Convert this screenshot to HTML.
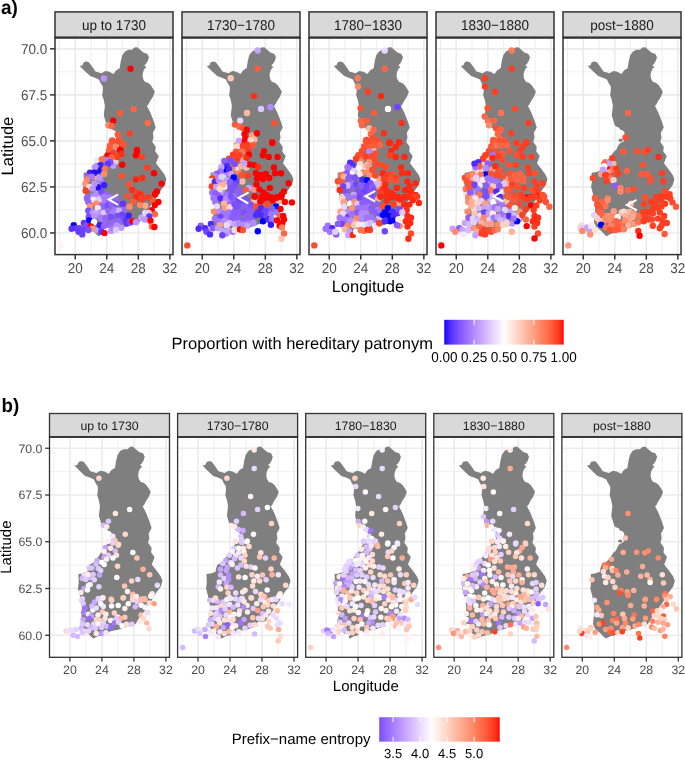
<!DOCTYPE html>
<html><head><meta charset="utf-8"><style>
html,body{margin:0;padding:0;background:#fff;width:685px;height:768px;overflow:hidden}
svg text{font-family:"Liberation Sans", sans-serif;text-rendering:geometricPrecision}
</style></head><body><div style="will-change:transform;width:685px;height:768px;filter:blur(0.3px)">
<svg width="685" height="768" viewBox="0 0 685 768" style="display:block"><rect width="685" height="768" fill="#fff"/><defs><clipPath id="ca0"><rect x="55" y="37.6" width="118" height="217.0"/></clipPath></defs><g clip-path="url(#ca0)"><line x1="59.47" y1="37.6" x2="59.47" y2="254.6" stroke="#ebebeb" stroke-width="0.8"/><line x1="91.01" y1="37.6" x2="91.01" y2="254.6" stroke="#ebebeb" stroke-width="0.8"/><line x1="122.55" y1="37.6" x2="122.55" y2="254.6" stroke="#ebebeb" stroke-width="0.8"/><line x1="154.09" y1="37.6" x2="154.09" y2="254.6" stroke="#ebebeb" stroke-width="0.8"/><line x1="55" y1="209.93" x2="173" y2="209.93" stroke="#ebebeb" stroke-width="0.8"/><line x1="55" y1="163.90" x2="173" y2="163.90" stroke="#ebebeb" stroke-width="0.8"/><line x1="55" y1="117.88" x2="173" y2="117.88" stroke="#ebebeb" stroke-width="0.8"/><line x1="55" y1="71.85" x2="173" y2="71.85" stroke="#ebebeb" stroke-width="0.8"/><line x1="75.24" y1="37.6" x2="75.24" y2="254.6" stroke="#ebebeb" stroke-width="1.6"/><line x1="106.78" y1="37.6" x2="106.78" y2="254.6" stroke="#ebebeb" stroke-width="1.6"/><line x1="138.32" y1="37.6" x2="138.32" y2="254.6" stroke="#ebebeb" stroke-width="1.6"/><line x1="169.86" y1="37.6" x2="169.86" y2="254.6" stroke="#ebebeb" stroke-width="1.6"/><line x1="55" y1="232.94" x2="173" y2="232.94" stroke="#ebebeb" stroke-width="1.6"/><line x1="55" y1="186.91" x2="173" y2="186.91" stroke="#ebebeb" stroke-width="1.6"/><line x1="55" y1="140.89" x2="173" y2="140.89" stroke="#ebebeb" stroke-width="1.6"/><line x1="55" y1="94.87" x2="173" y2="94.87" stroke="#ebebeb" stroke-width="1.6"/><line x1="55" y1="48.84" x2="173" y2="48.84" stroke="#ebebeb" stroke-width="1.6"/><polygon points="79.89,66.15 81.15,65.41 82.42,65.59 83.12,63.57 84.23,62.10 85.88,61.54 88.57,61.91 90.22,64.12 92.82,67.62 95.43,71.48 98.89,72.40 101.50,73.14 105.36,70.93 109.22,71.85 113.56,74.06 116.16,70.20 119.63,68.35 120.89,60.62 122.16,55.47 124.99,51.42 128.46,49.76 132.01,49.76 134.30,47.55 137.22,47.18 140.21,49.76 143.76,52.71 147.23,53.81 148.96,57.31 147.86,60.81 146.05,63.75 144.31,65.41 146.60,67.25 144.86,68.35 143.13,71.85 142.50,75.35 143.13,78.85 144.86,81.79 148.33,83.08 150.78,85.29 153.06,88.79 154.88,91.74 153.06,96.52 150.15,101.12 148.33,104.62 146.99,105.91 150.54,112.91 154.09,122.30 155.75,127.45 152.83,132.79 153.46,137.39 152.28,141.99 155.75,146.78 155.27,151.38 158.74,155.99 158.19,157.46 155.98,163.17 160.40,169.06 164.73,174.95 166.47,179.37 164.73,185.07 160.40,190.97 155.67,198.88 150.94,205.33 147.78,210.85 143.84,215.45 139.90,221.89 136.74,223.74 132.01,224.10 127.28,225.94 122.55,227.42 118.61,228.34 114.66,229.26 110.72,232.02 106.78,232.94 102.84,233.86 98.50,236.25 95.74,233.86 93.38,231.10 91.01,229.26 87.86,226.50 85.88,221.89 86.28,216.37 87.07,210.85 87.07,203.48 85.49,197.96 85.10,194.28 83.12,186.91 83.91,181.39 83.60,172.74 87.70,172.19 92.59,170.35 92.98,167.58 94.16,163.90 98.11,161.51 102.05,157.46 105.99,151.38 108.12,150.09 109.93,146.04 111.59,143.47 115.14,141.63 116.01,140.89 116.48,137.02 116.48,133.71 116.48,132.42 115.14,130.76 112.06,129.48 111.20,127.63 107.73,126.35 106.78,125.06 105.44,121.01 103.78,115.30 104.89,105.91 103.78,100.02 103.39,98.73 102.13,95.23 102.76,90.63 102.76,86.58 100.55,83.08 98.89,79.58 95.43,77.93 90.22,76.09 84.23,70.56" fill="#7f7f7f"/><polygon points="110.33,140.34 111.35,138.86 113.48,138.68 114.82,139.79 114.03,141.63 111.67,141.63" fill="#7f7f7f"/><circle cx="93.3" cy="195.7" r="3.2" fill="#af86ff"/><circle cx="145.3" cy="205.7" r="3.2" fill="#ffa88e"/><circle cx="97.3" cy="193.7" r="3.2" fill="#b790ff"/><circle cx="115.3" cy="161.7" r="3.2" fill="#ffc9b6"/><circle cx="93.3" cy="199.7" r="3.2" fill="#f4ecff"/><circle cx="121.3" cy="227.7" r="3.2" fill="#bd98ff"/><circle cx="103.3" cy="201.7" r="3.2" fill="#a77dff"/><circle cx="101.3" cy="191.7" r="3.2" fill="#794cff"/><circle cx="97.3" cy="229.7" r="3.2" fill="#c09dff"/><circle cx="113.3" cy="165.7" r="3.2" fill="#c19dff"/><circle cx="85.3" cy="183.7" r="3.2" fill="#ff9678"/><circle cx="103.3" cy="221.7" r="3.2" fill="#996dff"/><circle cx="123.3" cy="209.7" r="3.2" fill="#9568ff"/><circle cx="125.3" cy="219.7" r="3.2" fill="#6138ff"/><circle cx="115.3" cy="207.7" r="3.2" fill="#9f74ff"/><circle cx="101.3" cy="181.7" r="3.2" fill="#9b6fff"/><circle cx="107.3" cy="229.7" r="3.2" fill="#faf6ff"/><circle cx="109.3" cy="201.7" r="3.2" fill="#9266ff"/><circle cx="141.3" cy="217.7" r="3.2" fill="#c8a7ff"/><circle cx="130.5" cy="68.7" r="3.2" fill="#ff0000"/><circle cx="103.9" cy="78.5" r="3.2" fill="#ba95ff"/><circle cx="133.8" cy="109.1" r="3.2" fill="#ff6544"/><circle cx="120.3" cy="113.1" r="3.2" fill="#ff5b3a"/><circle cx="113.2" cy="120.8" r="3.2" fill="#ff0000"/><circle cx="108.3" cy="125.2" r="3.2" fill="#ff8969"/><circle cx="111.5" cy="125.9" r="3.2" fill="#ff6544"/><circle cx="147.7" cy="123.0" r="3.2" fill="#ff6a49"/><circle cx="129.7" cy="133.5" r="3.2" fill="#ff3e22"/><circle cx="117.8" cy="134.4" r="3.2" fill="#ff5b3a"/><circle cx="112.2" cy="140.5" r="3.2" fill="#ff5b3a"/><circle cx="118.8" cy="139.8" r="3.2" fill="#ff5b3a"/><circle cx="123.2" cy="144.2" r="3.2" fill="#ff5031"/><circle cx="110.0" cy="145.6" r="3.2" fill="#ff6544"/><circle cx="115.9" cy="146.4" r="3.2" fill="#ff9273"/><circle cx="120.3" cy="149.3" r="3.2" fill="#ff0000"/><circle cx="137.0" cy="150.0" r="3.2" fill="#ff0000"/><circle cx="111.9" cy="141.2" r="3.2" fill="#ff5031"/><circle cx="118.4" cy="141.8" r="3.2" fill="#ff4a2c"/><circle cx="123.0" cy="144.4" r="3.2" fill="#ff5031"/><circle cx="110.2" cy="146.4" r="3.2" fill="#ff5b3a"/><circle cx="115.8" cy="147.0" r="3.2" fill="#ff8969"/><circle cx="120.1" cy="149.9" r="3.2" fill="#ff0000"/><circle cx="109.0" cy="150.5" r="3.2" fill="#ff5b3a"/><circle cx="121.3" cy="154.0" r="3.2" fill="#ff2e16"/><circle cx="113.1" cy="153.4" r="3.2" fill="#ff3e22"/><circle cx="107.8" cy="155.8" r="3.2" fill="#ff0000"/><circle cx="117.2" cy="156.9" r="3.2" fill="#ff3e22"/><circle cx="111.4" cy="157.5" r="3.2" fill="#ff6544"/><circle cx="97.3" cy="160.4" r="3.2" fill="#efe3ff"/><circle cx="106.1" cy="159.9" r="3.2" fill="#a77cff"/><circle cx="102.0" cy="159.3" r="3.2" fill="#ff7352"/><circle cx="110.2" cy="162.2" r="3.2" fill="#7b4eff"/><circle cx="107.8" cy="163.9" r="3.2" fill="#6037ff"/><circle cx="100.3" cy="165.1" r="3.2" fill="#3f1fff"/><circle cx="96.2" cy="167.4" r="3.2" fill="#a77cff"/><circle cx="98.5" cy="170.4" r="3.2" fill="#220dff"/><circle cx="105.3" cy="168.6" r="3.2" fill="#ff7352"/><circle cx="104.1" cy="173.9" r="3.2" fill="#ff8969"/><circle cx="96.8" cy="177.4" r="3.2" fill="#ff9e81"/><circle cx="99.7" cy="178.0" r="3.2" fill="#ba95ff"/><circle cx="96.2" cy="185.0" r="3.2" fill="#ba95ff"/><circle cx="97.9" cy="187.3" r="3.2" fill="#220dff"/><circle cx="104.1" cy="185.3" r="3.2" fill="#3f1fff"/><circle cx="137.0" cy="151.7" r="3.2" fill="#ff0000"/><circle cx="135.9" cy="155.2" r="3.2" fill="#ff0000"/><circle cx="141.7" cy="156.9" r="3.2" fill="#ff3e22"/><circle cx="122.2" cy="164.8" r="3.2" fill="#ff0000"/><circle cx="147.3" cy="167.7" r="3.2" fill="#ff3e22"/><circle cx="154.0" cy="173.3" r="3.2" fill="#ff0000"/><circle cx="121.6" cy="176.0" r="3.2" fill="#ff5031"/><circle cx="135.9" cy="179.4" r="3.2" fill="#ff2410"/><circle cx="142.3" cy="178.0" r="3.2" fill="#ff2e16"/><circle cx="161.6" cy="183.6" r="3.2" fill="#ff0000"/><circle cx="129.2" cy="184.4" r="3.2" fill="#ff5031"/><circle cx="132.1" cy="190.0" r="3.2" fill="#ff2e16"/><circle cx="156.9" cy="191.4" r="3.2" fill="#ff0000"/><circle cx="155.1" cy="194.3" r="3.2" fill="#ff0000"/><circle cx="137.0" cy="192.6" r="3.2" fill="#ff3e22"/><circle cx="140.5" cy="194.3" r="3.2" fill="#ff2e16"/><circle cx="127.7" cy="196.1" r="3.2" fill="#ff5031"/><circle cx="135.9" cy="197.2" r="3.2" fill="#ff2e16"/><circle cx="142.9" cy="197.8" r="3.2" fill="#ff3e22"/><circle cx="148.7" cy="197.2" r="3.2" fill="#ff3e22"/><circle cx="103.2" cy="196.1" r="3.2" fill="#7b4eff"/><circle cx="106.7" cy="194.9" r="3.2" fill="#9265ff"/><circle cx="99.7" cy="198.4" r="3.2" fill="#ba95ff"/><circle cx="116.0" cy="197.8" r="3.2" fill="#9265ff"/><circle cx="94.9" cy="167.2" r="3.2" fill="#ba95ff"/><circle cx="90.0" cy="172.8" r="3.2" fill="#3f1fff"/><circle cx="94.4" cy="172.8" r="3.2" fill="#220dff"/><circle cx="87.4" cy="176.8" r="3.2" fill="#9265ff"/><circle cx="87.0" cy="179.4" r="3.2" fill="#ff8969"/><circle cx="91.8" cy="176.8" r="3.2" fill="#a77cff"/><circle cx="94.4" cy="183.8" r="3.2" fill="#ba95ff"/><circle cx="89.2" cy="186.9" r="3.2" fill="#ffd9cb"/><circle cx="92.7" cy="188.6" r="3.2" fill="#ba95ff"/><circle cx="85.7" cy="190.8" r="3.2" fill="#ff3e22"/><circle cx="87.0" cy="197.8" r="3.2" fill="#9265ff"/><circle cx="87.0" cy="198.5" r="3.2" fill="#9265ff"/><circle cx="98.8" cy="199.4" r="3.2" fill="#dec8ff"/><circle cx="104.0" cy="196.8" r="3.2" fill="#a77cff"/><circle cx="109.3" cy="197.6" r="3.2" fill="#a77cff"/><circle cx="88.3" cy="202.0" r="3.2" fill="#9265ff"/><circle cx="96.2" cy="203.8" r="3.2" fill="#ff8969"/><circle cx="90.0" cy="206.4" r="3.2" fill="#ff9273"/><circle cx="102.3" cy="206.4" r="3.2" fill="#9265ff"/><circle cx="97.9" cy="208.1" r="3.2" fill="#efe3ff"/><circle cx="107.6" cy="205.5" r="3.2" fill="#7b4eff"/><circle cx="111.9" cy="204.6" r="3.2" fill="#9265ff"/><circle cx="88.3" cy="210.8" r="3.2" fill="#7b4eff"/><circle cx="92.7" cy="212.5" r="3.2" fill="#ba95ff"/><circle cx="96.2" cy="213.4" r="3.2" fill="#cdaeff"/><circle cx="100.5" cy="212.5" r="3.2" fill="#ba95ff"/><circle cx="104.0" cy="213.0" r="3.2" fill="#dec8ff"/><circle cx="108.4" cy="210.8" r="3.2" fill="#9265ff"/><circle cx="112.8" cy="212.5" r="3.2" fill="#a77cff"/><circle cx="88.7" cy="216.9" r="3.2" fill="#7b4eff"/><circle cx="94.4" cy="216.0" r="3.2" fill="#ba95ff"/><circle cx="100.5" cy="217.8" r="3.2" fill="#a77cff"/><circle cx="105.8" cy="217.8" r="3.2" fill="#9265ff"/><circle cx="111.1" cy="216.9" r="3.2" fill="#7b4eff"/><circle cx="89.2" cy="220.4" r="3.2" fill="#0000ff"/><circle cx="94.0" cy="222.2" r="3.2" fill="#ffffff"/><circle cx="83.9" cy="223.0" r="3.2" fill="#6037ff"/><circle cx="85.7" cy="225.7" r="3.2" fill="#7b4eff"/><circle cx="73.8" cy="225.2" r="3.2" fill="#0000ff"/><circle cx="71.6" cy="228.7" r="3.2" fill="#6037ff"/><circle cx="76.0" cy="228.3" r="3.2" fill="#6037ff"/><circle cx="79.5" cy="228.3" r="3.2" fill="#6b41ff"/><circle cx="78.6" cy="231.8" r="3.2" fill="#6037ff"/><circle cx="82.2" cy="234.4" r="3.2" fill="#6b41ff"/><circle cx="83.0" cy="230.0" r="3.2" fill="#6b41ff"/><circle cx="90.9" cy="226.5" r="3.2" fill="#ff0000"/><circle cx="92.2" cy="228.7" r="3.2" fill="#ff9273"/><circle cx="88.3" cy="230.0" r="3.2" fill="#7b4eff"/><circle cx="99.7" cy="225.2" r="3.2" fill="#3f1fff"/><circle cx="104.0" cy="226.1" r="3.2" fill="#9265ff"/><circle cx="108.4" cy="224.8" r="3.2" fill="#9265ff"/><circle cx="112.8" cy="223.0" r="3.2" fill="#9265ff"/><circle cx="101.4" cy="231.8" r="3.2" fill="#6037ff"/><circle cx="104.5" cy="233.1" r="3.2" fill="#ff0000"/><circle cx="111.1" cy="230.9" r="3.2" fill="#ba95ff"/><circle cx="113.7" cy="228.3" r="3.2" fill="#a77cff"/><circle cx="60.3" cy="245.4" r="3.2" fill="#fff4ef"/><circle cx="116.3" cy="203.8" r="3.2" fill="#7b4eff"/><circle cx="122.9" cy="203.8" r="3.2" fill="#6037ff"/><circle cx="133.0" cy="201.6" r="3.2" fill="#ff5b3a"/><circle cx="129.5" cy="206.8" r="3.2" fill="#ff8969"/><circle cx="140.0" cy="205.1" r="3.2" fill="#ff8969"/><circle cx="141.3" cy="199.4" r="3.2" fill="#ff3e22"/><circle cx="153.1" cy="201.1" r="3.2" fill="#ff5b3a"/><circle cx="158.4" cy="202.0" r="3.2" fill="#ff0000"/><circle cx="154.9" cy="205.1" r="3.2" fill="#ff0000"/><circle cx="151.8" cy="210.3" r="3.2" fill="#ff0000"/><circle cx="154.9" cy="214.3" r="3.2" fill="#ff6544"/><circle cx="145.2" cy="213.0" r="3.2" fill="#e5d3ff"/><circle cx="148.7" cy="213.0" r="3.2" fill="#e5d3ff"/><circle cx="149.2" cy="216.5" r="3.2" fill="#6037ff"/><circle cx="144.8" cy="219.5" r="3.2" fill="#ba95ff"/><circle cx="150.5" cy="220.8" r="3.2" fill="#ff0000"/><circle cx="151.8" cy="226.5" r="3.2" fill="#ff7352"/><circle cx="154.4" cy="227.0" r="3.2" fill="#ff0000"/><circle cx="118.9" cy="210.8" r="3.2" fill="#cdaeff"/><circle cx="122.0" cy="214.7" r="3.2" fill="#6b41ff"/><circle cx="128.6" cy="215.6" r="3.2" fill="#3f1fff"/><circle cx="117.6" cy="216.0" r="3.2" fill="#7b4eff"/><circle cx="120.3" cy="218.6" r="3.2" fill="#7b4eff"/><circle cx="118.5" cy="221.3" r="3.2" fill="#9265ff"/><circle cx="126.8" cy="223.5" r="3.2" fill="#6037ff"/><circle cx="130.3" cy="222.6" r="3.2" fill="#7b4eff"/><circle cx="132.5" cy="221.3" r="3.2" fill="#ff0000"/><circle cx="136.0" cy="222.2" r="3.2" fill="#ba95ff"/><circle cx="116.8" cy="225.7" r="3.2" fill="#ba95ff"/><circle cx="115.9" cy="230.0" r="3.2" fill="#dec8ff"/><polyline points="117.3,194.8 108.8,199.6 117.3,204.4" fill="none" stroke="#fff" stroke-width="2.1" stroke-linecap="round" stroke-linejoin="miter"/></g><rect x="55" y="37.6" width="118" height="217.0" fill="none" stroke="#333" stroke-width="1.5"/><rect x="55" y="11.9" width="118" height="25.700000000000003" fill="#d9d9d9" stroke="#333" stroke-width="1.5"/><line x1="55" y1="37.6" x2="173" y2="37.6" stroke="#333" stroke-width="2.0"/><text x="114.00" y="29.60" font-size="14.2" fill="#1a1a1a" text-anchor="middle" textLength="63.81" lengthAdjust="spacingAndGlyphs">up to 1730</text><line x1="75.24" y1="254.6" x2="75.24" y2="259.6" stroke="#333" stroke-width="1.5"/><text x="75.24" y="272.60" font-size="14.2" fill="#4d4d4d" text-anchor="middle" textLength="15.02" lengthAdjust="spacingAndGlyphs">20</text><line x1="106.78" y1="254.6" x2="106.78" y2="259.6" stroke="#333" stroke-width="1.5"/><text x="106.78" y="272.60" font-size="14.2" fill="#4d4d4d" text-anchor="middle" textLength="15.02" lengthAdjust="spacingAndGlyphs">24</text><line x1="138.32" y1="254.6" x2="138.32" y2="259.6" stroke="#333" stroke-width="1.5"/><text x="138.32" y="272.60" font-size="14.2" fill="#4d4d4d" text-anchor="middle" textLength="15.02" lengthAdjust="spacingAndGlyphs">28</text><line x1="169.86" y1="254.6" x2="169.86" y2="259.6" stroke="#333" stroke-width="1.5"/><text x="169.86" y="272.60" font-size="14.2" fill="#4d4d4d" text-anchor="middle" textLength="15.02" lengthAdjust="spacingAndGlyphs">32</text><defs><clipPath id="ca1"><rect x="182" y="37.6" width="118" height="217.0"/></clipPath></defs><g clip-path="url(#ca1)"><line x1="186.47" y1="37.6" x2="186.47" y2="254.6" stroke="#ebebeb" stroke-width="0.8"/><line x1="218.01" y1="37.6" x2="218.01" y2="254.6" stroke="#ebebeb" stroke-width="0.8"/><line x1="249.55" y1="37.6" x2="249.55" y2="254.6" stroke="#ebebeb" stroke-width="0.8"/><line x1="281.09" y1="37.6" x2="281.09" y2="254.6" stroke="#ebebeb" stroke-width="0.8"/><line x1="182" y1="209.93" x2="300" y2="209.93" stroke="#ebebeb" stroke-width="0.8"/><line x1="182" y1="163.90" x2="300" y2="163.90" stroke="#ebebeb" stroke-width="0.8"/><line x1="182" y1="117.88" x2="300" y2="117.88" stroke="#ebebeb" stroke-width="0.8"/><line x1="182" y1="71.85" x2="300" y2="71.85" stroke="#ebebeb" stroke-width="0.8"/><line x1="202.24" y1="37.6" x2="202.24" y2="254.6" stroke="#ebebeb" stroke-width="1.6"/><line x1="233.78" y1="37.6" x2="233.78" y2="254.6" stroke="#ebebeb" stroke-width="1.6"/><line x1="265.32" y1="37.6" x2="265.32" y2="254.6" stroke="#ebebeb" stroke-width="1.6"/><line x1="296.86" y1="37.6" x2="296.86" y2="254.6" stroke="#ebebeb" stroke-width="1.6"/><line x1="182" y1="232.94" x2="300" y2="232.94" stroke="#ebebeb" stroke-width="1.6"/><line x1="182" y1="186.91" x2="300" y2="186.91" stroke="#ebebeb" stroke-width="1.6"/><line x1="182" y1="140.89" x2="300" y2="140.89" stroke="#ebebeb" stroke-width="1.6"/><line x1="182" y1="94.87" x2="300" y2="94.87" stroke="#ebebeb" stroke-width="1.6"/><line x1="182" y1="48.84" x2="300" y2="48.84" stroke="#ebebeb" stroke-width="1.6"/><polygon points="206.89,66.15 208.15,65.41 209.42,65.59 210.12,63.57 211.23,62.10 212.88,61.54 215.57,61.91 217.22,64.12 219.82,67.62 222.43,71.48 225.89,72.40 228.50,73.14 232.36,70.93 236.22,71.85 240.56,74.06 243.16,70.20 246.63,68.35 247.89,60.62 249.16,55.47 251.99,51.42 255.46,49.76 259.01,49.76 261.30,47.55 264.22,47.18 267.21,49.76 270.76,52.71 274.23,53.81 275.96,57.31 274.86,60.81 273.05,63.75 271.31,65.41 273.60,67.25 271.86,68.35 270.13,71.85 269.50,75.35 270.13,78.85 271.86,81.79 275.33,83.08 277.78,85.29 280.06,88.79 281.88,91.74 280.06,96.52 277.15,101.12 275.33,104.62 273.99,105.91 277.54,112.91 281.09,122.30 282.75,127.45 279.83,132.79 280.46,137.39 279.28,141.99 282.75,146.78 282.27,151.38 285.74,155.99 285.19,157.46 282.98,163.17 287.40,169.06 291.73,174.95 293.47,179.37 291.73,185.07 287.40,190.97 282.67,198.88 277.94,205.33 274.78,210.85 270.84,215.45 266.90,221.89 263.74,223.74 259.01,224.10 254.28,225.94 249.55,227.42 245.61,228.34 241.66,229.26 237.72,232.02 233.78,232.94 229.84,233.86 225.50,236.25 222.74,233.86 220.38,231.10 218.01,229.26 214.86,226.50 212.88,221.89 213.28,216.37 214.07,210.85 214.07,203.48 212.49,197.96 212.10,194.28 210.12,186.91 210.91,181.39 210.60,172.74 214.70,172.19 219.59,170.35 219.98,167.58 221.16,163.90 225.11,161.51 229.05,157.46 232.99,151.38 235.12,150.09 236.93,146.04 238.59,143.47 242.14,141.63 243.01,140.89 243.48,137.02 243.48,133.71 243.48,132.42 242.14,130.76 239.06,129.48 238.20,127.63 234.73,126.35 233.78,125.06 232.44,121.01 230.78,115.30 231.89,105.91 230.78,100.02 230.39,98.73 229.13,95.23 229.76,90.63 229.76,86.58 227.55,83.08 225.89,79.58 222.43,77.93 217.22,76.09 211.23,70.56" fill="#7f7f7f"/><polygon points="237.33,140.34 238.35,138.86 240.48,138.68 241.82,139.79 241.03,141.63 238.67,141.63" fill="#7f7f7f"/><circle cx="246.3" cy="199.5" r="3.2" fill="#7d51ff"/><circle cx="242.3" cy="181.5" r="3.2" fill="#ffb9a2"/><circle cx="254.3" cy="189.5" r="3.2" fill="#ff9476"/><circle cx="238.3" cy="171.5" r="3.2" fill="#ff8261"/><circle cx="252.3" cy="135.5" r="3.2" fill="#ffa184"/><circle cx="254.3" cy="201.5" r="3.2" fill="#ffbca6"/><circle cx="226.3" cy="173.5" r="3.2" fill="#ab81ff"/><circle cx="230.3" cy="201.5" r="3.2" fill="#9568ff"/><circle cx="246.3" cy="167.5" r="3.2" fill="#ffbda8"/><circle cx="242.3" cy="159.5" r="3.2" fill="#ffa88d"/><circle cx="236.3" cy="181.5" r="3.2" fill="#6a3fff"/><circle cx="258.3" cy="211.5" r="3.2" fill="#502bff"/><circle cx="230.3" cy="187.5" r="3.2" fill="#8053ff"/><circle cx="278.3" cy="201.5" r="3.2" fill="#ffb198"/><circle cx="222.3" cy="193.5" r="3.2" fill="#c4a2ff"/><circle cx="240.3" cy="195.5" r="3.2" fill="#875aff"/><circle cx="226.3" cy="233.5" r="3.2" fill="#ae85ff"/><circle cx="242.3" cy="201.5" r="3.2" fill="#7c50ff"/><circle cx="254.3" cy="139.5" r="3.2" fill="#ffb49c"/><circle cx="234.3" cy="209.5" r="3.2" fill="#8155ff"/><circle cx="236.3" cy="167.5" r="3.2" fill="#fff0eb"/><circle cx="257.7" cy="50.5" r="3.2" fill="#c4a2ff"/><circle cx="257.7" cy="68.8" r="3.2" fill="#ff5b3a"/><circle cx="230.7" cy="78.3" r="3.2" fill="#ffc6b2"/><circle cx="254.0" cy="96.1" r="3.2" fill="#ff2e16"/><circle cx="261.0" cy="108.9" r="3.2" fill="#ddc7ff"/><circle cx="270.4" cy="107.0" r="3.2" fill="#b38bff"/><circle cx="247.0" cy="113.0" r="3.2" fill="#ffbaa3"/><circle cx="240.1" cy="120.6" r="3.2" fill="#e9d9ff"/><circle cx="274.5" cy="123.1" r="3.2" fill="#ff5031"/><circle cx="235.0" cy="124.6" r="3.2" fill="#ff5b3a"/><circle cx="239.4" cy="126.8" r="3.2" fill="#ff6544"/><circle cx="243.1" cy="128.2" r="3.2" fill="#ff5b3a"/><circle cx="246.7" cy="129.7" r="3.2" fill="#ff0000"/><circle cx="256.9" cy="133.3" r="3.2" fill="#ff0000"/><circle cx="244.5" cy="134.1" r="3.2" fill="#ff0000"/><circle cx="245.3" cy="138.4" r="3.2" fill="#ff0000"/><circle cx="250.4" cy="140.2" r="3.2" fill="#ffd1c1"/><circle cx="239.1" cy="140.6" r="3.2" fill="#d4b9ff"/><circle cx="243.8" cy="142.8" r="3.2" fill="#ff0000"/><circle cx="272.3" cy="142.1" r="3.2" fill="#ff0000"/><circle cx="252.6" cy="144.3" r="3.2" fill="#ff5b3a"/><circle cx="237.2" cy="145.0" r="3.2" fill="#ff7352"/><circle cx="238.9" cy="141.2" r="3.2" fill="#c4a2ff"/><circle cx="244.8" cy="141.2" r="3.2" fill="#ff0000"/><circle cx="250.6" cy="141.2" r="3.2" fill="#ffd9cb"/><circle cx="237.2" cy="146.4" r="3.2" fill="#ffd9cb"/><circle cx="243.0" cy="145.8" r="3.2" fill="#ff3e22"/><circle cx="247.1" cy="144.7" r="3.2" fill="#ff3e22"/><circle cx="252.9" cy="145.3" r="3.2" fill="#ff5b3a"/><circle cx="236.0" cy="151.7" r="3.2" fill="#ff5031"/><circle cx="242.4" cy="151.7" r="3.2" fill="#ff7352"/><circle cx="248.3" cy="149.9" r="3.2" fill="#ff3e22"/><circle cx="233.1" cy="154.6" r="3.2" fill="#ff3e22"/><circle cx="239.5" cy="155.2" r="3.2" fill="#ff3e22"/><circle cx="248.9" cy="154.6" r="3.2" fill="#ff0000"/><circle cx="229.0" cy="158.7" r="3.2" fill="#ff3e22"/><circle cx="237.2" cy="158.7" r="3.2" fill="#ff3e22"/><circle cx="246.5" cy="158.1" r="3.2" fill="#ff2e16"/><circle cx="249.4" cy="164.5" r="3.2" fill="#ff0000"/><circle cx="254.1" cy="165.1" r="3.2" fill="#ff0000"/><circle cx="258.2" cy="166.9" r="3.2" fill="#ff2e16"/><circle cx="240.7" cy="166.3" r="3.2" fill="#ffb299"/><circle cx="232.5" cy="168.6" r="3.2" fill="#ff8160"/><circle cx="244.2" cy="163.4" r="3.2" fill="#c4a2ff"/><circle cx="224.3" cy="161.0" r="3.2" fill="#8a5dff"/><circle cx="230.2" cy="160.4" r="3.2" fill="#7c4fff"/><circle cx="234.8" cy="163.9" r="3.2" fill="#7c4fff"/><circle cx="226.7" cy="166.3" r="3.2" fill="#502bff"/><circle cx="224.9" cy="169.2" r="3.2" fill="#0000ff"/><circle cx="229.0" cy="169.2" r="3.2" fill="#502bff"/><circle cx="231.3" cy="173.9" r="3.2" fill="#c4a2ff"/><circle cx="233.7" cy="177.4" r="3.2" fill="#0000ff"/><circle cx="223.2" cy="177.4" r="3.2" fill="#e3d0ff"/><circle cx="226.7" cy="180.3" r="3.2" fill="#c4a2ff"/><circle cx="230.2" cy="182.0" r="3.2" fill="#8a5dff"/><circle cx="234.8" cy="185.5" r="3.2" fill="#7c4fff"/><circle cx="224.3" cy="186.7" r="3.2" fill="#ffece5"/><circle cx="223.2" cy="184.4" r="3.2" fill="#ffb299"/><circle cx="231.9" cy="191.4" r="3.2" fill="#7c4fff"/><circle cx="238.9" cy="190.8" r="3.2" fill="#8a5dff"/><circle cx="226.1" cy="194.9" r="3.2" fill="#a074ff"/><circle cx="233.7" cy="196.1" r="3.2" fill="#a074ff"/><circle cx="226.7" cy="198.4" r="3.2" fill="#b38bff"/><circle cx="248.9" cy="187.9" r="3.2" fill="#c4a2ff"/><circle cx="245.9" cy="190.2" r="3.2" fill="#ff5b3a"/><circle cx="272.2" cy="142.9" r="3.2" fill="#ff0000"/><circle cx="264.0" cy="151.1" r="3.2" fill="#ff0000"/><circle cx="262.9" cy="155.2" r="3.2" fill="#ff0000"/><circle cx="268.7" cy="156.9" r="3.2" fill="#ff0000"/><circle cx="277.5" cy="156.9" r="3.2" fill="#ff0000"/><circle cx="274.0" cy="167.4" r="3.2" fill="#ff0000"/><circle cx="275.1" cy="173.3" r="3.2" fill="#ff0000"/><circle cx="281.0" cy="173.3" r="3.2" fill="#ff0000"/><circle cx="241.9" cy="175.0" r="3.2" fill="#ff5031"/><circle cx="248.3" cy="175.6" r="3.2" fill="#ff3e22"/><circle cx="255.9" cy="173.3" r="3.2" fill="#ff0000"/><circle cx="260.5" cy="175.0" r="3.2" fill="#ff0000"/><circle cx="265.8" cy="173.9" r="3.2" fill="#ff0000"/><circle cx="257.0" cy="178.5" r="3.2" fill="#ff0000"/><circle cx="262.9" cy="179.1" r="3.2" fill="#ff0000"/><circle cx="269.3" cy="178.0" r="3.2" fill="#ff0000"/><circle cx="288.6" cy="183.2" r="3.2" fill="#ff0000"/><circle cx="256.5" cy="184.4" r="3.2" fill="#ff0000"/><circle cx="269.9" cy="187.9" r="3.2" fill="#ff0000"/><circle cx="259.4" cy="189.6" r="3.2" fill="#ff0000"/><circle cx="263.5" cy="192.6" r="3.2" fill="#ff0000"/><circle cx="283.9" cy="191.4" r="3.2" fill="#ff0000"/><circle cx="254.7" cy="196.1" r="3.2" fill="#ff0000"/><circle cx="266.4" cy="194.9" r="3.2" fill="#ff0000"/><circle cx="271.1" cy="197.2" r="3.2" fill="#ff0000"/><circle cx="276.9" cy="197.2" r="3.2" fill="#ff0000"/><circle cx="281.6" cy="194.9" r="3.2" fill="#ff0000"/><circle cx="261.7" cy="197.2" r="3.2" fill="#ff0000"/><circle cx="221.4" cy="167.2" r="3.2" fill="#c4a2ff"/><circle cx="220.5" cy="171.5" r="3.2" fill="#a074ff"/><circle cx="217.0" cy="173.7" r="3.2" fill="#8a5dff"/><circle cx="214.4" cy="175.9" r="3.2" fill="#b38bff"/><circle cx="212.2" cy="178.5" r="3.2" fill="#ff3e22"/><circle cx="210.9" cy="181.2" r="3.2" fill="#ffece5"/><circle cx="214.8" cy="182.0" r="3.2" fill="#502bff"/><circle cx="218.8" cy="180.3" r="3.2" fill="#b38bff"/><circle cx="211.8" cy="186.4" r="3.2" fill="#ff3e22"/><circle cx="216.2" cy="186.9" r="3.2" fill="#c4a2ff"/><circle cx="220.5" cy="185.5" r="3.2" fill="#ffb299"/><circle cx="219.7" cy="189.0" r="3.2" fill="#ffd9cb"/><circle cx="212.2" cy="192.6" r="3.2" fill="#a074ff"/><circle cx="215.3" cy="193.4" r="3.2" fill="#8a5dff"/><circle cx="218.8" cy="196.1" r="3.2" fill="#8a5dff"/><circle cx="213.5" cy="197.8" r="3.2" fill="#a074ff"/><circle cx="221.4" cy="176.8" r="3.2" fill="#e3d0ff"/><circle cx="214.4" cy="198.5" r="3.2" fill="#a074ff"/><circle cx="220.5" cy="198.5" r="3.2" fill="#502bff"/><circle cx="225.8" cy="199.4" r="3.2" fill="#b38bff"/><circle cx="231.0" cy="196.8" r="3.2" fill="#7c4fff"/><circle cx="234.6" cy="200.3" r="3.2" fill="#8a5dff"/><circle cx="238.9" cy="199.4" r="3.2" fill="#7145ff"/><circle cx="215.3" cy="202.0" r="3.2" fill="#a074ff"/><circle cx="224.0" cy="203.8" r="3.2" fill="#ffb299"/><circle cx="217.0" cy="206.4" r="3.2" fill="#e9d9ff"/><circle cx="224.9" cy="208.1" r="3.2" fill="#ff9e81"/><circle cx="229.7" cy="207.3" r="3.2" fill="#ffd9cb"/><circle cx="234.6" cy="204.6" r="3.2" fill="#7c4fff"/><circle cx="238.1" cy="206.4" r="3.2" fill="#7c4fff"/><circle cx="214.0" cy="211.6" r="3.2" fill="#ff8969"/><circle cx="219.7" cy="211.6" r="3.2" fill="#b38bff"/><circle cx="223.2" cy="213.4" r="3.2" fill="#a074ff"/><circle cx="229.3" cy="212.5" r="3.2" fill="#a074ff"/><circle cx="233.7" cy="213.4" r="3.2" fill="#8a5dff"/><circle cx="238.9" cy="212.5" r="3.2" fill="#8a5dff"/><circle cx="214.8" cy="218.6" r="3.2" fill="#a074ff"/><circle cx="220.5" cy="216.9" r="3.2" fill="#7145ff"/><circle cx="226.7" cy="216.9" r="3.2" fill="#a074ff"/><circle cx="231.9" cy="217.8" r="3.2" fill="#8a5dff"/><circle cx="237.2" cy="217.8" r="3.2" fill="#8a5dff"/><circle cx="218.8" cy="221.3" r="3.2" fill="#a074ff"/><circle cx="224.0" cy="221.3" r="3.2" fill="#b38bff"/><circle cx="229.3" cy="223.0" r="3.2" fill="#d4b9ff"/><circle cx="234.6" cy="223.9" r="3.2" fill="#c4a2ff"/><circle cx="238.9" cy="223.0" r="3.2" fill="#b38bff"/><circle cx="210.9" cy="223.9" r="3.2" fill="#502bff"/><circle cx="212.7" cy="228.3" r="3.2" fill="#8a5dff"/><circle cx="200.8" cy="225.7" r="3.2" fill="#8a5dff"/><circle cx="198.6" cy="228.7" r="3.2" fill="#502bff"/><circle cx="205.2" cy="228.3" r="3.2" fill="#502bff"/><circle cx="206.5" cy="231.8" r="3.2" fill="#7145ff"/><circle cx="210.0" cy="234.4" r="3.2" fill="#502bff"/><circle cx="219.7" cy="225.2" r="3.2" fill="#ff9e81"/><circle cx="226.7" cy="225.2" r="3.2" fill="#e9d9ff"/><circle cx="217.9" cy="228.3" r="3.2" fill="#c4a2ff"/><circle cx="223.2" cy="230.9" r="3.2" fill="#c4a2ff"/><circle cx="229.3" cy="230.9" r="3.2" fill="#c4a2ff"/><circle cx="232.8" cy="231.8" r="3.2" fill="#a074ff"/><circle cx="222.3" cy="235.3" r="3.2" fill="#7145ff"/><circle cx="234.6" cy="230.0" r="3.2" fill="#ffd9cb"/><circle cx="240.2" cy="229.6" r="3.2" fill="#ff0000"/><circle cx="187.3" cy="245.4" r="3.2" fill="#ff4a2c"/><circle cx="244.6" cy="206.4" r="3.2" fill="#8a5dff"/><circle cx="247.3" cy="209.0" r="3.2" fill="#8a5dff"/><circle cx="243.8" cy="212.5" r="3.2" fill="#7c4fff"/><circle cx="250.8" cy="204.6" r="3.2" fill="#7c4fff"/><circle cx="250.8" cy="210.8" r="3.2" fill="#8a5dff"/><circle cx="246.4" cy="216.0" r="3.2" fill="#8a5dff"/><circle cx="250.8" cy="217.8" r="3.2" fill="#8a5dff"/><circle cx="243.8" cy="220.4" r="3.2" fill="#8a5dff"/><circle cx="248.1" cy="223.0" r="3.2" fill="#a074ff"/><circle cx="253.4" cy="223.0" r="3.2" fill="#b38bff"/><circle cx="243.8" cy="224.8" r="3.2" fill="#b38bff"/><circle cx="247.3" cy="225.7" r="3.2" fill="#c4a2ff"/><circle cx="242.9" cy="230.0" r="3.2" fill="#ff5031"/><circle cx="254.7" cy="196.8" r="3.2" fill="#ff0000"/><circle cx="260.4" cy="201.6" r="3.2" fill="#ff0000"/><circle cx="256.0" cy="206.4" r="3.2" fill="#ff4a2c"/><circle cx="260.8" cy="208.1" r="3.2" fill="#502bff"/><circle cx="265.6" cy="210.8" r="3.2" fill="#7145ff"/><circle cx="267.0" cy="204.6" r="3.2" fill="#ff4a2c"/><circle cx="263.9" cy="198.5" r="3.2" fill="#ff0000"/><circle cx="268.3" cy="197.6" r="3.2" fill="#ff0000"/><circle cx="272.7" cy="200.3" r="3.2" fill="#ff0000"/><circle cx="277.0" cy="197.6" r="3.2" fill="#ff0000"/><circle cx="281.4" cy="196.8" r="3.2" fill="#ff0000"/><circle cx="284.9" cy="202.0" r="3.2" fill="#ff0000"/><circle cx="291.9" cy="202.4" r="3.2" fill="#ff0000"/><circle cx="276.2" cy="206.4" r="3.2" fill="#0000ff"/><circle cx="272.2" cy="209.0" r="3.2" fill="#8a5dff"/><circle cx="277.0" cy="212.5" r="3.2" fill="#a074ff"/><circle cx="280.5" cy="209.0" r="3.2" fill="#ff0000"/><circle cx="256.0" cy="215.1" r="3.2" fill="#502bff"/><circle cx="261.3" cy="215.1" r="3.2" fill="#502bff"/><circle cx="266.5" cy="215.1" r="3.2" fill="#7145ff"/><circle cx="270.9" cy="214.3" r="3.2" fill="#a074ff"/><circle cx="263.0" cy="221.3" r="3.2" fill="#0000ff"/><circle cx="268.3" cy="219.5" r="3.2" fill="#502bff"/><circle cx="271.8" cy="219.5" r="3.2" fill="#a074ff"/><circle cx="279.7" cy="216.0" r="3.2" fill="#ff6544"/><circle cx="283.2" cy="216.0" r="3.2" fill="#ff0000"/><circle cx="284.0" cy="219.5" r="3.2" fill="#ff0000"/><circle cx="277.0" cy="220.4" r="3.2" fill="#ff0000"/><circle cx="282.3" cy="223.0" r="3.2" fill="#ff0000"/><circle cx="279.7" cy="225.7" r="3.2" fill="#ff0000"/><circle cx="281.9" cy="227.4" r="3.2" fill="#ff8160"/><circle cx="284.0" cy="233.5" r="3.2" fill="#ff6544"/><circle cx="281.4" cy="238.8" r="3.2" fill="#ffc6b2"/><circle cx="257.8" cy="231.3" r="3.2" fill="#0000ff"/><circle cx="270.9" cy="224.8" r="3.2" fill="#3117ff"/><polyline points="247.9,192.9 238.5,197.9 247.5,203.0" fill="none" stroke="#fff" stroke-width="2.1" stroke-linecap="round" stroke-linejoin="miter"/></g><rect x="182" y="37.6" width="118" height="217.0" fill="none" stroke="#333" stroke-width="1.5"/><rect x="182" y="11.9" width="118" height="25.700000000000003" fill="#d9d9d9" stroke="#333" stroke-width="1.5"/><line x1="182" y1="37.6" x2="300" y2="37.6" stroke="#333" stroke-width="2.0"/><text x="241.00" y="29.60" font-size="14.2" fill="#1a1a1a" text-anchor="middle" textLength="67.95" lengthAdjust="spacingAndGlyphs">1730−1780</text><line x1="202.24" y1="254.6" x2="202.24" y2="259.6" stroke="#333" stroke-width="1.5"/><text x="202.24" y="272.60" font-size="14.2" fill="#4d4d4d" text-anchor="middle" textLength="15.02" lengthAdjust="spacingAndGlyphs">20</text><line x1="233.78" y1="254.6" x2="233.78" y2="259.6" stroke="#333" stroke-width="1.5"/><text x="233.78" y="272.60" font-size="14.2" fill="#4d4d4d" text-anchor="middle" textLength="15.02" lengthAdjust="spacingAndGlyphs">24</text><line x1="265.32" y1="254.6" x2="265.32" y2="259.6" stroke="#333" stroke-width="1.5"/><text x="265.32" y="272.60" font-size="14.2" fill="#4d4d4d" text-anchor="middle" textLength="15.02" lengthAdjust="spacingAndGlyphs">28</text><line x1="296.86" y1="254.6" x2="296.86" y2="259.6" stroke="#333" stroke-width="1.5"/><text x="296.86" y="272.60" font-size="14.2" fill="#4d4d4d" text-anchor="middle" textLength="15.02" lengthAdjust="spacingAndGlyphs">32</text><defs><clipPath id="ca2"><rect x="309" y="37.6" width="118" height="217.0"/></clipPath></defs><g clip-path="url(#ca2)"><line x1="313.47" y1="37.6" x2="313.47" y2="254.6" stroke="#ebebeb" stroke-width="0.8"/><line x1="345.01" y1="37.6" x2="345.01" y2="254.6" stroke="#ebebeb" stroke-width="0.8"/><line x1="376.55" y1="37.6" x2="376.55" y2="254.6" stroke="#ebebeb" stroke-width="0.8"/><line x1="408.09" y1="37.6" x2="408.09" y2="254.6" stroke="#ebebeb" stroke-width="0.8"/><line x1="309" y1="209.93" x2="427" y2="209.93" stroke="#ebebeb" stroke-width="0.8"/><line x1="309" y1="163.90" x2="427" y2="163.90" stroke="#ebebeb" stroke-width="0.8"/><line x1="309" y1="117.88" x2="427" y2="117.88" stroke="#ebebeb" stroke-width="0.8"/><line x1="309" y1="71.85" x2="427" y2="71.85" stroke="#ebebeb" stroke-width="0.8"/><line x1="329.24" y1="37.6" x2="329.24" y2="254.6" stroke="#ebebeb" stroke-width="1.6"/><line x1="360.78" y1="37.6" x2="360.78" y2="254.6" stroke="#ebebeb" stroke-width="1.6"/><line x1="392.32" y1="37.6" x2="392.32" y2="254.6" stroke="#ebebeb" stroke-width="1.6"/><line x1="423.86" y1="37.6" x2="423.86" y2="254.6" stroke="#ebebeb" stroke-width="1.6"/><line x1="309" y1="232.94" x2="427" y2="232.94" stroke="#ebebeb" stroke-width="1.6"/><line x1="309" y1="186.91" x2="427" y2="186.91" stroke="#ebebeb" stroke-width="1.6"/><line x1="309" y1="140.89" x2="427" y2="140.89" stroke="#ebebeb" stroke-width="1.6"/><line x1="309" y1="94.87" x2="427" y2="94.87" stroke="#ebebeb" stroke-width="1.6"/><line x1="309" y1="48.84" x2="427" y2="48.84" stroke="#ebebeb" stroke-width="1.6"/><polygon points="333.89,66.15 335.15,65.41 336.42,65.59 337.12,63.57 338.23,62.10 339.88,61.54 342.57,61.91 344.22,64.12 346.82,67.62 349.43,71.48 352.89,72.40 355.50,73.14 359.36,70.93 363.22,71.85 367.56,74.06 370.16,70.20 373.63,68.35 374.89,60.62 376.16,55.47 378.99,51.42 382.46,49.76 386.01,49.76 388.30,47.55 391.22,47.18 394.21,49.76 397.76,52.71 401.23,53.81 402.96,57.31 401.86,60.81 400.05,63.75 398.31,65.41 400.60,67.25 398.86,68.35 397.13,71.85 396.50,75.35 397.13,78.85 398.86,81.79 402.33,83.08 404.78,85.29 407.06,88.79 408.88,91.74 407.06,96.52 404.15,101.12 402.33,104.62 400.99,105.91 404.54,112.91 408.09,122.30 409.75,127.45 406.83,132.79 407.46,137.39 406.28,141.99 409.75,146.78 409.27,151.38 412.74,155.99 412.19,157.46 409.98,163.17 414.40,169.06 418.73,174.95 420.47,179.37 418.73,185.07 414.40,190.97 409.67,198.88 404.94,205.33 401.78,210.85 397.84,215.45 393.90,221.89 390.74,223.74 386.01,224.10 381.28,225.94 376.55,227.42 372.61,228.34 368.66,229.26 364.72,232.02 360.78,232.94 356.84,233.86 352.50,236.25 349.74,233.86 347.38,231.10 345.01,229.26 341.86,226.50 339.88,221.89 340.28,216.37 341.07,210.85 341.07,203.48 339.49,197.96 339.10,194.28 337.12,186.91 337.91,181.39 337.60,172.74 341.70,172.19 346.59,170.35 346.98,167.58 348.16,163.90 352.11,161.51 356.05,157.46 359.99,151.38 362.12,150.09 363.93,146.04 365.59,143.47 369.14,141.63 370.01,140.89 370.48,137.02 370.48,133.71 370.48,132.42 369.14,130.76 366.06,129.48 365.20,127.63 361.73,126.35 360.78,125.06 359.44,121.01 357.78,115.30 358.89,105.91 357.78,100.02 357.39,98.73 356.13,95.23 356.76,90.63 356.76,86.58 354.55,83.08 352.89,79.58 349.43,77.93 344.22,76.09 338.23,70.56" fill="#7f7f7f"/><polygon points="364.33,140.34 365.35,138.86 367.48,138.68 368.82,139.79 368.03,141.63 365.67,141.63" fill="#7f7f7f"/><circle cx="379.3" cy="179.5" r="3.2" fill="#ffa488"/><circle cx="347.3" cy="211.5" r="3.2" fill="#b28aff"/><circle cx="361.3" cy="159.5" r="3.2" fill="#ff8261"/><circle cx="369.3" cy="161.5" r="3.2" fill="#ff8f6f"/><circle cx="397.3" cy="213.5" r="3.2" fill="#6138ff"/><circle cx="369.3" cy="191.5" r="3.2" fill="#7d51ff"/><circle cx="379.3" cy="217.5" r="3.2" fill="#d8bfff"/><circle cx="373.3" cy="179.5" r="3.2" fill="#f9f4ff"/><circle cx="373.3" cy="149.5" r="3.2" fill="#ffb69e"/><circle cx="385.3" cy="211.5" r="3.2" fill="#0000ff"/><circle cx="351.3" cy="183.5" r="3.2" fill="#a176ff"/><circle cx="377.3" cy="199.5" r="3.2" fill="#ffb39b"/><circle cx="399.3" cy="203.5" r="3.2" fill="#ffaa90"/><circle cx="367.3" cy="171.5" r="3.2" fill="#ff9071"/><circle cx="363.3" cy="167.5" r="3.2" fill="#ffd6c7"/><circle cx="381.3" cy="183.5" r="3.2" fill="#ff9e81"/><circle cx="339.3" cy="185.5" r="3.2" fill="#ffc8b5"/><circle cx="379.3" cy="213.5" r="3.2" fill="#794dff"/><circle cx="379.3" cy="187.5" r="3.2" fill="#ff9678"/><circle cx="355.3" cy="221.5" r="3.2" fill="#ffbda7"/><circle cx="384.7" cy="50.5" r="3.2" fill="#e9d9ff"/><circle cx="384.7" cy="68.8" r="3.2" fill="#ff6544"/><circle cx="357.7" cy="78.3" r="3.2" fill="#ff7c5b"/><circle cx="357.9" cy="86.6" r="3.2" fill="#ff8969"/><circle cx="367.9" cy="91.7" r="3.2" fill="#ff3e22"/><circle cx="381.0" cy="96.1" r="3.2" fill="#ff2410"/><circle cx="360.6" cy="108.1" r="3.2" fill="#ff5031"/><circle cx="374.0" cy="113.0" r="3.2" fill="#ff5b3a"/><circle cx="388.0" cy="108.9" r="3.2" fill="#ffffff"/><circle cx="397.4" cy="107.0" r="3.2" fill="#7145ff"/><circle cx="360.9" cy="120.9" r="3.2" fill="#ff6544"/><circle cx="367.1" cy="120.6" r="3.2" fill="#ff5b3a"/><circle cx="362.0" cy="125.3" r="3.2" fill="#ff6544"/><circle cx="369.3" cy="128.5" r="3.2" fill="#ffbaa3"/><circle cx="373.7" cy="129.7" r="3.2" fill="#ff6544"/><circle cx="383.9" cy="133.3" r="3.2" fill="#ff2e16"/><circle cx="401.5" cy="123.1" r="3.2" fill="#ff2e16"/><circle cx="370.8" cy="134.1" r="3.2" fill="#ff6544"/><circle cx="366.4" cy="139.9" r="3.2" fill="#ff3e22"/><circle cx="372.3" cy="138.4" r="3.2" fill="#ff4a2c"/><circle cx="377.4" cy="140.2" r="3.2" fill="#ff5031"/><circle cx="389.8" cy="142.5" r="3.2" fill="#ff2913"/><circle cx="399.3" cy="142.5" r="3.2" fill="#ff2913"/><circle cx="369.3" cy="143.5" r="3.2" fill="#ff5031"/><circle cx="379.6" cy="144.3" r="3.2" fill="#ff5b3a"/><circle cx="365.9" cy="141.2" r="3.2" fill="#ff5031"/><circle cx="372.4" cy="141.2" r="3.2" fill="#ff5031"/><circle cx="378.2" cy="141.8" r="3.2" fill="#ff5031"/><circle cx="364.2" cy="146.4" r="3.2" fill="#ff5031"/><circle cx="369.4" cy="147.0" r="3.2" fill="#ff5b3a"/><circle cx="374.1" cy="145.3" r="3.2" fill="#ff5b3a"/><circle cx="379.9" cy="145.3" r="3.2" fill="#ff6544"/><circle cx="361.8" cy="151.1" r="3.2" fill="#ff4a2c"/><circle cx="369.4" cy="151.7" r="3.2" fill="#b38bff"/><circle cx="375.3" cy="153.4" r="3.2" fill="#ff5031"/><circle cx="358.3" cy="155.2" r="3.2" fill="#ff4a2c"/><circle cx="365.4" cy="156.4" r="3.2" fill="#ff3e22"/><circle cx="371.2" cy="156.4" r="3.2" fill="#ff4a2c"/><circle cx="356.0" cy="158.7" r="3.2" fill="#ff3e22"/><circle cx="375.3" cy="159.9" r="3.2" fill="#ff4a2c"/><circle cx="377.0" cy="164.5" r="3.2" fill="#ff4a2c"/><circle cx="381.7" cy="165.1" r="3.2" fill="#ff4a2c"/><circle cx="385.8" cy="166.9" r="3.2" fill="#ff4a2c"/><circle cx="360.1" cy="163.9" r="3.2" fill="#ffd9cb"/><circle cx="366.5" cy="165.1" r="3.2" fill="#ffb299"/><circle cx="368.9" cy="166.9" r="3.2" fill="#ff9e81"/><circle cx="358.9" cy="168.0" r="3.2" fill="#fff7f5"/><circle cx="363.0" cy="172.7" r="3.2" fill="#ff8160"/><circle cx="369.4" cy="175.0" r="3.2" fill="#ff9273"/><circle cx="359.5" cy="173.9" r="3.2" fill="#ffece5"/><circle cx="372.4" cy="169.8" r="3.2" fill="#ff4a2c"/><circle cx="375.3" cy="175.6" r="3.2" fill="#ff4a2c"/><circle cx="352.5" cy="165.1" r="3.2" fill="#502bff"/><circle cx="350.2" cy="163.4" r="3.2" fill="#7145ff"/><circle cx="350.8" cy="169.2" r="3.2" fill="#a074ff"/><circle cx="353.7" cy="170.9" r="3.2" fill="#e3d0ff"/><circle cx="351.3" cy="173.9" r="3.2" fill="#ffffff"/><circle cx="350.2" cy="177.4" r="3.2" fill="#8a5dff"/><circle cx="354.8" cy="177.4" r="3.2" fill="#7c4fff"/><circle cx="362.4" cy="179.7" r="3.2" fill="#502bff"/><circle cx="367.1" cy="180.3" r="3.2" fill="#0000ff"/><circle cx="370.6" cy="183.2" r="3.2" fill="#7c4fff"/><circle cx="377.0" cy="183.8" r="3.2" fill="#d4b9ff"/><circle cx="356.0" cy="184.4" r="3.2" fill="#7145ff"/><circle cx="360.7" cy="185.5" r="3.2" fill="#8a5dff"/><circle cx="366.5" cy="186.1" r="3.2" fill="#7145ff"/><circle cx="372.4" cy="186.7" r="3.2" fill="#8a5dff"/><circle cx="351.3" cy="187.9" r="3.2" fill="#8a5dff"/><circle cx="358.3" cy="191.4" r="3.2" fill="#7c4fff"/><circle cx="364.2" cy="191.4" r="3.2" fill="#7145ff"/><circle cx="373.5" cy="190.2" r="3.2" fill="#7c4fff"/><circle cx="353.7" cy="194.9" r="3.2" fill="#c4a2ff"/><circle cx="360.7" cy="194.9" r="3.2" fill="#7c4fff"/><circle cx="367.7" cy="196.1" r="3.2" fill="#8a5dff"/><circle cx="372.4" cy="196.1" r="3.2" fill="#7c4fff"/><circle cx="389.3" cy="142.9" r="3.2" fill="#ff2913"/><circle cx="399.2" cy="142.3" r="3.2" fill="#ff2913"/><circle cx="395.7" cy="147.0" r="3.2" fill="#ff2913"/><circle cx="391.0" cy="151.1" r="3.2" fill="#ff2913"/><circle cx="389.9" cy="155.2" r="3.2" fill="#ff3e22"/><circle cx="395.7" cy="156.9" r="3.2" fill="#ff2913"/><circle cx="404.5" cy="156.9" r="3.2" fill="#ff2913"/><circle cx="401.0" cy="167.4" r="3.2" fill="#ff2913"/><circle cx="402.1" cy="173.3" r="3.2" fill="#ff2913"/><circle cx="408.0" cy="173.3" r="3.2" fill="#ff2913"/><circle cx="382.9" cy="173.3" r="3.2" fill="#ff2913"/><circle cx="387.5" cy="175.0" r="3.2" fill="#ff3e22"/><circle cx="392.8" cy="173.9" r="3.2" fill="#ff5031"/><circle cx="384.0" cy="179.1" r="3.2" fill="#ff3e22"/><circle cx="389.9" cy="179.7" r="3.2" fill="#ff5031"/><circle cx="396.3" cy="178.0" r="3.2" fill="#ff3e22"/><circle cx="396.3" cy="180.9" r="3.2" fill="#ff5031"/><circle cx="407.4" cy="181.5" r="3.2" fill="#ff2913"/><circle cx="415.6" cy="183.2" r="3.2" fill="#ff2913"/><circle cx="385.2" cy="184.4" r="3.2" fill="#ff2913"/><circle cx="382.9" cy="189.1" r="3.2" fill="#ff2913"/><circle cx="396.9" cy="187.9" r="3.2" fill="#ff2913"/><circle cx="405.1" cy="190.2" r="3.2" fill="#ff2913"/><circle cx="409.7" cy="186.7" r="3.2" fill="#ff2913"/><circle cx="410.9" cy="191.4" r="3.2" fill="#ff2913"/><circle cx="386.4" cy="190.2" r="3.2" fill="#ff2913"/><circle cx="391.0" cy="192.6" r="3.2" fill="#ff2913"/><circle cx="380.5" cy="196.1" r="3.2" fill="#ff2913"/><circle cx="386.4" cy="195.5" r="3.2" fill="#ff2913"/><circle cx="393.4" cy="194.9" r="3.2" fill="#ff2913"/><circle cx="398.1" cy="197.2" r="3.2" fill="#ff2913"/><circle cx="403.9" cy="197.2" r="3.2" fill="#ff2913"/><circle cx="409.7" cy="196.1" r="3.2" fill="#ff2913"/><circle cx="415.6" cy="194.9" r="3.2" fill="#ff2913"/><circle cx="414.4" cy="197.2" r="3.2" fill="#ff3e22"/><circle cx="380.5" cy="191.4" r="3.2" fill="#ff3e22"/><circle cx="350.2" cy="162.8" r="3.2" fill="#502bff"/><circle cx="347.5" cy="167.2" r="3.2" fill="#a074ff"/><circle cx="346.7" cy="173.3" r="3.2" fill="#8a5dff"/><circle cx="341.4" cy="175.0" r="3.2" fill="#ff7352"/><circle cx="344.0" cy="176.8" r="3.2" fill="#ffb299"/><circle cx="337.9" cy="181.2" r="3.2" fill="#ff4a2c"/><circle cx="341.8" cy="182.0" r="3.2" fill="#ff5b3a"/><circle cx="348.4" cy="178.5" r="3.2" fill="#8a5dff"/><circle cx="347.5" cy="185.5" r="3.2" fill="#d4b9ff"/><circle cx="343.2" cy="186.4" r="3.2" fill="#7145ff"/><circle cx="339.7" cy="189.9" r="3.2" fill="#ff2913"/><circle cx="345.8" cy="192.6" r="3.2" fill="#7c4fff"/><circle cx="342.3" cy="196.9" r="3.2" fill="#ffc6b2"/><circle cx="346.7" cy="196.1" r="3.2" fill="#a074ff"/><circle cx="342.3" cy="198.5" r="3.2" fill="#ffd1c1"/><circle cx="350.2" cy="198.5" r="3.2" fill="#a074ff"/><circle cx="354.5" cy="197.6" r="3.2" fill="#a074ff"/><circle cx="359.8" cy="197.2" r="3.2" fill="#7145ff"/><circle cx="365.1" cy="197.6" r="3.2" fill="#8a5dff"/><circle cx="344.0" cy="202.0" r="3.2" fill="#ff9e81"/><circle cx="350.2" cy="203.8" r="3.2" fill="#ffffff"/><circle cx="354.5" cy="202.0" r="3.2" fill="#ff9273"/><circle cx="357.6" cy="204.2" r="3.2" fill="#ddc7ff"/><circle cx="362.4" cy="202.9" r="3.2" fill="#8a5dff"/><circle cx="366.8" cy="202.0" r="3.2" fill="#8a5dff"/><circle cx="344.0" cy="206.8" r="3.2" fill="#e9d9ff"/><circle cx="351.9" cy="208.1" r="3.2" fill="#ff9273"/><circle cx="358.0" cy="208.1" r="3.2" fill="#a074ff"/><circle cx="363.3" cy="208.1" r="3.2" fill="#a074ff"/><circle cx="367.7" cy="207.3" r="3.2" fill="#a074ff"/><circle cx="340.5" cy="211.6" r="3.2" fill="#ff9e81"/><circle cx="343.2" cy="213.8" r="3.2" fill="#e9d9ff"/><circle cx="348.0" cy="216.9" r="3.2" fill="#7145ff"/><circle cx="351.9" cy="214.3" r="3.2" fill="#a074ff"/><circle cx="356.7" cy="217.8" r="3.2" fill="#ff8969"/><circle cx="357.2" cy="212.5" r="3.2" fill="#8a5dff"/><circle cx="361.6" cy="213.4" r="3.2" fill="#b38bff"/><circle cx="365.9" cy="213.4" r="3.2" fill="#b38bff"/><circle cx="339.7" cy="217.8" r="3.2" fill="#a074ff"/><circle cx="344.9" cy="219.5" r="3.2" fill="#a074ff"/><circle cx="350.2" cy="220.4" r="3.2" fill="#b38bff"/><circle cx="361.6" cy="218.6" r="3.2" fill="#b38bff"/><circle cx="366.8" cy="217.8" r="3.2" fill="#a074ff"/><circle cx="342.3" cy="224.3" r="3.2" fill="#7145ff"/><circle cx="337.9" cy="223.9" r="3.2" fill="#8a5dff"/><circle cx="347.5" cy="225.7" r="3.2" fill="#ff8969"/><circle cx="354.1" cy="225.2" r="3.2" fill="#ffc6b2"/><circle cx="358.9" cy="224.8" r="3.2" fill="#ffece5"/><circle cx="363.3" cy="224.8" r="3.2" fill="#f2e7ff"/><circle cx="367.7" cy="223.9" r="3.2" fill="#e3d0ff"/><circle cx="327.8" cy="225.7" r="3.2" fill="#a074ff"/><circle cx="325.6" cy="228.7" r="3.2" fill="#a074ff"/><circle cx="332.2" cy="228.3" r="3.2" fill="#502bff"/><circle cx="330.0" cy="231.8" r="3.2" fill="#a074ff"/><circle cx="336.2" cy="234.4" r="3.2" fill="#8a5dff"/><circle cx="335.3" cy="231.8" r="3.2" fill="#e3d0ff"/><circle cx="344.9" cy="229.2" r="3.2" fill="#ffb299"/><circle cx="349.3" cy="231.8" r="3.2" fill="#c4a2ff"/><circle cx="348.4" cy="235.3" r="3.2" fill="#c4a2ff"/><circle cx="352.8" cy="234.9" r="3.2" fill="#ff2913"/><circle cx="356.3" cy="231.8" r="3.2" fill="#ffffff"/><circle cx="360.7" cy="230.0" r="3.2" fill="#ff7352"/><circle cx="364.2" cy="230.9" r="3.2" fill="#ff7352"/><circle cx="367.7" cy="229.6" r="3.2" fill="#ff2913"/><circle cx="314.3" cy="245.4" r="3.2" fill="#ff4a2c"/><circle cx="371.6" cy="200.3" r="3.2" fill="#8a5dff"/><circle cx="376.0" cy="203.8" r="3.2" fill="#8a5dff"/><circle cx="377.8" cy="209.9" r="3.2" fill="#a074ff"/><circle cx="371.6" cy="208.1" r="3.2" fill="#8a5dff"/><circle cx="374.3" cy="212.5" r="3.2" fill="#8a5dff"/><circle cx="370.8" cy="216.9" r="3.2" fill="#a074ff"/><circle cx="374.3" cy="220.4" r="3.2" fill="#a074ff"/><circle cx="370.8" cy="223.0" r="3.2" fill="#d4b9ff"/><circle cx="375.1" cy="225.7" r="3.2" fill="#f2e7ff"/><circle cx="369.9" cy="230.0" r="3.2" fill="#ff3e22"/><circle cx="379.1" cy="223.0" r="3.2" fill="#ff3e22"/><circle cx="384.8" cy="231.3" r="3.2" fill="#7145ff"/><circle cx="380.4" cy="196.8" r="3.2" fill="#ff2913"/><circle cx="386.5" cy="201.1" r="3.2" fill="#ff2913"/><circle cx="383.0" cy="206.4" r="3.2" fill="#ff4a2c"/><circle cx="393.5" cy="204.6" r="3.2" fill="#ff3e22"/><circle cx="390.9" cy="197.6" r="3.2" fill="#ff2913"/><circle cx="395.3" cy="197.6" r="3.2" fill="#ff2913"/><circle cx="399.7" cy="199.4" r="3.2" fill="#ff2913"/><circle cx="404.0" cy="197.6" r="3.2" fill="#ff2913"/><circle cx="408.4" cy="196.8" r="3.2" fill="#ff2913"/><circle cx="412.8" cy="200.3" r="3.2" fill="#ff2913"/><circle cx="417.2" cy="196.8" r="3.2" fill="#ff3e22"/><circle cx="418.9" cy="202.9" r="3.2" fill="#ff2913"/><circle cx="404.0" cy="204.6" r="3.2" fill="#ff2913"/><circle cx="409.3" cy="204.6" r="3.2" fill="#ff2913"/><circle cx="406.7" cy="209.9" r="3.2" fill="#ff2913"/><circle cx="387.8" cy="208.1" r="3.2" fill="#0000ff"/><circle cx="392.6" cy="211.6" r="3.2" fill="#502bff"/><circle cx="398.8" cy="209.0" r="3.2" fill="#7c4fff"/><circle cx="402.3" cy="212.5" r="3.2" fill="#ddc7ff"/><circle cx="383.0" cy="215.1" r="3.2" fill="#0000ff"/><circle cx="388.7" cy="215.6" r="3.2" fill="#0000ff"/><circle cx="393.5" cy="216.0" r="3.2" fill="#502bff"/><circle cx="390.0" cy="221.3" r="3.2" fill="#0000ff"/><circle cx="394.4" cy="220.4" r="3.2" fill="#0000ff"/><circle cx="384.8" cy="221.3" r="3.2" fill="#502bff"/><circle cx="398.3" cy="219.5" r="3.2" fill="#ffece5"/><circle cx="399.7" cy="226.1" r="3.2" fill="#ff8969"/><circle cx="397.0" cy="225.2" r="3.2" fill="#8a5dff"/><circle cx="407.5" cy="216.0" r="3.2" fill="#ff2913"/><circle cx="411.0" cy="217.8" r="3.2" fill="#ff2913"/><circle cx="405.8" cy="221.3" r="3.2" fill="#ff2913"/><circle cx="410.2" cy="223.0" r="3.2" fill="#ff2913"/><circle cx="407.5" cy="226.5" r="3.2" fill="#ff2913"/><circle cx="411.0" cy="233.5" r="3.2" fill="#ff4a2c"/><circle cx="408.4" cy="238.8" r="3.2" fill="#ff2913"/><polyline points="374.5,191.4 365.5,196.2 374.3,201.2" fill="none" stroke="#fff" stroke-width="2.1" stroke-linecap="round" stroke-linejoin="miter"/></g><rect x="309" y="37.6" width="118" height="217.0" fill="none" stroke="#333" stroke-width="1.5"/><rect x="309" y="11.9" width="118" height="25.700000000000003" fill="#d9d9d9" stroke="#333" stroke-width="1.5"/><line x1="309" y1="37.6" x2="427" y2="37.6" stroke="#333" stroke-width="2.0"/><text x="368.00" y="29.60" font-size="14.2" fill="#1a1a1a" text-anchor="middle" textLength="67.95" lengthAdjust="spacingAndGlyphs">1780−1830</text><line x1="329.24" y1="254.6" x2="329.24" y2="259.6" stroke="#333" stroke-width="1.5"/><text x="329.24" y="272.60" font-size="14.2" fill="#4d4d4d" text-anchor="middle" textLength="15.02" lengthAdjust="spacingAndGlyphs">20</text><line x1="360.78" y1="254.6" x2="360.78" y2="259.6" stroke="#333" stroke-width="1.5"/><text x="360.78" y="272.60" font-size="14.2" fill="#4d4d4d" text-anchor="middle" textLength="15.02" lengthAdjust="spacingAndGlyphs">24</text><line x1="392.32" y1="254.6" x2="392.32" y2="259.6" stroke="#333" stroke-width="1.5"/><text x="392.32" y="272.60" font-size="14.2" fill="#4d4d4d" text-anchor="middle" textLength="15.02" lengthAdjust="spacingAndGlyphs">28</text><line x1="423.86" y1="254.6" x2="423.86" y2="259.6" stroke="#333" stroke-width="1.5"/><text x="423.86" y="272.60" font-size="14.2" fill="#4d4d4d" text-anchor="middle" textLength="15.02" lengthAdjust="spacingAndGlyphs">32</text><defs><clipPath id="ca3"><rect x="436" y="37.6" width="118" height="217.0"/></clipPath></defs><g clip-path="url(#ca3)"><line x1="440.47" y1="37.6" x2="440.47" y2="254.6" stroke="#ebebeb" stroke-width="0.8"/><line x1="472.01" y1="37.6" x2="472.01" y2="254.6" stroke="#ebebeb" stroke-width="0.8"/><line x1="503.55" y1="37.6" x2="503.55" y2="254.6" stroke="#ebebeb" stroke-width="0.8"/><line x1="535.09" y1="37.6" x2="535.09" y2="254.6" stroke="#ebebeb" stroke-width="0.8"/><line x1="436" y1="209.93" x2="554" y2="209.93" stroke="#ebebeb" stroke-width="0.8"/><line x1="436" y1="163.90" x2="554" y2="163.90" stroke="#ebebeb" stroke-width="0.8"/><line x1="436" y1="117.88" x2="554" y2="117.88" stroke="#ebebeb" stroke-width="0.8"/><line x1="436" y1="71.85" x2="554" y2="71.85" stroke="#ebebeb" stroke-width="0.8"/><line x1="456.24" y1="37.6" x2="456.24" y2="254.6" stroke="#ebebeb" stroke-width="1.6"/><line x1="487.78" y1="37.6" x2="487.78" y2="254.6" stroke="#ebebeb" stroke-width="1.6"/><line x1="519.32" y1="37.6" x2="519.32" y2="254.6" stroke="#ebebeb" stroke-width="1.6"/><line x1="550.86" y1="37.6" x2="550.86" y2="254.6" stroke="#ebebeb" stroke-width="1.6"/><line x1="436" y1="232.94" x2="554" y2="232.94" stroke="#ebebeb" stroke-width="1.6"/><line x1="436" y1="186.91" x2="554" y2="186.91" stroke="#ebebeb" stroke-width="1.6"/><line x1="436" y1="140.89" x2="554" y2="140.89" stroke="#ebebeb" stroke-width="1.6"/><line x1="436" y1="94.87" x2="554" y2="94.87" stroke="#ebebeb" stroke-width="1.6"/><line x1="436" y1="48.84" x2="554" y2="48.84" stroke="#ebebeb" stroke-width="1.6"/><polygon points="460.89,66.15 462.15,65.41 463.42,65.59 464.12,63.57 465.23,62.10 466.88,61.54 469.57,61.91 471.22,64.12 473.82,67.62 476.43,71.48 479.89,72.40 482.50,73.14 486.36,70.93 490.22,71.85 494.56,74.06 497.16,70.20 500.63,68.35 501.89,60.62 503.16,55.47 505.99,51.42 509.46,49.76 513.01,49.76 515.30,47.55 518.22,47.18 521.21,49.76 524.76,52.71 528.23,53.81 529.96,57.31 528.86,60.81 527.05,63.75 525.31,65.41 527.60,67.25 525.86,68.35 524.13,71.85 523.50,75.35 524.13,78.85 525.86,81.79 529.33,83.08 531.78,85.29 534.06,88.79 535.88,91.74 534.06,96.52 531.15,101.12 529.33,104.62 527.99,105.91 531.54,112.91 535.09,122.30 536.75,127.45 533.83,132.79 534.46,137.39 533.28,141.99 536.75,146.78 536.27,151.38 539.74,155.99 539.19,157.46 536.98,163.17 541.40,169.06 545.73,174.95 547.47,179.37 545.73,185.07 541.40,190.97 536.67,198.88 531.94,205.33 528.78,210.85 524.84,215.45 520.90,221.89 517.74,223.74 513.01,224.10 508.28,225.94 503.55,227.42 499.61,228.34 495.66,229.26 491.72,232.02 487.78,232.94 483.84,233.86 479.50,236.25 476.74,233.86 474.38,231.10 472.01,229.26 468.86,226.50 466.88,221.89 467.28,216.37 468.07,210.85 468.07,203.48 466.49,197.96 466.10,194.28 464.12,186.91 464.91,181.39 464.60,172.74 468.70,172.19 473.59,170.35 473.98,167.58 475.16,163.90 479.11,161.51 483.05,157.46 486.99,151.38 489.12,150.09 490.93,146.04 492.59,143.47 496.14,141.63 497.01,140.89 497.48,137.02 497.48,133.71 497.48,132.42 496.14,130.76 493.06,129.48 492.20,127.63 488.73,126.35 487.78,125.06 486.44,121.01 484.78,115.30 485.89,105.91 484.78,100.02 484.39,98.73 483.13,95.23 483.76,90.63 483.76,86.58 481.55,83.08 479.89,79.58 476.43,77.93 471.22,76.09 465.23,70.56" fill="#7f7f7f"/><polygon points="491.33,140.34 492.35,138.86 494.48,138.68 495.82,139.79 495.03,141.63 492.67,141.63" fill="#7f7f7f"/><circle cx="492.3" cy="195.5" r="3.2" fill="#d3b7ff"/><circle cx="506.3" cy="201.5" r="3.2" fill="#ffbea9"/><circle cx="512.3" cy="223.5" r="3.2" fill="#b892ff"/><circle cx="506.3" cy="179.5" r="3.2" fill="#ffa589"/><circle cx="510.3" cy="211.5" r="3.2" fill="#c5a2ff"/><circle cx="492.3" cy="169.5" r="3.2" fill="#ff9a7c"/><circle cx="472.3" cy="179.5" r="3.2" fill="#ffab91"/><circle cx="476.3" cy="171.5" r="3.2" fill="#ffd7c9"/><circle cx="502.3" cy="191.5" r="3.2" fill="#dec8ff"/><circle cx="478.3" cy="181.5" r="3.2" fill="#e3d0ff"/><circle cx="480.3" cy="215.5" r="3.2" fill="#eee1ff"/><circle cx="490.3" cy="183.5" r="3.2" fill="#cdaeff"/><circle cx="490.3" cy="199.5" r="3.2" fill="#cbabff"/><circle cx="508.3" cy="183.5" r="3.2" fill="#ffa387"/><circle cx="466.3" cy="193.5" r="3.2" fill="#ffdccf"/><circle cx="504.3" cy="217.5" r="3.2" fill="#be9aff"/><circle cx="482.3" cy="169.5" r="3.2" fill="#ffc8b5"/><circle cx="518.3" cy="217.5" r="3.2" fill="#e7d6ff"/><circle cx="482.3" cy="163.5" r="3.2" fill="#ffcfbf"/><circle cx="474.3" cy="209.5" r="3.2" fill="#ffe3d8"/><circle cx="488.3" cy="159.5" r="3.2" fill="#ffc2ae"/><circle cx="511.7" cy="50.5" r="3.2" fill="#ff7c5b"/><circle cx="511.7" cy="68.8" r="3.2" fill="#ff3e22"/><circle cx="484.7" cy="78.3" r="3.2" fill="#ff3e22"/><circle cx="484.9" cy="86.6" r="3.2" fill="#ff3e22"/><circle cx="494.9" cy="91.7" r="3.2" fill="#ff3e22"/><circle cx="487.6" cy="108.1" r="3.2" fill="#ff5031"/><circle cx="515.0" cy="108.9" r="3.2" fill="#ff4a2c"/><circle cx="501.0" cy="113.0" r="3.2" fill="#ff7352"/><circle cx="484.7" cy="116.5" r="3.2" fill="#ff6544"/><circle cx="487.9" cy="120.9" r="3.2" fill="#ff7352"/><circle cx="494.1" cy="120.6" r="3.2" fill="#ff6544"/><circle cx="489.0" cy="125.3" r="3.2" fill="#ff8969"/><circle cx="496.3" cy="128.5" r="3.2" fill="#ff5031"/><circle cx="500.7" cy="129.7" r="3.2" fill="#ff6544"/><circle cx="510.9" cy="133.3" r="3.2" fill="#ff3e22"/><circle cx="528.5" cy="123.1" r="3.2" fill="#ff3e22"/><circle cx="497.8" cy="134.1" r="3.2" fill="#ff6544"/><circle cx="493.4" cy="139.9" r="3.2" fill="#ff5031"/><circle cx="499.3" cy="138.4" r="3.2" fill="#ff6544"/><circle cx="504.4" cy="140.2" r="3.2" fill="#ff5b3a"/><circle cx="516.8" cy="142.5" r="3.2" fill="#ff4a2c"/><circle cx="526.3" cy="142.5" r="3.2" fill="#ff0000"/><circle cx="496.3" cy="143.5" r="3.2" fill="#ff7352"/><circle cx="506.6" cy="144.3" r="3.2" fill="#ff6544"/><circle cx="492.9" cy="141.2" r="3.2" fill="#ff5b3a"/><circle cx="499.4" cy="141.2" r="3.2" fill="#ff5031"/><circle cx="505.2" cy="141.8" r="3.2" fill="#ff5031"/><circle cx="491.2" cy="146.4" r="3.2" fill="#ff5b3a"/><circle cx="495.9" cy="145.3" r="3.2" fill="#ff7352"/><circle cx="501.1" cy="145.3" r="3.2" fill="#ff6544"/><circle cx="506.9" cy="145.3" r="3.2" fill="#ff6544"/><circle cx="488.8" cy="151.1" r="3.2" fill="#ff4a2c"/><circle cx="496.4" cy="151.7" r="3.2" fill="#ff5031"/><circle cx="502.3" cy="153.4" r="3.2" fill="#ff5b3a"/><circle cx="485.3" cy="155.2" r="3.2" fill="#ff3e22"/><circle cx="492.9" cy="155.2" r="3.2" fill="#a074ff"/><circle cx="492.4" cy="158.1" r="3.2" fill="#ff2e16"/><circle cx="498.2" cy="156.4" r="3.2" fill="#ff3e22"/><circle cx="483.0" cy="158.7" r="3.2" fill="#ff3e22"/><circle cx="502.3" cy="159.9" r="3.2" fill="#ff4a2c"/><circle cx="495.3" cy="166.3" r="3.2" fill="#ff2e16"/><circle cx="499.9" cy="170.4" r="3.2" fill="#ff5031"/><circle cx="502.9" cy="176.2" r="3.2" fill="#ff5031"/><circle cx="497.0" cy="175.0" r="3.2" fill="#ff4a2c"/><circle cx="478.3" cy="162.2" r="3.2" fill="#502bff"/><circle cx="487.7" cy="163.4" r="3.2" fill="#8a5dff"/><circle cx="479.5" cy="166.3" r="3.2" fill="#ff5b3a"/><circle cx="485.9" cy="168.0" r="3.2" fill="#b38bff"/><circle cx="485.3" cy="174.5" r="3.2" fill="#0000ff"/><circle cx="491.2" cy="173.9" r="3.2" fill="#ff5031"/><circle cx="477.8" cy="177.4" r="3.2" fill="#d4b9ff"/><circle cx="480.7" cy="175.0" r="3.2" fill="#ff7352"/><circle cx="483.0" cy="179.7" r="3.2" fill="#ffece5"/><circle cx="479.5" cy="185.5" r="3.2" fill="#f2e7ff"/><circle cx="487.7" cy="178.5" r="3.2" fill="#a074ff"/><circle cx="491.8" cy="179.7" r="3.2" fill="#a074ff"/><circle cx="497.0" cy="181.5" r="3.2" fill="#a074ff"/><circle cx="504.0" cy="183.8" r="3.2" fill="#ddc7ff"/><circle cx="486.5" cy="185.5" r="3.2" fill="#8a5dff"/><circle cx="493.5" cy="186.7" r="3.2" fill="#ffc6b2"/><circle cx="499.4" cy="186.1" r="3.2" fill="#8a5dff"/><circle cx="490.6" cy="190.2" r="3.2" fill="#ff7352"/><circle cx="485.3" cy="191.4" r="3.2" fill="#7c4fff"/><circle cx="496.4" cy="191.4" r="3.2" fill="#502bff"/><circle cx="479.5" cy="194.9" r="3.2" fill="#ff7352"/><circle cx="486.5" cy="196.1" r="3.2" fill="#7c4fff"/><circle cx="477.8" cy="189.1" r="3.2" fill="#a074ff"/><circle cx="509.9" cy="151.1" r="3.2" fill="#ff5031"/><circle cx="516.3" cy="142.9" r="3.2" fill="#ff3e22"/><circle cx="526.2" cy="142.3" r="3.2" fill="#ff3e22"/><circle cx="522.7" cy="147.0" r="3.2" fill="#ff3e22"/><circle cx="520.4" cy="150.5" r="3.2" fill="#ff3e22"/><circle cx="516.9" cy="155.2" r="3.2" fill="#ff5031"/><circle cx="522.7" cy="156.9" r="3.2" fill="#ff3e22"/><circle cx="531.5" cy="156.9" r="3.2" fill="#ff3e22"/><circle cx="508.7" cy="165.1" r="3.2" fill="#ff5031"/><circle cx="515.7" cy="165.1" r="3.2" fill="#ff3e22"/><circle cx="528.0" cy="167.4" r="3.2" fill="#ff3e22"/><circle cx="529.1" cy="173.3" r="3.2" fill="#ff3e22"/><circle cx="535.0" cy="173.3" r="3.2" fill="#ff5031"/><circle cx="509.9" cy="173.3" r="3.2" fill="#ff5031"/><circle cx="514.5" cy="175.0" r="3.2" fill="#ff6544"/><circle cx="519.8" cy="173.9" r="3.2" fill="#ff6544"/><circle cx="511.0" cy="179.1" r="3.2" fill="#ff5b3a"/><circle cx="516.9" cy="179.7" r="3.2" fill="#ff6544"/><circle cx="523.3" cy="178.0" r="3.2" fill="#ff6544"/><circle cx="523.3" cy="180.9" r="3.2" fill="#ff6544"/><circle cx="534.4" cy="181.5" r="3.2" fill="#ff3e22"/><circle cx="542.6" cy="183.2" r="3.2" fill="#ff3e22"/><circle cx="512.2" cy="184.4" r="3.2" fill="#ff3e22"/><circle cx="509.9" cy="189.1" r="3.2" fill="#ff5031"/><circle cx="523.9" cy="187.9" r="3.2" fill="#ff3e22"/><circle cx="532.1" cy="190.2" r="3.2" fill="#ff5031"/><circle cx="536.7" cy="186.7" r="3.2" fill="#ff3e22"/><circle cx="537.9" cy="191.4" r="3.2" fill="#ff3e22"/><circle cx="517.5" cy="186.7" r="3.2" fill="#ff5031"/><circle cx="507.5" cy="196.1" r="3.2" fill="#ff5031"/><circle cx="513.4" cy="195.5" r="3.2" fill="#ff4a2c"/><circle cx="520.4" cy="194.9" r="3.2" fill="#ff3e22"/><circle cx="525.1" cy="197.2" r="3.2" fill="#ff0000"/><circle cx="530.9" cy="197.2" r="3.2" fill="#ff0000"/><circle cx="536.7" cy="196.1" r="3.2" fill="#ff0000"/><circle cx="542.6" cy="194.9" r="3.2" fill="#ff5031"/><circle cx="506.4" cy="190.2" r="3.2" fill="#ff5b3a"/><circle cx="475.4" cy="167.2" r="3.2" fill="#a074ff"/><circle cx="474.5" cy="163.6" r="3.2" fill="#502bff"/><circle cx="464.9" cy="177.7" r="3.2" fill="#ff4a2c"/><circle cx="468.4" cy="175.9" r="3.2" fill="#ff7352"/><circle cx="472.8" cy="174.2" r="3.2" fill="#ff8969"/><circle cx="476.3" cy="177.7" r="3.2" fill="#e3d0ff"/><circle cx="466.7" cy="181.2" r="3.2" fill="#ff5031"/><circle cx="471.0" cy="183.8" r="3.2" fill="#ff5031"/><circle cx="465.8" cy="189.0" r="3.2" fill="#ff7352"/><circle cx="469.3" cy="187.3" r="3.2" fill="#ff5031"/><circle cx="474.5" cy="184.7" r="3.2" fill="#7145ff"/><circle cx="472.8" cy="192.6" r="3.2" fill="#b38bff"/><circle cx="468.4" cy="196.9" r="3.2" fill="#ff8969"/><circle cx="473.7" cy="197.8" r="3.2" fill="#ffb299"/><circle cx="470.2" cy="192.6" r="3.2" fill="#8a5dff"/><circle cx="468.4" cy="198.5" r="3.2" fill="#ff8160"/><circle cx="471.9" cy="198.5" r="3.2" fill="#ff9e81"/><circle cx="479.8" cy="196.3" r="3.2" fill="#ff7352"/><circle cx="485.0" cy="196.8" r="3.2" fill="#7c4fff"/><circle cx="475.4" cy="198.5" r="3.2" fill="#f2e7ff"/><circle cx="481.5" cy="201.1" r="3.2" fill="#e3d0ff"/><circle cx="468.4" cy="202.0" r="3.2" fill="#ff8969"/><circle cx="471.9" cy="202.0" r="3.2" fill="#ffb299"/><circle cx="477.2" cy="203.8" r="3.2" fill="#ffd1c1"/><circle cx="485.0" cy="203.8" r="3.2" fill="#ff9e81"/><circle cx="486.8" cy="206.4" r="3.2" fill="#ffaa90"/><circle cx="491.2" cy="204.6" r="3.2" fill="#c4a2ff"/><circle cx="493.5" cy="202.0" r="3.2" fill="#ffffff"/><circle cx="471.0" cy="206.4" r="3.2" fill="#ffb299"/><circle cx="478.9" cy="208.1" r="3.2" fill="#d4b9ff"/><circle cx="485.0" cy="208.1" r="3.2" fill="#c4a2ff"/><circle cx="490.3" cy="208.1" r="3.2" fill="#c4a2ff"/><circle cx="494.7" cy="207.3" r="3.2" fill="#a074ff"/><circle cx="467.5" cy="211.6" r="3.2" fill="#ff8969"/><circle cx="474.5" cy="213.4" r="3.2" fill="#ffc6b2"/><circle cx="484.2" cy="212.5" r="3.2" fill="#7145ff"/><circle cx="488.6" cy="213.4" r="3.2" fill="#c4a2ff"/><circle cx="492.9" cy="213.8" r="3.2" fill="#ffece5"/><circle cx="468.4" cy="217.8" r="3.2" fill="#8a5dff"/><circle cx="472.8" cy="218.6" r="3.2" fill="#e3d0ff"/><circle cx="477.2" cy="219.5" r="3.2" fill="#d4b9ff"/><circle cx="483.7" cy="217.8" r="3.2" fill="#ff8969"/><circle cx="489.4" cy="219.5" r="3.2" fill="#e3d0ff"/><circle cx="493.8" cy="217.8" r="3.2" fill="#a074ff"/><circle cx="464.9" cy="223.0" r="3.2" fill="#c4a2ff"/><circle cx="469.3" cy="223.9" r="3.2" fill="#d4b9ff"/><circle cx="473.7" cy="222.2" r="3.2" fill="#e3d0ff"/><circle cx="481.5" cy="223.0" r="3.2" fill="#ffb299"/><circle cx="486.8" cy="223.9" r="3.2" fill="#ff9e81"/><circle cx="491.2" cy="223.9" r="3.2" fill="#ff9e81"/><circle cx="452.6" cy="228.7" r="3.2" fill="#c4a2ff"/><circle cx="459.2" cy="228.3" r="3.2" fill="#8a5dff"/><circle cx="462.3" cy="230.0" r="3.2" fill="#c4a2ff"/><circle cx="455.3" cy="231.8" r="3.2" fill="#ff8969"/><circle cx="463.2" cy="234.4" r="3.2" fill="#f2e7ff"/><circle cx="468.4" cy="230.0" r="3.2" fill="#d4b9ff"/><circle cx="473.7" cy="228.3" r="3.2" fill="#ff9273"/><circle cx="479.8" cy="227.4" r="3.2" fill="#ff6544"/><circle cx="484.2" cy="230.0" r="3.2" fill="#ff3e22"/><circle cx="488.6" cy="230.9" r="3.2" fill="#ff4a2c"/><circle cx="491.2" cy="231.8" r="3.2" fill="#ff4a2c"/><circle cx="494.7" cy="230.0" r="3.2" fill="#ff6544"/><circle cx="476.3" cy="231.8" r="3.2" fill="#ffb299"/><circle cx="481.5" cy="233.5" r="3.2" fill="#ff3e22"/><circle cx="485.0" cy="234.4" r="3.2" fill="#ff3e22"/><circle cx="475.4" cy="235.3" r="3.2" fill="#c4a2ff"/><circle cx="441.3" cy="245.4" r="3.2" fill="#ff0000"/><circle cx="499.5" cy="196.8" r="3.2" fill="#502bff"/><circle cx="498.6" cy="200.3" r="3.2" fill="#b38bff"/><circle cx="502.1" cy="204.6" r="3.2" fill="#a074ff"/><circle cx="497.8" cy="209.0" r="3.2" fill="#c4a2ff"/><circle cx="504.8" cy="209.9" r="3.2" fill="#e3d0ff"/><circle cx="501.3" cy="214.3" r="3.2" fill="#a074ff"/><circle cx="497.8" cy="216.9" r="3.2" fill="#c4a2ff"/><circle cx="500.4" cy="220.4" r="3.2" fill="#d4b9ff"/><circle cx="505.6" cy="221.3" r="3.2" fill="#c4a2ff"/><circle cx="497.8" cy="224.8" r="3.2" fill="#ff8969"/><circle cx="497.8" cy="229.2" r="3.2" fill="#ff8160"/><circle cx="503.0" cy="224.8" r="3.2" fill="#ffd9cb"/><circle cx="506.5" cy="223.0" r="3.2" fill="#ffd1c1"/><circle cx="509.1" cy="216.0" r="3.2" fill="#502bff"/><circle cx="514.4" cy="215.1" r="3.2" fill="#d4b9ff"/><circle cx="517.0" cy="221.3" r="3.2" fill="#0000ff"/><circle cx="513.5" cy="218.6" r="3.2" fill="#a074ff"/><circle cx="511.8" cy="231.8" r="3.2" fill="#ffb299"/><circle cx="508.3" cy="196.8" r="3.2" fill="#ff5b3a"/><circle cx="513.5" cy="200.3" r="3.2" fill="#ff5b3a"/><circle cx="510.0" cy="205.5" r="3.2" fill="#ff5031"/><circle cx="519.6" cy="203.8" r="3.2" fill="#ff4a2c"/><circle cx="517.9" cy="197.6" r="3.2" fill="#ff5031"/><circle cx="522.3" cy="196.8" r="3.2" fill="#ff3e22"/><circle cx="526.7" cy="199.4" r="3.2" fill="#ff3e22"/><circle cx="531.0" cy="197.6" r="3.2" fill="#ff3e22"/><circle cx="535.4" cy="196.8" r="3.2" fill="#ff3e22"/><circle cx="539.8" cy="200.3" r="3.2" fill="#ff3e22"/><circle cx="544.2" cy="196.8" r="3.2" fill="#ff5031"/><circle cx="545.9" cy="202.0" r="3.2" fill="#ff5031"/><circle cx="549.4" cy="206.8" r="3.2" fill="#ff6544"/><circle cx="531.0" cy="205.5" r="3.2" fill="#ff0000"/><circle cx="536.3" cy="205.5" r="3.2" fill="#ff3e22"/><circle cx="514.8" cy="208.1" r="3.2" fill="#ffece5"/><circle cx="519.6" cy="211.6" r="3.2" fill="#ff9273"/><circle cx="525.8" cy="209.0" r="3.2" fill="#ff3e22"/><circle cx="522.3" cy="215.1" r="3.2" fill="#ff3e22"/><circle cx="533.7" cy="209.9" r="3.2" fill="#ff3e22"/><circle cx="534.5" cy="216.0" r="3.2" fill="#ff2e16"/><circle cx="538.0" cy="217.8" r="3.2" fill="#ff2e16"/><circle cx="525.8" cy="219.5" r="3.2" fill="#ff6544"/><circle cx="532.8" cy="221.3" r="3.2" fill="#ff2e16"/><circle cx="537.2" cy="223.0" r="3.2" fill="#ff2e16"/><circle cx="534.5" cy="226.5" r="3.2" fill="#ff3e22"/><circle cx="526.7" cy="226.1" r="3.2" fill="#ff0000"/><circle cx="538.0" cy="233.5" r="3.2" fill="#ff4a2c"/><circle cx="534.5" cy="238.4" r="3.2" fill="#ff0000"/><polyline points="502.5,191.1 493.5,196.4 502.5,201.2" fill="none" stroke="#fff" stroke-width="2.1" stroke-linecap="round" stroke-linejoin="miter"/></g><rect x="436" y="37.6" width="118" height="217.0" fill="none" stroke="#333" stroke-width="1.5"/><rect x="436" y="11.9" width="118" height="25.700000000000003" fill="#d9d9d9" stroke="#333" stroke-width="1.5"/><line x1="436" y1="37.6" x2="554" y2="37.6" stroke="#333" stroke-width="2.0"/><text x="495.00" y="29.60" font-size="14.2" fill="#1a1a1a" text-anchor="middle" textLength="67.95" lengthAdjust="spacingAndGlyphs">1830−1880</text><line x1="456.24" y1="254.6" x2="456.24" y2="259.6" stroke="#333" stroke-width="1.5"/><text x="456.24" y="272.60" font-size="14.2" fill="#4d4d4d" text-anchor="middle" textLength="15.02" lengthAdjust="spacingAndGlyphs">20</text><line x1="487.78" y1="254.6" x2="487.78" y2="259.6" stroke="#333" stroke-width="1.5"/><text x="487.78" y="272.60" font-size="14.2" fill="#4d4d4d" text-anchor="middle" textLength="15.02" lengthAdjust="spacingAndGlyphs">24</text><line x1="519.32" y1="254.6" x2="519.32" y2="259.6" stroke="#333" stroke-width="1.5"/><text x="519.32" y="272.60" font-size="14.2" fill="#4d4d4d" text-anchor="middle" textLength="15.02" lengthAdjust="spacingAndGlyphs">28</text><line x1="550.86" y1="254.6" x2="550.86" y2="259.6" stroke="#333" stroke-width="1.5"/><text x="550.86" y="272.60" font-size="14.2" fill="#4d4d4d" text-anchor="middle" textLength="15.02" lengthAdjust="spacingAndGlyphs">32</text><defs><clipPath id="ca4"><rect x="563" y="37.6" width="118" height="217.0"/></clipPath></defs><g clip-path="url(#ca4)"><line x1="567.47" y1="37.6" x2="567.47" y2="254.6" stroke="#ebebeb" stroke-width="0.8"/><line x1="599.01" y1="37.6" x2="599.01" y2="254.6" stroke="#ebebeb" stroke-width="0.8"/><line x1="630.55" y1="37.6" x2="630.55" y2="254.6" stroke="#ebebeb" stroke-width="0.8"/><line x1="662.09" y1="37.6" x2="662.09" y2="254.6" stroke="#ebebeb" stroke-width="0.8"/><line x1="563" y1="209.93" x2="681" y2="209.93" stroke="#ebebeb" stroke-width="0.8"/><line x1="563" y1="163.90" x2="681" y2="163.90" stroke="#ebebeb" stroke-width="0.8"/><line x1="563" y1="117.88" x2="681" y2="117.88" stroke="#ebebeb" stroke-width="0.8"/><line x1="563" y1="71.85" x2="681" y2="71.85" stroke="#ebebeb" stroke-width="0.8"/><line x1="583.24" y1="37.6" x2="583.24" y2="254.6" stroke="#ebebeb" stroke-width="1.6"/><line x1="614.78" y1="37.6" x2="614.78" y2="254.6" stroke="#ebebeb" stroke-width="1.6"/><line x1="646.32" y1="37.6" x2="646.32" y2="254.6" stroke="#ebebeb" stroke-width="1.6"/><line x1="677.86" y1="37.6" x2="677.86" y2="254.6" stroke="#ebebeb" stroke-width="1.6"/><line x1="563" y1="232.94" x2="681" y2="232.94" stroke="#ebebeb" stroke-width="1.6"/><line x1="563" y1="186.91" x2="681" y2="186.91" stroke="#ebebeb" stroke-width="1.6"/><line x1="563" y1="140.89" x2="681" y2="140.89" stroke="#ebebeb" stroke-width="1.6"/><line x1="563" y1="94.87" x2="681" y2="94.87" stroke="#ebebeb" stroke-width="1.6"/><line x1="563" y1="48.84" x2="681" y2="48.84" stroke="#ebebeb" stroke-width="1.6"/><polygon points="587.89,66.15 589.15,65.41 590.42,65.59 591.12,63.57 592.23,62.10 593.88,61.54 596.57,61.91 598.22,64.12 600.82,67.62 603.43,71.48 606.89,72.40 609.50,73.14 613.36,70.93 617.22,71.85 621.56,74.06 624.16,70.20 627.63,68.35 628.89,60.62 630.16,55.47 632.99,51.42 636.46,49.76 640.01,49.76 642.30,47.55 645.22,47.18 648.21,49.76 651.76,52.71 655.23,53.81 656.96,57.31 655.86,60.81 654.05,63.75 652.31,65.41 654.60,67.25 652.86,68.35 651.13,71.85 650.50,75.35 651.13,78.85 652.86,81.79 656.33,83.08 658.78,85.29 661.06,88.79 662.88,91.74 661.06,96.52 658.15,101.12 656.33,104.62 654.99,105.91 658.54,112.91 662.09,122.30 663.75,127.45 660.83,132.79 661.46,137.39 660.28,141.99 663.75,146.78 663.27,151.38 666.74,155.99 666.19,157.46 663.98,163.17 668.40,169.06 672.73,174.95 674.47,179.37 672.73,185.07 668.40,190.97 663.67,198.88 658.94,205.33 655.78,210.85 651.84,215.45 647.90,221.89 644.74,223.74 640.01,224.10 635.28,225.94 630.55,227.42 626.61,228.34 622.66,229.26 618.72,232.02 614.78,232.94 610.84,233.86 606.50,236.25 603.74,233.86 601.38,231.10 599.01,229.26 595.86,226.50 593.88,221.89 594.28,216.37 595.07,210.85 595.07,203.48 593.49,197.96 593.10,194.28 591.12,186.91 591.91,181.39 591.60,172.74 595.70,172.19 600.59,170.35 600.98,167.58 602.16,163.90 606.11,161.51 610.05,157.46 613.99,151.38 616.12,150.09 617.93,146.04 619.59,143.47 623.14,141.63 624.01,140.89 624.48,137.02 624.48,133.71 624.48,132.42 623.14,130.76 620.06,129.48 619.20,127.63 615.73,126.35 614.78,125.06 613.44,121.01 611.78,115.30 612.89,105.91 611.78,100.02 611.39,98.73 610.13,95.23 610.76,90.63 610.76,86.58 608.55,83.08 606.89,79.58 603.43,77.93 598.22,76.09 592.23,70.56" fill="#7f7f7f"/><polygon points="618.33,140.34 619.35,138.86 621.48,138.68 622.82,139.79 622.03,141.63 619.67,141.63" fill="#7f7f7f"/><circle cx="651.3" cy="202.0" r="3.2" fill="#ff391e"/><circle cx="605.3" cy="206.0" r="3.2" fill="#ff7352"/><circle cx="611.3" cy="174.0" r="3.2" fill="#ff5333"/><circle cx="639.3" cy="216.0" r="3.2" fill="#ff7250"/><circle cx="661.3" cy="200.0" r="3.2" fill="#ff391e"/><circle cx="661.3" cy="196.0" r="3.2" fill="#ff391e"/><circle cx="621.3" cy="224.0" r="3.2" fill="#ff6f4e"/><circle cx="655.3" cy="204.0" r="3.2" fill="#ff3e22"/><circle cx="601.3" cy="202.0" r="3.2" fill="#ff6342"/><circle cx="647.3" cy="212.0" r="3.2" fill="#ff3e22"/><circle cx="629.3" cy="220.0" r="3.2" fill="#ffa185"/><circle cx="605.3" cy="216.0" r="3.2" fill="#ff8c6c"/><circle cx="629.3" cy="212.0" r="3.2" fill="#ffb7a0"/><circle cx="613.3" cy="164.0" r="3.2" fill="#ffb8a1"/><circle cx="643.3" cy="212.0" r="3.2" fill="#ff3e22"/><circle cx="609.3" cy="220.0" r="3.2" fill="#ff8767"/><circle cx="601.3" cy="174.0" r="3.2" fill="#ffa286"/><circle cx="617.3" cy="226.0" r="3.2" fill="#ff5e3d"/><circle cx="597.3" cy="218.0" r="3.2" fill="#ffd1c1"/><circle cx="609.3" cy="216.0" r="3.2" fill="#ff8f70"/><circle cx="609.3" cy="178.0" r="3.2" fill="#ff7554"/><circle cx="609.3" cy="170.0" r="3.2" fill="#ffa387"/><circle cx="628.0" cy="113.0" r="3.2" fill="#ff6544"/><circle cx="625.5" cy="137.4" r="3.2" fill="#ff5031"/><circle cx="623.4" cy="151.7" r="3.2" fill="#ff5b3a"/><circle cx="636.9" cy="151.1" r="3.2" fill="#ff5031"/><circle cx="644.5" cy="151.7" r="3.2" fill="#ff5031"/><circle cx="648.0" cy="149.9" r="3.2" fill="#ff3e22"/><circle cx="658.5" cy="156.9" r="3.2" fill="#ff2e16"/><circle cx="612.3" cy="158.1" r="3.2" fill="#ff3e22"/><circle cx="605.3" cy="162.2" r="3.2" fill="#ff7352"/><circle cx="607.1" cy="166.3" r="3.2" fill="#ff0000"/><circle cx="612.9" cy="168.6" r="3.2" fill="#ff7352"/><circle cx="616.4" cy="168.6" r="3.2" fill="#ff3e22"/><circle cx="618.2" cy="173.9" r="3.2" fill="#ff3e22"/><circle cx="626.9" cy="170.9" r="3.2" fill="#ff6544"/><circle cx="642.7" cy="165.1" r="3.2" fill="#ff5031"/><circle cx="641.0" cy="174.5" r="3.2" fill="#ff5b3a"/><circle cx="646.8" cy="173.9" r="3.2" fill="#ff5b3a"/><circle cx="650.3" cy="178.0" r="3.2" fill="#ff5031"/><circle cx="650.3" cy="181.5" r="3.2" fill="#ff5031"/><circle cx="662.0" cy="173.3" r="3.2" fill="#ff3e22"/><circle cx="663.1" cy="181.5" r="3.2" fill="#ff3e22"/><circle cx="605.3" cy="175.0" r="3.2" fill="#ff3e22"/><circle cx="606.5" cy="180.9" r="3.2" fill="#ff3e22"/><circle cx="613.5" cy="180.3" r="3.2" fill="#ffd1c1"/><circle cx="615.3" cy="185.8" r="3.2" fill="#8a5dff"/><circle cx="620.5" cy="187.9" r="3.2" fill="#ff8160"/><circle cx="620.5" cy="191.4" r="3.2" fill="#ff8969"/><circle cx="628.1" cy="190.2" r="3.2" fill="#ff6544"/><circle cx="633.9" cy="189.1" r="3.2" fill="#ff5031"/><circle cx="664.9" cy="191.4" r="3.2" fill="#ff4a2c"/><circle cx="669.6" cy="194.3" r="3.2" fill="#ff3e22"/><circle cx="645.0" cy="197.2" r="3.2" fill="#ff5031"/><circle cx="656.1" cy="197.2" r="3.2" fill="#ff2e16"/><circle cx="607.7" cy="198.4" r="3.2" fill="#ff8160"/><circle cx="604.2" cy="170.4" r="3.2" fill="#c4a2ff"/><circle cx="608.8" cy="163.4" r="3.2" fill="#c4a2ff"/><circle cx="604.2" cy="164.1" r="3.2" fill="#ff5b3a"/><circle cx="604.2" cy="166.3" r="3.2" fill="#fff7f5"/><circle cx="602.9" cy="169.8" r="3.2" fill="#c4a2ff"/><circle cx="592.8" cy="178.1" r="3.2" fill="#ff4a2c"/><circle cx="595.0" cy="197.8" r="3.2" fill="#ff5b3a"/><circle cx="605.5" cy="175.0" r="3.2" fill="#ff3e22"/><circle cx="595.0" cy="198.5" r="3.2" fill="#ff5b3a"/><circle cx="607.7" cy="200.3" r="3.2" fill="#ff8969"/><circle cx="597.2" cy="204.6" r="3.2" fill="#ff5031"/><circle cx="599.8" cy="208.1" r="3.2" fill="#ff5031"/><circle cx="598.9" cy="211.2" r="3.2" fill="#ff5b3a"/><circle cx="601.5" cy="213.4" r="3.2" fill="#ff6544"/><circle cx="594.1" cy="215.1" r="3.2" fill="#e3d0ff"/><circle cx="613.8" cy="211.2" r="3.2" fill="#ff9e81"/><circle cx="612.9" cy="217.8" r="3.2" fill="#ff8969"/><circle cx="617.7" cy="216.9" r="3.2" fill="#fff7f5"/><circle cx="621.7" cy="212.5" r="3.2" fill="#ffc6b2"/><circle cx="616.4" cy="221.3" r="3.2" fill="#ff6544"/><circle cx="604.2" cy="220.4" r="3.2" fill="#ff8969"/><circle cx="599.8" cy="221.3" r="3.2" fill="#ffc6b2"/><circle cx="601.1" cy="224.8" r="3.2" fill="#0000ff"/><circle cx="605.9" cy="227.4" r="3.2" fill="#ff7352"/><circle cx="611.2" cy="225.7" r="3.2" fill="#ff8160"/><circle cx="610.3" cy="230.0" r="3.2" fill="#ff5031"/><circle cx="615.6" cy="230.0" r="3.2" fill="#ff5b3a"/><circle cx="619.9" cy="229.2" r="3.2" fill="#ff5b3a"/><circle cx="581.4" cy="225.7" r="3.2" fill="#ffd9cb"/><circle cx="580.5" cy="228.3" r="3.2" fill="#e3d0ff"/><circle cx="584.0" cy="228.3" r="3.2" fill="#ddc7ff"/><circle cx="587.5" cy="227.4" r="3.2" fill="#c4a2ff"/><circle cx="589.3" cy="230.0" r="3.2" fill="#c4a2ff"/><circle cx="591.0" cy="225.7" r="3.2" fill="#f2e7ff"/><circle cx="582.3" cy="230.9" r="3.2" fill="#ff8969"/><circle cx="590.2" cy="234.4" r="3.2" fill="#ff9273"/><circle cx="595.4" cy="230.0" r="3.2" fill="#ffe0d6"/><circle cx="568.3" cy="245.4" r="3.2" fill="#ff9e81"/><circle cx="630.9" cy="203.8" r="3.2" fill="#ffb299"/><circle cx="623.9" cy="211.6" r="3.2" fill="#ffd9cb"/><circle cx="625.6" cy="216.0" r="3.2" fill="#ffb299"/><circle cx="633.5" cy="213.4" r="3.2" fill="#ff9e81"/><circle cx="632.6" cy="216.9" r="3.2" fill="#ffaa90"/><circle cx="624.8" cy="220.4" r="3.2" fill="#ff8969"/><circle cx="628.3" cy="225.7" r="3.2" fill="#ffb299"/><circle cx="634.4" cy="223.9" r="3.2" fill="#ff9e81"/><circle cx="638.3" cy="222.2" r="3.2" fill="#ff7352"/><circle cx="623.9" cy="229.2" r="3.2" fill="#ff8160"/><circle cx="644.9" cy="197.6" r="3.2" fill="#ff5031"/><circle cx="656.3" cy="197.6" r="3.2" fill="#ff3e22"/><circle cx="666.8" cy="196.8" r="3.2" fill="#ff3e22"/><circle cx="670.3" cy="198.5" r="3.2" fill="#ff3e22"/><circle cx="644.0" cy="204.2" r="3.2" fill="#ff3e22"/><circle cx="665.0" cy="203.8" r="3.2" fill="#ff3e22"/><circle cx="672.5" cy="202.4" r="3.2" fill="#ff4a2c"/><circle cx="676.0" cy="206.8" r="3.2" fill="#ff5b3a"/><circle cx="652.8" cy="209.0" r="3.2" fill="#ff3e22"/><circle cx="658.0" cy="208.1" r="3.2" fill="#ff3e22"/><circle cx="661.5" cy="206.4" r="3.2" fill="#ff3e22"/><circle cx="652.8" cy="213.4" r="3.2" fill="#ff3e22"/><circle cx="659.8" cy="212.5" r="3.2" fill="#ff3e22"/><circle cx="664.2" cy="216.0" r="3.2" fill="#ff3e22"/><circle cx="644.9" cy="216.0" r="3.2" fill="#ff3e22"/><circle cx="643.6" cy="221.3" r="3.2" fill="#ff3e22"/><circle cx="648.4" cy="219.5" r="3.2" fill="#ff3e22"/><circle cx="651.9" cy="219.5" r="3.2" fill="#ff4a2c"/><circle cx="658.0" cy="218.6" r="3.2" fill="#ff3e22"/><circle cx="662.4" cy="220.4" r="3.2" fill="#ff3e22"/><circle cx="666.8" cy="223.0" r="3.2" fill="#ff3e22"/><circle cx="652.8" cy="225.7" r="3.2" fill="#ff3e22"/><circle cx="661.5" cy="225.7" r="3.2" fill="#ff3e22"/><circle cx="659.8" cy="228.3" r="3.2" fill="#ff3e22"/><circle cx="638.3" cy="230.9" r="3.2" fill="#ff2e16"/><circle cx="639.6" cy="235.7" r="3.2" fill="#ff0000"/><circle cx="664.6" cy="234.0" r="3.2" fill="#ff5b3a"/><polyline points="635.7,200.3 626.9,205.1 636.1,209.9" fill="none" stroke="#fff" stroke-width="2.1" stroke-linecap="round" stroke-linejoin="miter"/></g><rect x="563" y="37.6" width="118" height="217.0" fill="none" stroke="#333" stroke-width="1.5"/><rect x="563" y="11.9" width="118" height="25.700000000000003" fill="#d9d9d9" stroke="#333" stroke-width="1.5"/><line x1="563" y1="37.6" x2="681" y2="37.6" stroke="#333" stroke-width="2.0"/><text x="622.00" y="29.60" font-size="14.2" fill="#1a1a1a" text-anchor="middle" textLength="63.43" lengthAdjust="spacingAndGlyphs">post−1880</text><line x1="583.24" y1="254.6" x2="583.24" y2="259.6" stroke="#333" stroke-width="1.5"/><text x="583.24" y="272.60" font-size="14.2" fill="#4d4d4d" text-anchor="middle" textLength="15.02" lengthAdjust="spacingAndGlyphs">20</text><line x1="614.78" y1="254.6" x2="614.78" y2="259.6" stroke="#333" stroke-width="1.5"/><text x="614.78" y="272.60" font-size="14.2" fill="#4d4d4d" text-anchor="middle" textLength="15.02" lengthAdjust="spacingAndGlyphs">24</text><line x1="646.32" y1="254.6" x2="646.32" y2="259.6" stroke="#333" stroke-width="1.5"/><text x="646.32" y="272.60" font-size="14.2" fill="#4d4d4d" text-anchor="middle" textLength="15.02" lengthAdjust="spacingAndGlyphs">28</text><line x1="677.86" y1="254.6" x2="677.86" y2="259.6" stroke="#333" stroke-width="1.5"/><text x="677.86" y="272.60" font-size="14.2" fill="#4d4d4d" text-anchor="middle" textLength="15.02" lengthAdjust="spacingAndGlyphs">32</text><line x1="50.0" y1="232.94" x2="55" y2="232.94" stroke="#333" stroke-width="1.5"/><text x="47.30" y="237.84" font-size="14.2" fill="#4d4d4d" text-anchor="end" textLength="26.28" lengthAdjust="spacingAndGlyphs">60.0</text><line x1="50.0" y1="186.91" x2="55" y2="186.91" stroke="#333" stroke-width="1.5"/><text x="47.30" y="191.81" font-size="14.2" fill="#4d4d4d" text-anchor="end" textLength="26.28" lengthAdjust="spacingAndGlyphs">62.5</text><line x1="50.0" y1="140.89" x2="55" y2="140.89" stroke="#333" stroke-width="1.5"/><text x="47.30" y="145.79" font-size="14.2" fill="#4d4d4d" text-anchor="end" textLength="26.28" lengthAdjust="spacingAndGlyphs">65.0</text><line x1="50.0" y1="94.87" x2="55" y2="94.87" stroke="#333" stroke-width="1.5"/><text x="47.30" y="99.77" font-size="14.2" fill="#4d4d4d" text-anchor="end" textLength="26.28" lengthAdjust="spacingAndGlyphs">67.5</text><line x1="50.0" y1="48.84" x2="55" y2="48.84" stroke="#333" stroke-width="1.5"/><text x="47.30" y="53.74" font-size="14.2" fill="#4d4d4d" text-anchor="end" textLength="26.28" lengthAdjust="spacingAndGlyphs">70.0</text><defs><clipPath id="cb0"><rect x="49.5" y="436.9" width="120" height="220.39999999999998"/></clipPath></defs><g clip-path="url(#cb0)"><line x1="53.90" y1="436.9" x2="53.90" y2="657.3" stroke="#ebebeb" stroke-width="0.75"/><line x1="85.90" y1="436.9" x2="85.90" y2="657.3" stroke="#ebebeb" stroke-width="0.75"/><line x1="117.90" y1="436.9" x2="117.90" y2="657.3" stroke="#ebebeb" stroke-width="0.75"/><line x1="149.90" y1="436.9" x2="149.90" y2="657.3" stroke="#ebebeb" stroke-width="0.75"/><line x1="49.5" y1="611.88" x2="169.5" y2="611.88" stroke="#ebebeb" stroke-width="0.75"/><line x1="49.5" y1="565.12" x2="169.5" y2="565.12" stroke="#ebebeb" stroke-width="0.75"/><line x1="49.5" y1="518.38" x2="169.5" y2="518.38" stroke="#ebebeb" stroke-width="0.75"/><line x1="49.5" y1="471.62" x2="169.5" y2="471.62" stroke="#ebebeb" stroke-width="0.75"/><line x1="69.90" y1="436.9" x2="69.90" y2="657.3" stroke="#ebebeb" stroke-width="1.45"/><line x1="101.90" y1="436.9" x2="101.90" y2="657.3" stroke="#ebebeb" stroke-width="1.45"/><line x1="133.90" y1="436.9" x2="133.90" y2="657.3" stroke="#ebebeb" stroke-width="1.45"/><line x1="165.90" y1="436.9" x2="165.90" y2="657.3" stroke="#ebebeb" stroke-width="1.45"/><line x1="49.5" y1="635.25" x2="169.5" y2="635.25" stroke="#ebebeb" stroke-width="1.45"/><line x1="49.5" y1="588.50" x2="169.5" y2="588.50" stroke="#ebebeb" stroke-width="1.45"/><line x1="49.5" y1="541.75" x2="169.5" y2="541.75" stroke="#ebebeb" stroke-width="1.45"/><line x1="49.5" y1="495.00" x2="169.5" y2="495.00" stroke="#ebebeb" stroke-width="1.45"/><line x1="49.5" y1="448.25" x2="169.5" y2="448.25" stroke="#ebebeb" stroke-width="1.45"/><polygon points="74.62,465.83 75.90,465.08 77.18,465.27 77.90,463.21 79.02,461.71 80.70,461.15 83.42,461.53 85.10,463.77 87.74,467.32 90.38,471.25 93.90,472.19 96.54,472.93 100.46,470.69 104.38,471.62 108.78,473.87 111.42,469.94 114.94,468.07 116.22,460.22 117.50,454.98 120.38,450.87 123.90,449.18 127.50,449.18 129.82,446.94 132.78,446.57 135.82,449.18 139.42,452.18 142.94,453.30 144.70,456.85 143.58,460.41 141.74,463.40 139.98,465.08 142.30,466.95 140.54,468.07 138.78,471.62 138.14,475.18 138.78,478.73 140.54,481.72 144.06,483.03 146.54,485.28 148.86,488.83 150.70,491.82 148.86,496.68 145.90,501.36 144.06,504.91 142.70,506.22 146.30,513.33 149.90,522.86 151.58,528.10 148.62,533.52 149.26,538.20 148.06,542.87 151.58,547.73 151.10,552.41 154.62,557.08 154.06,558.58 151.82,564.38 156.30,570.36 160.70,576.35 162.46,580.83 160.70,586.63 156.30,592.61 151.50,600.65 146.70,607.20 143.50,612.81 139.50,617.48 135.50,624.03 132.30,625.90 127.50,626.27 122.70,628.14 117.90,629.64 113.90,630.58 109.90,631.51 105.90,634.32 101.90,635.25 97.90,636.18 93.50,638.62 90.70,636.18 88.30,633.38 85.90,631.51 82.70,628.70 80.70,624.03 81.10,618.42 81.90,612.81 81.90,605.33 80.30,599.72 79.90,595.98 77.90,588.50 78.70,582.89 78.38,574.10 82.54,573.54 87.50,571.67 87.90,568.87 89.10,565.12 93.10,562.69 97.10,558.58 101.10,552.41 103.26,551.10 105.10,546.99 106.78,544.37 110.38,542.50 111.26,541.75 111.74,537.82 111.74,534.46 111.74,533.15 110.38,531.47 107.26,530.16 106.38,528.29 102.86,526.98 101.90,525.67 100.54,521.55 98.86,515.76 99.98,506.22 98.86,500.24 98.46,498.93 97.18,495.37 97.82,490.70 97.82,486.58 95.58,483.03 93.90,479.48 90.38,477.80 85.10,475.93 79.02,470.32" fill="#7f7f7f"/><polygon points="105.50,541.19 106.54,539.69 108.70,539.51 110.06,540.63 109.26,542.50 106.86,542.50" fill="#7f7f7f"/><circle cx="145.1" cy="607.3" r="2.75" fill="#fffdfc"/><circle cx="141.1" cy="605.3" r="2.75" fill="#fbf8ff"/><circle cx="98.9" cy="478.3" r="2.75" fill="#ffd9cb"/><circle cx="115.4" cy="513.6" r="2.75" fill="#ffe8e0"/><circle cx="129.6" cy="509.5" r="2.75" fill="#ffffff"/><circle cx="108.4" cy="521.2" r="2.75" fill="#ddc7ff"/><circle cx="103.3" cy="525.3" r="2.75" fill="#d4b9ff"/><circle cx="106.7" cy="526.8" r="2.75" fill="#ffe8e0"/><circle cx="125.2" cy="534.3" r="2.75" fill="#ffd9cb"/><circle cx="112.8" cy="536.2" r="2.75" fill="#f2e7ff"/><circle cx="107.7" cy="541.4" r="2.75" fill="#ffece5"/><circle cx="112.8" cy="542.1" r="2.75" fill="#e9d9ff"/><circle cx="115.0" cy="540.6" r="2.75" fill="#ffc6b2"/><circle cx="118.6" cy="544.3" r="2.75" fill="#ffd1c1"/><circle cx="107.7" cy="541.2" r="2.75" fill="#ffece5"/><circle cx="112.9" cy="542.9" r="2.75" fill="#e3d0ff"/><circle cx="118.2" cy="545.3" r="2.75" fill="#ffd9cb"/><circle cx="105.4" cy="547.6" r="2.75" fill="#c4a2ff"/><circle cx="110.6" cy="548.2" r="2.75" fill="#ffe8e0"/><circle cx="115.3" cy="551.1" r="2.75" fill="#d4b9ff"/><circle cx="104.2" cy="551.7" r="2.75" fill="#fff0ea"/><circle cx="108.3" cy="555.2" r="2.75" fill="#e3d0ff"/><circle cx="116.4" cy="555.2" r="2.75" fill="#ffe0d6"/><circle cx="104.2" cy="556.9" r="2.75" fill="#c4a2ff"/><circle cx="106.5" cy="559.3" r="2.75" fill="#ffece5"/><circle cx="112.9" cy="558.1" r="2.75" fill="#ffffff"/><circle cx="97.2" cy="560.4" r="2.75" fill="#c4a2ff"/><circle cx="101.8" cy="562.2" r="2.75" fill="#ffffff"/><circle cx="104.2" cy="564.5" r="2.75" fill="#ffffff"/><circle cx="96.0" cy="563.9" r="2.75" fill="#d4b9ff"/><circle cx="91.9" cy="568.0" r="2.75" fill="#d4b9ff"/><circle cx="98.3" cy="568.6" r="2.75" fill="#ddc7ff"/><circle cx="100.7" cy="570.4" r="2.75" fill="#e3d0ff"/><circle cx="93.1" cy="574.5" r="2.75" fill="#ddc7ff"/><circle cx="99.5" cy="575.0" r="2.75" fill="#c4a2ff"/><circle cx="90.2" cy="577.4" r="2.75" fill="#d4b9ff"/><circle cx="94.3" cy="579.7" r="2.75" fill="#e3d0ff"/><circle cx="90.2" cy="584.4" r="2.75" fill="#f2e7ff"/><circle cx="98.9" cy="586.7" r="2.75" fill="#e3d0ff"/><circle cx="132.8" cy="552.6" r="2.75" fill="#ffffff"/><circle cx="136.9" cy="558.1" r="2.75" fill="#ffc6b2"/><circle cx="117.6" cy="566.3" r="2.75" fill="#ffd1c1"/><circle cx="143.0" cy="569.2" r="2.75" fill="#ffb299"/><circle cx="149.7" cy="574.8" r="2.75" fill="#ffc6b2"/><circle cx="116.8" cy="577.6" r="2.75" fill="#ffffff"/><circle cx="131.6" cy="581.1" r="2.75" fill="#ffd1c1"/><circle cx="137.8" cy="579.5" r="2.75" fill="#e9d9ff"/><circle cx="157.3" cy="585.3" r="2.75" fill="#e9d9ff"/><circle cx="124.6" cy="586.1" r="2.75" fill="#ffc6b2"/><circle cx="127.5" cy="591.4" r="2.75" fill="#fff7f5"/><circle cx="132.8" cy="594.3" r="2.75" fill="#ffb299"/><circle cx="136.3" cy="596.6" r="2.75" fill="#ffece5"/><circle cx="152.1" cy="593.7" r="2.75" fill="#ffe8e0"/><circle cx="150.9" cy="596.1" r="2.75" fill="#fff7f5"/><circle cx="103.0" cy="597.8" r="2.75" fill="#ffece5"/><circle cx="98.3" cy="598.4" r="2.75" fill="#e3d0ff"/><circle cx="111.2" cy="599.0" r="2.75" fill="#ffbaa3"/><circle cx="123.5" cy="597.8" r="2.75" fill="#ffc6b2"/><circle cx="141.6" cy="599.0" r="2.75" fill="#ffbaa3"/><circle cx="144.5" cy="598.4" r="2.75" fill="#ffb299"/><circle cx="84.0" cy="575.0" r="2.75" fill="#e9d9ff"/><circle cx="88.0" cy="574.6" r="2.75" fill="#ffece5"/><circle cx="82.3" cy="578.5" r="2.75" fill="#d4b9ff"/><circle cx="85.8" cy="579.4" r="2.75" fill="#ddc7ff"/><circle cx="89.3" cy="568.0" r="2.75" fill="#ddc7ff"/><circle cx="84.0" cy="588.6" r="2.75" fill="#c4a2ff"/><circle cx="88.4" cy="585.5" r="2.75" fill="#faf6ff"/><circle cx="81.0" cy="592.6" r="2.75" fill="#ffe8e0"/><circle cx="87.5" cy="589.9" r="2.75" fill="#ffffff"/><circle cx="82.3" cy="598.7" r="2.75" fill="#e3d0ff"/><circle cx="81.8" cy="600.3" r="2.75" fill="#e3d0ff"/><circle cx="83.2" cy="603.8" r="2.75" fill="#ddc7ff"/><circle cx="84.9" cy="608.1" r="2.75" fill="#a074ff"/><circle cx="83.6" cy="612.5" r="2.75" fill="#a87dff"/><circle cx="88.4" cy="614.3" r="2.75" fill="#f2e7ff"/><circle cx="91.5" cy="616.0" r="2.75" fill="#c4a2ff"/><circle cx="89.3" cy="618.6" r="2.75" fill="#976bff"/><circle cx="83.2" cy="619.5" r="2.75" fill="#c4a2ff"/><circle cx="82.3" cy="623.9" r="2.75" fill="#ddc7ff"/><circle cx="87.5" cy="624.8" r="2.75" fill="#e9d9ff"/><circle cx="92.8" cy="609.9" r="2.75" fill="#faf6ff"/><circle cx="91.9" cy="605.9" r="2.75" fill="#d4b9ff"/><circle cx="94.5" cy="602.0" r="2.75" fill="#cbabff"/><circle cx="98.9" cy="599.4" r="2.75" fill="#e3d0ff"/><circle cx="102.4" cy="598.1" r="2.75" fill="#ffece5"/><circle cx="100.7" cy="603.8" r="2.75" fill="#ffffff"/><circle cx="96.3" cy="608.1" r="2.75" fill="#e9d9ff"/><circle cx="103.3" cy="606.4" r="2.75" fill="#f2e7ff"/><circle cx="102.4" cy="612.1" r="2.75" fill="#ffc6b2"/><circle cx="105.9" cy="614.3" r="2.75" fill="#ffece5"/><circle cx="98.0" cy="615.1" r="2.75" fill="#fff0ea"/><circle cx="96.3" cy="619.5" r="2.75" fill="#ffd1c1"/><circle cx="99.8" cy="620.4" r="2.75" fill="#ffd1c1"/><circle cx="105.1" cy="618.6" r="2.75" fill="#ffe0d6"/><circle cx="93.7" cy="623.9" r="2.75" fill="#e3d0ff"/><circle cx="98.0" cy="623.9" r="2.75" fill="#faf6ff"/><circle cx="103.3" cy="623.0" r="2.75" fill="#e3d0ff"/><circle cx="91.0" cy="628.3" r="2.75" fill="#d4b9ff"/><circle cx="95.4" cy="628.3" r="2.75" fill="#ddc7ff"/><circle cx="101.6" cy="627.4" r="2.75" fill="#ddc7ff"/><circle cx="106.8" cy="626.5" r="2.75" fill="#d4b9ff"/><circle cx="81.4" cy="628.3" r="2.75" fill="#d4b9ff"/><circle cx="84.9" cy="631.3" r="2.75" fill="#ffd9cb"/><circle cx="82.3" cy="632.7" r="2.75" fill="#ddc7ff"/><circle cx="88.4" cy="630.9" r="2.75" fill="#e3d0ff"/><circle cx="96.3" cy="633.5" r="2.75" fill="#ffece5"/><circle cx="101.6" cy="633.5" r="2.75" fill="#bd99ff"/><circle cx="105.9" cy="632.7" r="2.75" fill="#f2e7ff"/><circle cx="66.1" cy="630.9" r="2.75" fill="#e3d0ff"/><circle cx="67.8" cy="631.3" r="2.75" fill="#ffe0d6"/><circle cx="70.9" cy="630.0" r="2.75" fill="#e9d9ff"/><circle cx="74.4" cy="630.0" r="2.75" fill="#e9d9ff"/><circle cx="76.2" cy="629.6" r="2.75" fill="#e3d0ff"/><circle cx="73.1" cy="635.3" r="2.75" fill="#d4b9ff"/><circle cx="77.5" cy="636.6" r="2.75" fill="#d4b9ff"/><circle cx="111.6" cy="600.3" r="2.75" fill="#ffd1c1"/><circle cx="123.0" cy="598.1" r="2.75" fill="#ffd1c1"/><circle cx="132.6" cy="595.9" r="2.75" fill="#ffc6b2"/><circle cx="136.2" cy="596.8" r="2.75" fill="#ffece5"/><circle cx="132.6" cy="599.8" r="2.75" fill="#ffd9cb"/><circle cx="137.0" cy="601.6" r="2.75" fill="#e3d0ff"/><circle cx="141.4" cy="600.3" r="2.75" fill="#ffbaa3"/><circle cx="144.9" cy="599.4" r="2.75" fill="#ffbaa3"/><circle cx="149.3" cy="602.9" r="2.75" fill="#ffd9cb"/><circle cx="154.1" cy="603.8" r="2.75" fill="#ff9e81"/><circle cx="151.0" cy="596.3" r="2.75" fill="#fff7f5"/><circle cx="111.6" cy="605.9" r="2.75" fill="#fff7f5"/><circle cx="118.2" cy="605.5" r="2.75" fill="#ffffff"/><circle cx="128.3" cy="603.8" r="2.75" fill="#ffffff"/><circle cx="124.8" cy="608.6" r="2.75" fill="#ffece5"/><circle cx="135.3" cy="606.8" r="2.75" fill="#d4b9ff"/><circle cx="114.3" cy="613.0" r="2.75" fill="#ffd1c1"/><circle cx="117.8" cy="616.9" r="2.75" fill="#f2e7ff"/><circle cx="124.8" cy="617.3" r="2.75" fill="#ffc6b2"/><circle cx="120.4" cy="618.6" r="2.75" fill="#ffb299"/><circle cx="110.8" cy="620.4" r="2.75" fill="#ffffff"/><circle cx="116.0" cy="619.1" r="2.75" fill="#ddc7ff"/><circle cx="114.3" cy="623.0" r="2.75" fill="#a074ff"/><circle cx="118.6" cy="622.2" r="2.75" fill="#e3d0ff"/><circle cx="110.8" cy="627.4" r="2.75" fill="#976bff"/><circle cx="122.1" cy="625.7" r="2.75" fill="#ffffff"/><circle cx="126.5" cy="624.3" r="2.75" fill="#ffe0d6"/><circle cx="131.8" cy="624.3" r="2.75" fill="#e3d0ff"/><circle cx="141.0" cy="615.1" r="2.75" fill="#ffbaa3"/><circle cx="144.9" cy="615.1" r="2.75" fill="#ffece5"/><circle cx="147.5" cy="612.5" r="2.75" fill="#e9d9ff"/><circle cx="143.2" cy="618.6" r="2.75" fill="#ffd9cb"/><circle cx="140.1" cy="621.7" r="2.75" fill="#ffece5"/><circle cx="146.7" cy="623.0" r="2.75" fill="#ffbaa3"/><circle cx="148.9" cy="628.7" r="2.75" fill="#ffd9cb"/><circle cx="150.2" cy="607.3" r="2.75" fill="#ffffff"/></g><rect x="49.5" y="436.9" width="120" height="220.39999999999998" fill="none" stroke="#333" stroke-width="1.3"/><rect x="49.5" y="413.5" width="120" height="23.399999999999977" fill="#d9d9d9" stroke="#333" stroke-width="1.3"/><line x1="49.5" y1="436.9" x2="169.5" y2="436.9" stroke="#333" stroke-width="1.8"/><text x="109.50" y="429.60" font-size="12.3" fill="#1a1a1a" text-anchor="middle" textLength="58.14" lengthAdjust="spacingAndGlyphs">up to 1730</text><line x1="69.90" y1="657.3" x2="69.90" y2="661.5999999999999" stroke="#333" stroke-width="1.3"/><text x="69.90" y="673.60" font-size="12.3" fill="#4d4d4d" text-anchor="middle" textLength="13.68" lengthAdjust="spacingAndGlyphs">20</text><line x1="101.90" y1="657.3" x2="101.90" y2="661.5999999999999" stroke="#333" stroke-width="1.3"/><text x="101.90" y="673.60" font-size="12.3" fill="#4d4d4d" text-anchor="middle" textLength="13.68" lengthAdjust="spacingAndGlyphs">24</text><line x1="133.90" y1="657.3" x2="133.90" y2="661.5999999999999" stroke="#333" stroke-width="1.3"/><text x="133.90" y="673.60" font-size="12.3" fill="#4d4d4d" text-anchor="middle" textLength="13.68" lengthAdjust="spacingAndGlyphs">28</text><line x1="165.90" y1="657.3" x2="165.90" y2="661.5999999999999" stroke="#333" stroke-width="1.3"/><text x="165.90" y="673.60" font-size="12.3" fill="#4d4d4d" text-anchor="middle" textLength="13.68" lengthAdjust="spacingAndGlyphs">32</text><defs><clipPath id="cb1"><rect x="177.6" y="436.9" width="120" height="220.39999999999998"/></clipPath></defs><g clip-path="url(#cb1)"><line x1="182.00" y1="436.9" x2="182.00" y2="657.3" stroke="#ebebeb" stroke-width="0.75"/><line x1="214.00" y1="436.9" x2="214.00" y2="657.3" stroke="#ebebeb" stroke-width="0.75"/><line x1="246.00" y1="436.9" x2="246.00" y2="657.3" stroke="#ebebeb" stroke-width="0.75"/><line x1="278.00" y1="436.9" x2="278.00" y2="657.3" stroke="#ebebeb" stroke-width="0.75"/><line x1="177.6" y1="611.88" x2="297.6" y2="611.88" stroke="#ebebeb" stroke-width="0.75"/><line x1="177.6" y1="565.12" x2="297.6" y2="565.12" stroke="#ebebeb" stroke-width="0.75"/><line x1="177.6" y1="518.38" x2="297.6" y2="518.38" stroke="#ebebeb" stroke-width="0.75"/><line x1="177.6" y1="471.62" x2="297.6" y2="471.62" stroke="#ebebeb" stroke-width="0.75"/><line x1="198.00" y1="436.9" x2="198.00" y2="657.3" stroke="#ebebeb" stroke-width="1.45"/><line x1="230.00" y1="436.9" x2="230.00" y2="657.3" stroke="#ebebeb" stroke-width="1.45"/><line x1="262.00" y1="436.9" x2="262.00" y2="657.3" stroke="#ebebeb" stroke-width="1.45"/><line x1="294.00" y1="436.9" x2="294.00" y2="657.3" stroke="#ebebeb" stroke-width="1.45"/><line x1="177.6" y1="635.25" x2="297.6" y2="635.25" stroke="#ebebeb" stroke-width="1.45"/><line x1="177.6" y1="588.50" x2="297.6" y2="588.50" stroke="#ebebeb" stroke-width="1.45"/><line x1="177.6" y1="541.75" x2="297.6" y2="541.75" stroke="#ebebeb" stroke-width="1.45"/><line x1="177.6" y1="495.00" x2="297.6" y2="495.00" stroke="#ebebeb" stroke-width="1.45"/><line x1="177.6" y1="448.25" x2="297.6" y2="448.25" stroke="#ebebeb" stroke-width="1.45"/><polygon points="202.72,465.83 204.00,465.08 205.28,465.27 206.00,463.21 207.12,461.71 208.80,461.15 211.52,461.53 213.20,463.77 215.84,467.32 218.48,471.25 222.00,472.19 224.64,472.93 228.56,470.69 232.48,471.62 236.88,473.87 239.52,469.94 243.04,468.07 244.32,460.22 245.60,454.98 248.48,450.87 252.00,449.18 255.60,449.18 257.92,446.94 260.88,446.57 263.92,449.18 267.52,452.18 271.04,453.30 272.80,456.85 271.68,460.41 269.84,463.40 268.08,465.08 270.40,466.95 268.64,468.07 266.88,471.62 266.24,475.18 266.88,478.73 268.64,481.72 272.16,483.03 274.64,485.28 276.96,488.83 278.80,491.82 276.96,496.68 274.00,501.36 272.16,504.91 270.80,506.22 274.40,513.33 278.00,522.86 279.68,528.10 276.72,533.52 277.36,538.20 276.16,542.87 279.68,547.73 279.20,552.41 282.72,557.08 282.16,558.58 279.92,564.38 284.40,570.36 288.80,576.35 290.56,580.83 288.80,586.63 284.40,592.61 279.60,600.65 274.80,607.20 271.60,612.81 267.60,617.48 263.60,624.03 260.40,625.90 255.60,626.27 250.80,628.14 246.00,629.64 242.00,630.58 238.00,631.51 234.00,634.32 230.00,635.25 226.00,636.18 221.60,638.62 218.80,636.18 216.40,633.38 214.00,631.51 210.80,628.70 208.80,624.03 209.20,618.42 210.00,612.81 210.00,605.33 208.40,599.72 208.00,595.98 206.00,588.50 206.80,582.89 206.48,574.10 210.64,573.54 215.60,571.67 216.00,568.87 217.20,565.12 221.20,562.69 225.20,558.58 229.20,552.41 231.36,551.10 233.20,546.99 234.88,544.37 238.48,542.50 239.36,541.75 239.84,537.82 239.84,534.46 239.84,533.15 238.48,531.47 235.36,530.16 234.48,528.29 230.96,526.98 230.00,525.67 228.64,521.55 226.96,515.76 228.08,506.22 226.96,500.24 226.56,498.93 225.28,495.37 225.92,490.70 225.92,486.58 223.68,483.03 222.00,479.48 218.48,477.80 213.20,475.93 207.12,470.32" fill="#7f7f7f"/><polygon points="233.60,541.19 234.64,539.69 236.80,539.51 238.16,540.63 237.36,542.50 234.96,542.50" fill="#7f7f7f"/><circle cx="237.7" cy="605.1" r="2.75" fill="#eee1ff"/><circle cx="235.7" cy="599.1" r="2.75" fill="#e6d4ff"/><circle cx="267.7" cy="605.1" r="2.75" fill="#ffd4c5"/><circle cx="219.7" cy="623.1" r="2.75" fill="#ffe5db"/><circle cx="225.7" cy="605.1" r="2.75" fill="#e6d5ff"/><circle cx="231.7" cy="623.1" r="2.75" fill="#ebddff"/><circle cx="217.7" cy="611.1" r="2.75" fill="#d9c0ff"/><circle cx="254.2" cy="450.1" r="2.75" fill="#ffe8e0"/><circle cx="254.2" cy="468.6" r="2.75" fill="#e9d9ff"/><circle cx="226.9" cy="478.3" r="2.75" fill="#ffd9cb"/><circle cx="250.6" cy="496.4" r="2.75" fill="#fff7f5"/><circle cx="257.6" cy="509.5" r="2.75" fill="#e3d0ff"/><circle cx="267.4" cy="507.5" r="2.75" fill="#ffffff"/><circle cx="243.4" cy="513.6" r="2.75" fill="#d4b9ff"/><circle cx="236.4" cy="521.2" r="2.75" fill="#e3d0ff"/><circle cx="231.3" cy="525.6" r="2.75" fill="#ffece5"/><circle cx="234.7" cy="526.8" r="2.75" fill="#ffece5"/><circle cx="271.5" cy="523.5" r="2.75" fill="#ffd1c1"/><circle cx="238.6" cy="529.4" r="2.75" fill="#d4b9ff"/><circle cx="243.0" cy="530.4" r="2.75" fill="#cbabff"/><circle cx="253.5" cy="534.3" r="2.75" fill="#fff7f5"/><circle cx="240.8" cy="536.2" r="2.75" fill="#ddc7ff"/><circle cx="241.5" cy="539.2" r="2.75" fill="#e3d0ff"/><circle cx="235.7" cy="541.4" r="2.75" fill="#ffd9cb"/><circle cx="242.3" cy="542.1" r="2.75" fill="#e3d0ff"/><circle cx="247.4" cy="541.1" r="2.75" fill="#fff7f5"/><circle cx="235.7" cy="541.2" r="2.75" fill="#ffe0d6"/><circle cx="241.5" cy="542.3" r="2.75" fill="#ddc7ff"/><circle cx="246.8" cy="541.8" r="2.75" fill="#fff7f5"/><circle cx="249.1" cy="546.4" r="2.75" fill="#ffd9cb"/><circle cx="233.9" cy="548.2" r="2.75" fill="#ddc7ff"/><circle cx="238.6" cy="548.2" r="2.75" fill="#ffffff"/><circle cx="243.3" cy="548.2" r="2.75" fill="#ffe8e0"/><circle cx="232.2" cy="551.7" r="2.75" fill="#fff7f5"/><circle cx="238.6" cy="552.8" r="2.75" fill="#f2e7ff"/><circle cx="243.9" cy="551.7" r="2.75" fill="#fff7f5"/><circle cx="229.3" cy="555.2" r="2.75" fill="#e3d0ff"/><circle cx="235.7" cy="555.8" r="2.75" fill="#f2e7ff"/><circle cx="245.0" cy="555.2" r="2.75" fill="#ffd1c1"/><circle cx="240.9" cy="558.1" r="2.75" fill="#e9d9ff"/><circle cx="234.5" cy="558.7" r="2.75" fill="#d4b9ff"/><circle cx="244.4" cy="561.0" r="2.75" fill="#ffd9cb"/><circle cx="225.8" cy="560.4" r="2.75" fill="#c4a2ff"/><circle cx="231.0" cy="562.8" r="2.75" fill="#f2e7ff"/><circle cx="232.2" cy="564.5" r="2.75" fill="#fff0ea"/><circle cx="222.8" cy="563.4" r="2.75" fill="#ddc7ff"/><circle cx="227.5" cy="566.9" r="2.75" fill="#c4a2ff"/><circle cx="237.4" cy="568.0" r="2.75" fill="#ddc7ff"/><circle cx="240.9" cy="565.1" r="2.75" fill="#d4b9ff"/><circle cx="246.2" cy="566.3" r="2.75" fill="#ffe0d6"/><circle cx="250.9" cy="566.9" r="2.75" fill="#e3d0ff"/><circle cx="255.0" cy="568.0" r="2.75" fill="#fff7f5"/><circle cx="220.5" cy="569.2" r="2.75" fill="#c4a2ff"/><circle cx="226.3" cy="570.4" r="2.75" fill="#c4a2ff"/><circle cx="228.7" cy="575.0" r="2.75" fill="#b38bff"/><circle cx="220.5" cy="575.0" r="2.75" fill="#d4b9ff"/><circle cx="224.0" cy="578.5" r="2.75" fill="#e3d0ff"/><circle cx="228.7" cy="579.7" r="2.75" fill="#b38bff"/><circle cx="219.3" cy="582.0" r="2.75" fill="#f2e7ff"/><circle cx="226.3" cy="583.2" r="2.75" fill="#c4a2ff"/><circle cx="218.2" cy="586.7" r="2.75" fill="#d4b9ff"/><circle cx="226.9" cy="587.3" r="2.75" fill="#ffd1c1"/><circle cx="231.0" cy="587.3" r="2.75" fill="#d4b9ff"/><circle cx="220.5" cy="589.1" r="2.75" fill="#ffece5"/><circle cx="228.1" cy="593.1" r="2.75" fill="#ffd1c1"/><circle cx="235.7" cy="593.1" r="2.75" fill="#e9d9ff"/><circle cx="245.0" cy="590.2" r="2.75" fill="#ffece5"/><circle cx="242.7" cy="592.0" r="2.75" fill="#ffe8e0"/><circle cx="238.6" cy="577.1" r="2.75" fill="#ffe0d6"/><circle cx="245.0" cy="577.6" r="2.75" fill="#ffffff"/><circle cx="252.0" cy="574.8" r="2.75" fill="#ffd1c1"/><circle cx="257.3" cy="576.2" r="2.75" fill="#f2e7ff"/><circle cx="262.5" cy="575.0" r="2.75" fill="#ffc6b2"/><circle cx="266.1" cy="579.7" r="2.75" fill="#e3d0ff"/><circle cx="253.8" cy="580.9" r="2.75" fill="#ffece5"/><circle cx="259.6" cy="580.9" r="2.75" fill="#ffd9cb"/><circle cx="252.6" cy="586.1" r="2.75" fill="#ffd9cb"/><circle cx="255.5" cy="591.4" r="2.75" fill="#e9d9ff"/><circle cx="260.8" cy="552.8" r="2.75" fill="#ffe4db"/><circle cx="259.6" cy="556.9" r="2.75" fill="#ffc6b2"/><circle cx="265.5" cy="558.1" r="2.75" fill="#e3d0ff"/><circle cx="274.2" cy="558.1" r="2.75" fill="#ffb299"/><circle cx="271.0" cy="569.0" r="2.75" fill="#ffd1c1"/><circle cx="272.1" cy="574.8" r="2.75" fill="#ffb299"/><circle cx="278.3" cy="574.8" r="2.75" fill="#f2e7ff"/><circle cx="285.7" cy="585.3" r="2.75" fill="#ffd9cb"/><circle cx="267.2" cy="590.0" r="2.75" fill="#ffffff"/><circle cx="260.8" cy="594.3" r="2.75" fill="#ffd9cb"/><circle cx="264.3" cy="596.6" r="2.75" fill="#ffbaa3"/><circle cx="280.1" cy="593.7" r="2.75" fill="#ffe8e0"/><circle cx="278.9" cy="596.1" r="2.75" fill="#fff4ef"/><circle cx="241.5" cy="598.4" r="2.75" fill="#e3d0ff"/><circle cx="229.8" cy="597.8" r="2.75" fill="#f2e7ff"/><circle cx="250.9" cy="597.8" r="2.75" fill="#ffd9cb"/><circle cx="261.4" cy="599.0" r="2.75" fill="#f2e7ff"/><circle cx="275.4" cy="599.0" r="2.75" fill="#f2e7ff"/><circle cx="209.8" cy="600.3" r="2.75" fill="#d4b9ff"/><circle cx="213.3" cy="600.3" r="2.75" fill="#e9d9ff"/><circle cx="217.3" cy="601.6" r="2.75" fill="#d4b9ff"/><circle cx="223.0" cy="602.0" r="2.75" fill="#ddc7ff"/><circle cx="226.9" cy="599.4" r="2.75" fill="#fff7f5"/><circle cx="230.9" cy="598.5" r="2.75" fill="#f2e7ff"/><circle cx="215.5" cy="598.1" r="2.75" fill="#ffd9cb"/><circle cx="212.0" cy="608.1" r="2.75" fill="#f2e7ff"/><circle cx="216.4" cy="607.7" r="2.75" fill="#f2e7ff"/><circle cx="220.8" cy="605.9" r="2.75" fill="#ffd9cb"/><circle cx="221.2" cy="610.3" r="2.75" fill="#b38bff"/><circle cx="225.2" cy="609.0" r="2.75" fill="#e3d0ff"/><circle cx="229.6" cy="604.6" r="2.75" fill="#f2e7ff"/><circle cx="233.1" cy="607.3" r="2.75" fill="#d4b9ff"/><circle cx="229.6" cy="612.1" r="2.75" fill="#ffb299"/><circle cx="233.9" cy="614.3" r="2.75" fill="#fff7f5"/><circle cx="210.3" cy="613.4" r="2.75" fill="#ffe0d6"/><circle cx="215.5" cy="614.3" r="2.75" fill="#e3d0ff"/><circle cx="219.9" cy="616.0" r="2.75" fill="#ddc7ff"/><circle cx="226.0" cy="615.1" r="2.75" fill="#e9d9ff"/><circle cx="230.4" cy="616.9" r="2.75" fill="#faf6ff"/><circle cx="210.3" cy="619.5" r="2.75" fill="#cbabff"/><circle cx="214.7" cy="618.6" r="2.75" fill="#ddc7ff"/><circle cx="218.2" cy="619.5" r="2.75" fill="#f2e7ff"/><circle cx="224.3" cy="620.0" r="2.75" fill="#ffe0d6"/><circle cx="227.8" cy="620.4" r="2.75" fill="#ffe0d6"/><circle cx="233.1" cy="619.5" r="2.75" fill="#ffd9cb"/><circle cx="208.5" cy="624.8" r="2.75" fill="#ddc7ff"/><circle cx="212.0" cy="623.9" r="2.75" fill="#e3d0ff"/><circle cx="216.4" cy="626.5" r="2.75" fill="#ffb299"/><circle cx="223.4" cy="627.4" r="2.75" fill="#c4a2ff"/><circle cx="227.8" cy="624.8" r="2.75" fill="#8a5dff"/><circle cx="232.2" cy="627.4" r="2.75" fill="#fff7f5"/><circle cx="235.7" cy="625.7" r="2.75" fill="#ffece5"/><circle cx="210.3" cy="631.8" r="2.75" fill="#f2e7ff"/><circle cx="213.8" cy="630.9" r="2.75" fill="#ffece5"/><circle cx="219.9" cy="631.8" r="2.75" fill="#f2e7ff"/><circle cx="224.3" cy="633.5" r="2.75" fill="#ffd9cb"/><circle cx="228.7" cy="631.8" r="2.75" fill="#ffbaa3"/><circle cx="233.1" cy="632.7" r="2.75" fill="#f2e7ff"/><circle cx="218.2" cy="637.0" r="2.75" fill="#f2e7ff"/><circle cx="194.5" cy="630.9" r="2.75" fill="#d4b9ff"/><circle cx="198.0" cy="629.2" r="2.75" fill="#e9d9ff"/><circle cx="201.5" cy="630.0" r="2.75" fill="#f2e7ff"/><circle cx="205.0" cy="629.6" r="2.75" fill="#cbabff"/><circle cx="199.8" cy="633.5" r="2.75" fill="#ddc7ff"/><circle cx="205.5" cy="636.6" r="2.75" fill="#a87dff"/><circle cx="182.7" cy="647.6" r="2.75" fill="#d4b9ff"/><circle cx="239.6" cy="600.3" r="2.75" fill="#ddc7ff"/><circle cx="242.3" cy="598.5" r="2.75" fill="#e9d9ff"/><circle cx="244.0" cy="601.6" r="2.75" fill="#ffe8e0"/><circle cx="251.5" cy="598.1" r="2.75" fill="#ffd9cb"/><circle cx="260.6" cy="599.8" r="2.75" fill="#e9d9ff"/><circle cx="263.3" cy="596.3" r="2.75" fill="#ffc6b2"/><circle cx="265.0" cy="602.0" r="2.75" fill="#ffece5"/><circle cx="269.0" cy="600.3" r="2.75" fill="#ffc6b2"/><circle cx="272.5" cy="599.4" r="2.75" fill="#f2e7ff"/><circle cx="276.0" cy="599.4" r="2.75" fill="#e9d9ff"/><circle cx="279.9" cy="595.9" r="2.75" fill="#fff7f5"/><circle cx="256.7" cy="603.8" r="2.75" fill="#ffece5"/><circle cx="247.1" cy="605.5" r="2.75" fill="#ffe8e0"/><circle cx="243.6" cy="607.3" r="2.75" fill="#b38bff"/><circle cx="253.2" cy="608.6" r="2.75" fill="#ddc7ff"/><circle cx="257.6" cy="610.6" r="2.75" fill="#ff9e81"/><circle cx="263.3" cy="606.8" r="2.75" fill="#ffc6b2"/><circle cx="268.5" cy="611.2" r="2.75" fill="#ffe8e0"/><circle cx="273.3" cy="605.9" r="2.75" fill="#ffe0d6"/><circle cx="277.3" cy="610.8" r="2.75" fill="#ffbaa3"/><circle cx="282.1" cy="603.8" r="2.75" fill="#e9d9ff"/><circle cx="289.1" cy="604.5" r="2.75" fill="#f2e7ff"/><circle cx="239.6" cy="610.8" r="2.75" fill="#ffd9cb"/><circle cx="247.5" cy="612.1" r="2.75" fill="#ffece5"/><circle cx="238.8" cy="614.3" r="2.75" fill="#faf6ff"/><circle cx="262.4" cy="613.4" r="2.75" fill="#d4b9ff"/><circle cx="265.9" cy="615.1" r="2.75" fill="#f2e7ff"/><circle cx="272.9" cy="615.1" r="2.75" fill="#e9d9ff"/><circle cx="252.8" cy="617.8" r="2.75" fill="#ffc6b2"/><circle cx="258.5" cy="618.2" r="2.75" fill="#e9d9ff"/><circle cx="262.4" cy="618.6" r="2.75" fill="#ffe0d6"/><circle cx="268.5" cy="621.3" r="2.75" fill="#ffd1c1"/><circle cx="276.4" cy="618.2" r="2.75" fill="#e9d9ff"/><circle cx="244.0" cy="619.5" r="2.75" fill="#c4a2ff"/><circle cx="240.5" cy="623.0" r="2.75" fill="#a074ff"/><circle cx="250.1" cy="625.2" r="2.75" fill="#e3d0ff"/><circle cx="254.5" cy="624.8" r="2.75" fill="#ffd9cb"/><circle cx="259.8" cy="623.9" r="2.75" fill="#fff7f5"/><circle cx="264.2" cy="623.9" r="2.75" fill="#faf6ff"/><circle cx="267.7" cy="626.5" r="2.75" fill="#ffc6b2"/><circle cx="270.3" cy="628.3" r="2.75" fill="#ffc6b2"/><circle cx="277.3" cy="624.8" r="2.75" fill="#e9d9ff"/><circle cx="279.9" cy="623.0" r="2.75" fill="#e9d9ff"/><circle cx="278.6" cy="629.6" r="2.75" fill="#ffaa90"/><circle cx="244.9" cy="628.3" r="2.75" fill="#e3d0ff"/><circle cx="238.8" cy="631.8" r="2.75" fill="#f2e7ff"/><circle cx="254.5" cy="634.0" r="2.75" fill="#d4b9ff"/><circle cx="280.4" cy="636.2" r="2.75" fill="#ffd9cb"/><circle cx="278.2" cy="641.0" r="2.75" fill="#ffc6b2"/></g><rect x="177.6" y="436.9" width="120" height="220.39999999999998" fill="none" stroke="#333" stroke-width="1.3"/><rect x="177.6" y="413.5" width="120" height="23.399999999999977" fill="#d9d9d9" stroke="#333" stroke-width="1.3"/><line x1="177.6" y1="436.9" x2="297.6" y2="436.9" stroke="#333" stroke-width="1.8"/><text x="237.60" y="429.60" font-size="12.3" fill="#1a1a1a" text-anchor="middle" textLength="61.91" lengthAdjust="spacingAndGlyphs">1730−1780</text><line x1="198.00" y1="657.3" x2="198.00" y2="661.5999999999999" stroke="#333" stroke-width="1.3"/><text x="198.00" y="673.60" font-size="12.3" fill="#4d4d4d" text-anchor="middle" textLength="13.68" lengthAdjust="spacingAndGlyphs">20</text><line x1="230.00" y1="657.3" x2="230.00" y2="661.5999999999999" stroke="#333" stroke-width="1.3"/><text x="230.00" y="673.60" font-size="12.3" fill="#4d4d4d" text-anchor="middle" textLength="13.68" lengthAdjust="spacingAndGlyphs">24</text><line x1="262.00" y1="657.3" x2="262.00" y2="661.5999999999999" stroke="#333" stroke-width="1.3"/><text x="262.00" y="673.60" font-size="12.3" fill="#4d4d4d" text-anchor="middle" textLength="13.68" lengthAdjust="spacingAndGlyphs">28</text><line x1="294.00" y1="657.3" x2="294.00" y2="661.5999999999999" stroke="#333" stroke-width="1.3"/><text x="294.00" y="673.60" font-size="12.3" fill="#4d4d4d" text-anchor="middle" textLength="13.68" lengthAdjust="spacingAndGlyphs">32</text><defs><clipPath id="cb2"><rect x="305.7" y="436.9" width="120" height="220.39999999999998"/></clipPath></defs><g clip-path="url(#cb2)"><line x1="310.10" y1="436.9" x2="310.10" y2="657.3" stroke="#ebebeb" stroke-width="0.75"/><line x1="342.10" y1="436.9" x2="342.10" y2="657.3" stroke="#ebebeb" stroke-width="0.75"/><line x1="374.10" y1="436.9" x2="374.10" y2="657.3" stroke="#ebebeb" stroke-width="0.75"/><line x1="406.10" y1="436.9" x2="406.10" y2="657.3" stroke="#ebebeb" stroke-width="0.75"/><line x1="305.7" y1="611.88" x2="425.7" y2="611.88" stroke="#ebebeb" stroke-width="0.75"/><line x1="305.7" y1="565.12" x2="425.7" y2="565.12" stroke="#ebebeb" stroke-width="0.75"/><line x1="305.7" y1="518.38" x2="425.7" y2="518.38" stroke="#ebebeb" stroke-width="0.75"/><line x1="305.7" y1="471.62" x2="425.7" y2="471.62" stroke="#ebebeb" stroke-width="0.75"/><line x1="326.10" y1="436.9" x2="326.10" y2="657.3" stroke="#ebebeb" stroke-width="1.45"/><line x1="358.10" y1="436.9" x2="358.10" y2="657.3" stroke="#ebebeb" stroke-width="1.45"/><line x1="390.10" y1="436.9" x2="390.10" y2="657.3" stroke="#ebebeb" stroke-width="1.45"/><line x1="422.10" y1="436.9" x2="422.10" y2="657.3" stroke="#ebebeb" stroke-width="1.45"/><line x1="305.7" y1="635.25" x2="425.7" y2="635.25" stroke="#ebebeb" stroke-width="1.45"/><line x1="305.7" y1="588.50" x2="425.7" y2="588.50" stroke="#ebebeb" stroke-width="1.45"/><line x1="305.7" y1="541.75" x2="425.7" y2="541.75" stroke="#ebebeb" stroke-width="1.45"/><line x1="305.7" y1="495.00" x2="425.7" y2="495.00" stroke="#ebebeb" stroke-width="1.45"/><line x1="305.7" y1="448.25" x2="425.7" y2="448.25" stroke="#ebebeb" stroke-width="1.45"/><polygon points="330.82,465.83 332.10,465.08 333.38,465.27 334.10,463.21 335.22,461.71 336.90,461.15 339.62,461.53 341.30,463.77 343.94,467.32 346.58,471.25 350.10,472.19 352.74,472.93 356.66,470.69 360.58,471.62 364.98,473.87 367.62,469.94 371.14,468.07 372.42,460.22 373.70,454.98 376.58,450.87 380.10,449.18 383.70,449.18 386.02,446.94 388.98,446.57 392.02,449.18 395.62,452.18 399.14,453.30 400.90,456.85 399.78,460.41 397.94,463.40 396.18,465.08 398.50,466.95 396.74,468.07 394.98,471.62 394.34,475.18 394.98,478.73 396.74,481.72 400.26,483.03 402.74,485.28 405.06,488.83 406.90,491.82 405.06,496.68 402.10,501.36 400.26,504.91 398.90,506.22 402.50,513.33 406.10,522.86 407.78,528.10 404.82,533.52 405.46,538.20 404.26,542.87 407.78,547.73 407.30,552.41 410.82,557.08 410.26,558.58 408.02,564.38 412.50,570.36 416.90,576.35 418.66,580.83 416.90,586.63 412.50,592.61 407.70,600.65 402.90,607.20 399.70,612.81 395.70,617.48 391.70,624.03 388.50,625.90 383.70,626.27 378.90,628.14 374.10,629.64 370.10,630.58 366.10,631.51 362.10,634.32 358.10,635.25 354.10,636.18 349.70,638.62 346.90,636.18 344.50,633.38 342.10,631.51 338.90,628.70 336.90,624.03 337.30,618.42 338.10,612.81 338.10,605.33 336.50,599.72 336.10,595.98 334.10,588.50 334.90,582.89 334.58,574.10 338.74,573.54 343.70,571.67 344.10,568.87 345.30,565.12 349.30,562.69 353.30,558.58 357.30,552.41 359.46,551.10 361.30,546.99 362.98,544.37 366.58,542.50 367.46,541.75 367.94,537.82 367.94,534.46 367.94,533.15 366.58,531.47 363.46,530.16 362.58,528.29 359.06,526.98 358.10,525.67 356.74,521.55 355.06,515.76 356.18,506.22 355.06,500.24 354.66,498.93 353.38,495.37 354.02,490.70 354.02,486.58 351.78,483.03 350.10,479.48 346.58,477.80 341.30,475.93 335.22,470.32" fill="#7f7f7f"/><polygon points="361.70,541.19 362.74,539.69 364.90,539.51 366.26,540.63 365.46,542.50 363.06,542.50" fill="#7f7f7f"/><circle cx="363.7" cy="597.1" r="2.75" fill="#ffe9e1"/><circle cx="347.7" cy="593.1" r="2.75" fill="#ffbba5"/><circle cx="387.7" cy="589.1" r="2.75" fill="#ffdccf"/><circle cx="351.7" cy="591.1" r="2.75" fill="#ffebe4"/><circle cx="399.7" cy="595.1" r="2.75" fill="#f4ebff"/><circle cx="375.7" cy="595.1" r="2.75" fill="#f6efff"/><circle cx="359.7" cy="559.1" r="2.75" fill="#fff2ee"/><circle cx="395.7" cy="605.1" r="2.75" fill="#fffbf9"/><circle cx="345.7" cy="597.1" r="2.75" fill="#fff6f3"/><circle cx="345.7" cy="581.1" r="2.75" fill="#be9aff"/><circle cx="375.7" cy="599.1" r="2.75" fill="#ffe7de"/><circle cx="399.7" cy="591.1" r="2.75" fill="#ede0ff"/><circle cx="405.7" cy="599.1" r="2.75" fill="#ffe7de"/><circle cx="369.7" cy="549.1" r="2.75" fill="#dfcaff"/><circle cx="343.7" cy="605.1" r="2.75" fill="#fff8f5"/><circle cx="382.2" cy="450.1" r="2.75" fill="#f7f1ff"/><circle cx="382.2" cy="468.6" r="2.75" fill="#e9d9ff"/><circle cx="354.9" cy="478.3" r="2.75" fill="#ffd1c1"/><circle cx="355.7" cy="486.6" r="2.75" fill="#e9d9ff"/><circle cx="365.4" cy="492.0" r="2.75" fill="#faf6ff"/><circle cx="378.6" cy="496.4" r="2.75" fill="#e9d9ff"/><circle cx="357.8" cy="508.5" r="2.75" fill="#f2e7ff"/><circle cx="385.6" cy="509.5" r="2.75" fill="#fff7f5"/><circle cx="395.4" cy="507.5" r="2.75" fill="#e3d0ff"/><circle cx="371.7" cy="513.6" r="2.75" fill="#ffe8e0"/><circle cx="358.3" cy="521.6" r="2.75" fill="#cbabff"/><circle cx="364.7" cy="521.2" r="2.75" fill="#fff7f5"/><circle cx="359.6" cy="525.6" r="2.75" fill="#ffd1c1"/><circle cx="363.2" cy="527.0" r="2.75" fill="#faf6ff"/><circle cx="366.6" cy="529.4" r="2.75" fill="#e9d9ff"/><circle cx="371.0" cy="530.4" r="2.75" fill="#a074ff"/><circle cx="381.5" cy="534.3" r="2.75" fill="#ffece5"/><circle cx="399.5" cy="523.5" r="2.75" fill="#ffd1c1"/><circle cx="368.8" cy="536.2" r="2.75" fill="#e9d9ff"/><circle cx="371.7" cy="538.4" r="2.75" fill="#ffffff"/><circle cx="363.7" cy="541.4" r="2.75" fill="#d4b9ff"/><circle cx="375.4" cy="541.1" r="2.75" fill="#e9d9ff"/><circle cx="368.8" cy="542.1" r="2.75" fill="#e3d0ff"/><circle cx="387.8" cy="543.1" r="2.75" fill="#fff7f5"/><circle cx="397.3" cy="543.1" r="2.75" fill="#f2e7ff"/><circle cx="376.8" cy="544.3" r="2.75" fill="#ffb299"/><circle cx="363.7" cy="541.2" r="2.75" fill="#ddc7ff"/><circle cx="369.5" cy="541.8" r="2.75" fill="#e9d9ff"/><circle cx="374.2" cy="541.2" r="2.75" fill="#e3d0ff"/><circle cx="377.7" cy="546.4" r="2.75" fill="#ffbaa3"/><circle cx="366.0" cy="547.0" r="2.75" fill="#d4b9ff"/><circle cx="371.3" cy="545.8" r="2.75" fill="#f2e7ff"/><circle cx="387.6" cy="544.1" r="2.75" fill="#ffffff"/><circle cx="397.6" cy="544.1" r="2.75" fill="#f2e7ff"/><circle cx="394.1" cy="547.6" r="2.75" fill="#faf6ff"/><circle cx="361.4" cy="549.3" r="2.75" fill="#ffece5"/><circle cx="366.6" cy="552.3" r="2.75" fill="#d4b9ff"/><circle cx="357.3" cy="555.2" r="2.75" fill="#ddc7ff"/><circle cx="362.5" cy="555.2" r="2.75" fill="#fff7f5"/><circle cx="372.4" cy="554.6" r="2.75" fill="#ffd9cb"/><circle cx="388.2" cy="552.3" r="2.75" fill="#e9d9ff"/><circle cx="391.7" cy="551.1" r="2.75" fill="#ffd1c1"/><circle cx="387.6" cy="556.4" r="2.75" fill="#ffc6b2"/><circle cx="392.9" cy="558.1" r="2.75" fill="#ffffff"/><circle cx="402.2" cy="558.1" r="2.75" fill="#ffaa90"/><circle cx="368.9" cy="557.5" r="2.75" fill="#f2e7ff"/><circle cx="364.3" cy="559.3" r="2.75" fill="#ffece5"/><circle cx="350.3" cy="561.0" r="2.75" fill="#e3d0ff"/><circle cx="355.5" cy="560.4" r="2.75" fill="#ffffff"/><circle cx="360.2" cy="563.4" r="2.75" fill="#ffece5"/><circle cx="366.0" cy="561.6" r="2.75" fill="#fff7f5"/><circle cx="372.4" cy="561.0" r="2.75" fill="#ffd9cb"/><circle cx="352.0" cy="565.1" r="2.75" fill="#ddc7ff"/><circle cx="356.7" cy="564.5" r="2.75" fill="#f2e7ff"/><circle cx="362.5" cy="565.1" r="2.75" fill="#e9d9ff"/><circle cx="369.5" cy="565.1" r="2.75" fill="#ffe0d6"/><circle cx="373.6" cy="566.3" r="2.75" fill="#ffece5"/><circle cx="378.9" cy="566.9" r="2.75" fill="#e3d0ff"/><circle cx="383.0" cy="568.0" r="2.75" fill="#e9d9ff"/><circle cx="349.7" cy="568.0" r="2.75" fill="#c4a2ff"/><circle cx="355.5" cy="569.8" r="2.75" fill="#d4b9ff"/><circle cx="360.2" cy="570.4" r="2.75" fill="#e3d0ff"/><circle cx="365.4" cy="568.0" r="2.75" fill="#ffece5"/><circle cx="399.0" cy="569.0" r="2.75" fill="#ffece5"/><circle cx="346.2" cy="566.9" r="2.75" fill="#ddc7ff"/><circle cx="370.7" cy="572.1" r="2.75" fill="#ffd1c1"/><circle cx="380.0" cy="574.8" r="2.75" fill="#ffd9cb"/><circle cx="384.7" cy="576.2" r="2.75" fill="#ffd9cb"/><circle cx="390.5" cy="575.0" r="2.75" fill="#ffc6b2"/><circle cx="400.5" cy="574.8" r="2.75" fill="#e9d9ff"/><circle cx="406.3" cy="574.8" r="2.75" fill="#ffd1c1"/><circle cx="352.0" cy="573.9" r="2.75" fill="#c4a2ff"/><circle cx="356.7" cy="575.0" r="2.75" fill="#ddc7ff"/><circle cx="361.9" cy="575.0" r="2.75" fill="#e3d0ff"/><circle cx="366.6" cy="577.1" r="2.75" fill="#e3d0ff"/><circle cx="373.0" cy="577.6" r="2.75" fill="#e9d9ff"/><circle cx="347.3" cy="577.4" r="2.75" fill="#d4b9ff"/><circle cx="346.2" cy="571.5" r="2.75" fill="#e3d0ff"/><circle cx="352.0" cy="578.5" r="2.75" fill="#d4b9ff"/><circle cx="349.7" cy="582.6" r="2.75" fill="#c4a2ff"/><circle cx="356.1" cy="581.5" r="2.75" fill="#ffffff"/><circle cx="360.2" cy="580.9" r="2.75" fill="#f2e7ff"/><circle cx="364.9" cy="581.5" r="2.75" fill="#fff7f5"/><circle cx="381.8" cy="580.9" r="2.75" fill="#d4b9ff"/><circle cx="387.6" cy="580.9" r="2.75" fill="#ffc6b2"/><circle cx="394.1" cy="579.7" r="2.75" fill="#ffffff"/><circle cx="394.1" cy="582.6" r="2.75" fill="#f2e7ff"/><circle cx="404.6" cy="583.4" r="2.75" fill="#ffc6b2"/><circle cx="408.1" cy="582.6" r="2.75" fill="#f2e7ff"/><circle cx="413.7" cy="585.3" r="2.75" fill="#ffd1c1"/><circle cx="346.2" cy="585.5" r="2.75" fill="#d4b9ff"/><circle cx="352.0" cy="586.7" r="2.75" fill="#e3d0ff"/><circle cx="359.0" cy="587.3" r="2.75" fill="#f2e7ff"/><circle cx="368.4" cy="584.4" r="2.75" fill="#e9d9ff"/><circle cx="374.8" cy="585.0" r="2.75" fill="#f2e7ff"/><circle cx="380.0" cy="586.1" r="2.75" fill="#ffe0d6"/><circle cx="383.5" cy="586.1" r="2.75" fill="#ffd9cb"/><circle cx="408.1" cy="587.9" r="2.75" fill="#f2e7ff"/><circle cx="395.2" cy="590.0" r="2.75" fill="#e3d0ff"/><circle cx="363.7" cy="590.2" r="2.75" fill="#ffd1c1"/><circle cx="369.5" cy="588.5" r="2.75" fill="#ffd9cb"/><circle cx="373.6" cy="590.2" r="2.75" fill="#f2e7ff"/><circle cx="378.3" cy="590.8" r="2.75" fill="#e9d9ff"/><circle cx="383.5" cy="591.4" r="2.75" fill="#ffe0d6"/><circle cx="403.4" cy="592.0" r="2.75" fill="#e9d9ff"/><circle cx="408.1" cy="593.7" r="2.75" fill="#ffe8e0"/><circle cx="356.7" cy="593.1" r="2.75" fill="#ffd1c1"/><circle cx="366.6" cy="593.1" r="2.75" fill="#ffece5"/><circle cx="371.9" cy="593.1" r="2.75" fill="#ddc7ff"/><circle cx="388.8" cy="594.3" r="2.75" fill="#ffd9cb"/><circle cx="392.3" cy="596.6" r="2.75" fill="#ffbaa3"/><circle cx="350.3" cy="597.2" r="2.75" fill="#ffbaa3"/><circle cx="357.8" cy="597.8" r="2.75" fill="#ffffff"/><circle cx="370.7" cy="597.8" r="2.75" fill="#c4a2ff"/><circle cx="379.5" cy="597.2" r="2.75" fill="#ffffff"/><circle cx="384.1" cy="597.2" r="2.75" fill="#8a5dff"/><circle cx="408.1" cy="596.1" r="2.75" fill="#ffece5"/><circle cx="411.6" cy="599.0" r="2.75" fill="#ff9e81"/><circle cx="414.5" cy="597.2" r="2.75" fill="#e9d9ff"/><circle cx="339.2" cy="576.8" r="2.75" fill="#ffe8e0"/><circle cx="342.7" cy="578.5" r="2.75" fill="#a074ff"/><circle cx="335.7" cy="582.9" r="2.75" fill="#c4a2ff"/><circle cx="339.6" cy="583.8" r="2.75" fill="#fff7f5"/><circle cx="343.5" cy="575.0" r="2.75" fill="#e3d0ff"/><circle cx="344.4" cy="586.4" r="2.75" fill="#b38bff"/><circle cx="337.4" cy="588.2" r="2.75" fill="#ffece5"/><circle cx="340.0" cy="589.0" r="2.75" fill="#e3d0ff"/><circle cx="343.5" cy="590.4" r="2.75" fill="#ffb299"/><circle cx="336.5" cy="592.6" r="2.75" fill="#e3d0ff"/><circle cx="341.8" cy="596.1" r="2.75" fill="#f2e7ff"/><circle cx="338.3" cy="598.7" r="2.75" fill="#d4b9ff"/><circle cx="344.4" cy="568.9" r="2.75" fill="#e9d9ff"/><circle cx="347.0" cy="565.4" r="2.75" fill="#e3d0ff"/><circle cx="348.8" cy="561.9" r="2.75" fill="#e9d9ff"/><circle cx="337.8" cy="600.3" r="2.75" fill="#f2e7ff"/><circle cx="340.9" cy="599.8" r="2.75" fill="#b38bff"/><circle cx="345.3" cy="601.1" r="2.75" fill="#faf6ff"/><circle cx="350.1" cy="598.1" r="2.75" fill="#ffc6b2"/><circle cx="354.9" cy="598.9" r="2.75" fill="#fff7f5"/><circle cx="358.4" cy="598.1" r="2.75" fill="#ffffff"/><circle cx="338.3" cy="603.8" r="2.75" fill="#f2e7ff"/><circle cx="341.8" cy="608.1" r="2.75" fill="#ffc6b2"/><circle cx="347.0" cy="606.4" r="2.75" fill="#e9d9ff"/><circle cx="352.3" cy="603.8" r="2.75" fill="#f2e7ff"/><circle cx="355.8" cy="606.4" r="2.75" fill="#ffffff"/><circle cx="361.1" cy="605.5" r="2.75" fill="#e9d9ff"/><circle cx="338.3" cy="613.8" r="2.75" fill="#ffe0d6"/><circle cx="341.8" cy="614.7" r="2.75" fill="#d4b9ff"/><circle cx="345.3" cy="618.6" r="2.75" fill="#bd99ff"/><circle cx="349.7" cy="610.8" r="2.75" fill="#ffe0d6"/><circle cx="354.0" cy="609.9" r="2.75" fill="#ffece5"/><circle cx="358.4" cy="612.5" r="2.75" fill="#ffffff"/><circle cx="362.8" cy="616.0" r="2.75" fill="#a074ff"/><circle cx="335.7" cy="617.8" r="2.75" fill="#ffffff"/><circle cx="340.0" cy="622.2" r="2.75" fill="#e3d0ff"/><circle cx="344.4" cy="624.8" r="2.75" fill="#ffc6b2"/><circle cx="348.8" cy="623.0" r="2.75" fill="#e9d9ff"/><circle cx="354.0" cy="618.6" r="2.75" fill="#ffd1c1"/><circle cx="360.2" cy="619.5" r="2.75" fill="#ffbaa3"/><circle cx="337.4" cy="625.7" r="2.75" fill="#ffe0d6"/><circle cx="341.8" cy="627.4" r="2.75" fill="#ffece5"/><circle cx="352.3" cy="627.4" r="2.75" fill="#ffd9cb"/><circle cx="357.6" cy="626.5" r="2.75" fill="#ffece5"/><circle cx="361.9" cy="623.9" r="2.75" fill="#ffffff"/><circle cx="338.3" cy="631.8" r="2.75" fill="#ffd9cb"/><circle cx="344.4" cy="630.0" r="2.75" fill="#d4b9ff"/><circle cx="347.9" cy="633.5" r="2.75" fill="#e9d9ff"/><circle cx="352.3" cy="632.7" r="2.75" fill="#ffd1c1"/><circle cx="357.6" cy="630.9" r="2.75" fill="#ffd9cb"/><circle cx="361.1" cy="633.5" r="2.75" fill="#ffffff"/><circle cx="346.2" cy="637.0" r="2.75" fill="#ffffff"/><circle cx="323.4" cy="630.9" r="2.75" fill="#e3d0ff"/><circle cx="326.9" cy="630.0" r="2.75" fill="#a87dff"/><circle cx="330.4" cy="630.9" r="2.75" fill="#a87dff"/><circle cx="333.0" cy="629.6" r="2.75" fill="#f2e7ff"/><circle cx="327.8" cy="633.5" r="2.75" fill="#d4b9ff"/><circle cx="333.5" cy="636.6" r="2.75" fill="#c4a2ff"/><circle cx="310.7" cy="647.6" r="2.75" fill="#ffd1c1"/><circle cx="370.3" cy="598.1" r="2.75" fill="#d4b9ff"/><circle cx="367.6" cy="600.3" r="2.75" fill="#ffd1c1"/><circle cx="372.0" cy="601.6" r="2.75" fill="#ffbaa3"/><circle cx="379.5" cy="598.1" r="2.75" fill="#fff7f5"/><circle cx="384.3" cy="597.6" r="2.75" fill="#a87dff"/><circle cx="388.6" cy="599.8" r="2.75" fill="#ffece5"/><circle cx="391.3" cy="596.3" r="2.75" fill="#ffd1c1"/><circle cx="393.0" cy="596.8" r="2.75" fill="#ffbaa3"/><circle cx="393.0" cy="602.0" r="2.75" fill="#ffe0d6"/><circle cx="397.0" cy="600.3" r="2.75" fill="#e9d9ff"/><circle cx="400.5" cy="599.4" r="2.75" fill="#fff7f5"/><circle cx="405.3" cy="602.9" r="2.75" fill="#ffd1c1"/><circle cx="407.9" cy="595.9" r="2.75" fill="#fff7f5"/><circle cx="411.0" cy="599.8" r="2.75" fill="#ffaa90"/><circle cx="414.9" cy="597.2" r="2.75" fill="#e9d9ff"/><circle cx="417.6" cy="604.5" r="2.75" fill="#e9d9ff"/><circle cx="384.7" cy="603.8" r="2.75" fill="#ffd1c1"/><circle cx="374.6" cy="605.5" r="2.75" fill="#e3d0ff"/><circle cx="381.2" cy="608.6" r="2.75" fill="#fff7f5"/><circle cx="386.0" cy="610.6" r="2.75" fill="#fff0ea"/><circle cx="391.3" cy="606.8" r="2.75" fill="#fff7f5"/><circle cx="401.8" cy="606.4" r="2.75" fill="#fff7f5"/><circle cx="406.2" cy="607.3" r="2.75" fill="#ffd9cb"/><circle cx="405.3" cy="610.8" r="2.75" fill="#ffd1c1"/><circle cx="367.6" cy="610.8" r="2.75" fill="#ffece5"/><circle cx="375.5" cy="612.1" r="2.75" fill="#ddc7ff"/><circle cx="390.4" cy="613.4" r="2.75" fill="#b38bff"/><circle cx="396.5" cy="611.2" r="2.75" fill="#f2e7ff"/><circle cx="400.9" cy="615.1" r="2.75" fill="#f2e7ff"/><circle cx="366.8" cy="614.3" r="2.75" fill="#ffffff"/><circle cx="370.3" cy="617.8" r="2.75" fill="#ddc7ff"/><circle cx="373.8" cy="616.9" r="2.75" fill="#e9d9ff"/><circle cx="380.8" cy="617.3" r="2.75" fill="#fff7f5"/><circle cx="386.9" cy="618.2" r="2.75" fill="#ffd1c1"/><circle cx="390.4" cy="618.6" r="2.75" fill="#ffc6b2"/><circle cx="393.0" cy="616.5" r="2.75" fill="#ff9e81"/><circle cx="399.2" cy="618.6" r="2.75" fill="#c4a2ff"/><circle cx="404.4" cy="618.2" r="2.75" fill="#b38bff"/><circle cx="407.9" cy="619.5" r="2.75" fill="#d4b9ff"/><circle cx="372.0" cy="622.2" r="2.75" fill="#b38bff"/><circle cx="368.5" cy="623.0" r="2.75" fill="#c4a2ff"/><circle cx="378.1" cy="625.2" r="2.75" fill="#e9d9ff"/><circle cx="382.5" cy="624.8" r="2.75" fill="#e3d0ff"/><circle cx="387.8" cy="623.9" r="2.75" fill="#ffffff"/><circle cx="392.2" cy="623.0" r="2.75" fill="#ffece5"/><circle cx="396.5" cy="622.2" r="2.75" fill="#ffc6b2"/><circle cx="401.8" cy="623.0" r="2.75" fill="#ffc6b2"/><circle cx="405.3" cy="624.8" r="2.75" fill="#f2e7ff"/><circle cx="408.8" cy="623.9" r="2.75" fill="#f2e7ff"/><circle cx="395.7" cy="626.5" r="2.75" fill="#ffbaa3"/><circle cx="398.3" cy="628.3" r="2.75" fill="#faf6ff"/><circle cx="406.6" cy="629.6" r="2.75" fill="#ffc6b2"/><circle cx="408.8" cy="626.5" r="2.75" fill="#ffc6b2"/><circle cx="366.8" cy="627.4" r="2.75" fill="#ffc6b2"/><circle cx="372.9" cy="628.3" r="2.75" fill="#f2e7ff"/><circle cx="366.8" cy="631.8" r="2.75" fill="#ffece5"/><circle cx="382.5" cy="634.0" r="2.75" fill="#ffece5"/><circle cx="408.8" cy="636.2" r="2.75" fill="#fff4ef"/><circle cx="406.2" cy="641.0" r="2.75" fill="#fff4ef"/></g><rect x="305.7" y="436.9" width="120" height="220.39999999999998" fill="none" stroke="#333" stroke-width="1.3"/><rect x="305.7" y="413.5" width="120" height="23.399999999999977" fill="#d9d9d9" stroke="#333" stroke-width="1.3"/><line x1="305.7" y1="436.9" x2="425.7" y2="436.9" stroke="#333" stroke-width="1.8"/><text x="365.70" y="429.60" font-size="12.3" fill="#1a1a1a" text-anchor="middle" textLength="61.91" lengthAdjust="spacingAndGlyphs">1780−1830</text><line x1="326.10" y1="657.3" x2="326.10" y2="661.5999999999999" stroke="#333" stroke-width="1.3"/><text x="326.10" y="673.60" font-size="12.3" fill="#4d4d4d" text-anchor="middle" textLength="13.68" lengthAdjust="spacingAndGlyphs">20</text><line x1="358.10" y1="657.3" x2="358.10" y2="661.5999999999999" stroke="#333" stroke-width="1.3"/><text x="358.10" y="673.60" font-size="12.3" fill="#4d4d4d" text-anchor="middle" textLength="13.68" lengthAdjust="spacingAndGlyphs">24</text><line x1="390.10" y1="657.3" x2="390.10" y2="661.5999999999999" stroke="#333" stroke-width="1.3"/><text x="390.10" y="673.60" font-size="12.3" fill="#4d4d4d" text-anchor="middle" textLength="13.68" lengthAdjust="spacingAndGlyphs">28</text><line x1="422.10" y1="657.3" x2="422.10" y2="661.5999999999999" stroke="#333" stroke-width="1.3"/><text x="422.10" y="673.60" font-size="12.3" fill="#4d4d4d" text-anchor="middle" textLength="13.68" lengthAdjust="spacingAndGlyphs">32</text><defs><clipPath id="cb3"><rect x="433.8" y="436.9" width="120" height="220.39999999999998"/></clipPath></defs><g clip-path="url(#cb3)"><line x1="438.20" y1="436.9" x2="438.20" y2="657.3" stroke="#ebebeb" stroke-width="0.75"/><line x1="470.20" y1="436.9" x2="470.20" y2="657.3" stroke="#ebebeb" stroke-width="0.75"/><line x1="502.20" y1="436.9" x2="502.20" y2="657.3" stroke="#ebebeb" stroke-width="0.75"/><line x1="534.20" y1="436.9" x2="534.20" y2="657.3" stroke="#ebebeb" stroke-width="0.75"/><line x1="433.8" y1="611.88" x2="553.8" y2="611.88" stroke="#ebebeb" stroke-width="0.75"/><line x1="433.8" y1="565.12" x2="553.8" y2="565.12" stroke="#ebebeb" stroke-width="0.75"/><line x1="433.8" y1="518.38" x2="553.8" y2="518.38" stroke="#ebebeb" stroke-width="0.75"/><line x1="433.8" y1="471.62" x2="553.8" y2="471.62" stroke="#ebebeb" stroke-width="0.75"/><line x1="454.20" y1="436.9" x2="454.20" y2="657.3" stroke="#ebebeb" stroke-width="1.45"/><line x1="486.20" y1="436.9" x2="486.20" y2="657.3" stroke="#ebebeb" stroke-width="1.45"/><line x1="518.20" y1="436.9" x2="518.20" y2="657.3" stroke="#ebebeb" stroke-width="1.45"/><line x1="550.20" y1="436.9" x2="550.20" y2="657.3" stroke="#ebebeb" stroke-width="1.45"/><line x1="433.8" y1="635.25" x2="553.8" y2="635.25" stroke="#ebebeb" stroke-width="1.45"/><line x1="433.8" y1="588.50" x2="553.8" y2="588.50" stroke="#ebebeb" stroke-width="1.45"/><line x1="433.8" y1="541.75" x2="553.8" y2="541.75" stroke="#ebebeb" stroke-width="1.45"/><line x1="433.8" y1="495.00" x2="553.8" y2="495.00" stroke="#ebebeb" stroke-width="1.45"/><line x1="433.8" y1="448.25" x2="553.8" y2="448.25" stroke="#ebebeb" stroke-width="1.45"/><polygon points="458.92,465.83 460.20,465.08 461.48,465.27 462.20,463.21 463.32,461.71 465.00,461.15 467.72,461.53 469.40,463.77 472.04,467.32 474.68,471.25 478.20,472.19 480.84,472.93 484.76,470.69 488.68,471.62 493.08,473.87 495.72,469.94 499.24,468.07 500.52,460.22 501.80,454.98 504.68,450.87 508.20,449.18 511.80,449.18 514.12,446.94 517.08,446.57 520.12,449.18 523.72,452.18 527.24,453.30 529.00,456.85 527.88,460.41 526.04,463.40 524.28,465.08 526.60,466.95 524.84,468.07 523.08,471.62 522.44,475.18 523.08,478.73 524.84,481.72 528.36,483.03 530.84,485.28 533.16,488.83 535.00,491.82 533.16,496.68 530.20,501.36 528.36,504.91 527.00,506.22 530.60,513.33 534.20,522.86 535.88,528.10 532.92,533.52 533.56,538.20 532.36,542.87 535.88,547.73 535.40,552.41 538.92,557.08 538.36,558.58 536.12,564.38 540.60,570.36 545.00,576.35 546.76,580.83 545.00,586.63 540.60,592.61 535.80,600.65 531.00,607.20 527.80,612.81 523.80,617.48 519.80,624.03 516.60,625.90 511.80,626.27 507.00,628.14 502.20,629.64 498.20,630.58 494.20,631.51 490.20,634.32 486.20,635.25 482.20,636.18 477.80,638.62 475.00,636.18 472.60,633.38 470.20,631.51 467.00,628.70 465.00,624.03 465.40,618.42 466.20,612.81 466.20,605.33 464.60,599.72 464.20,595.98 462.20,588.50 463.00,582.89 462.68,574.10 466.84,573.54 471.80,571.67 472.20,568.87 473.40,565.12 477.40,562.69 481.40,558.58 485.40,552.41 487.56,551.10 489.40,546.99 491.08,544.37 494.68,542.50 495.56,541.75 496.04,537.82 496.04,534.46 496.04,533.15 494.68,531.47 491.56,530.16 490.68,528.29 487.16,526.98 486.20,525.67 484.84,521.55 483.16,515.76 484.28,506.22 483.16,500.24 482.76,498.93 481.48,495.37 482.12,490.70 482.12,486.58 479.88,483.03 478.20,479.48 474.68,477.80 469.40,475.93 463.32,470.32" fill="#7f7f7f"/><polygon points="489.80,541.19 490.84,539.69 493.00,539.51 494.36,540.63 493.56,542.50 491.16,542.50" fill="#7f7f7f"/><circle cx="515.7" cy="593.1" r="2.75" fill="#ffeee7"/><circle cx="527.7" cy="595.1" r="2.75" fill="#ffd1c2"/><circle cx="503.7" cy="595.1" r="2.75" fill="#ffded2"/><circle cx="523.7" cy="607.1" r="2.75" fill="#ecdeff"/><circle cx="473.7" cy="597.1" r="2.75" fill="#fffefd"/><circle cx="489.7" cy="611.1" r="2.75" fill="#ffe0d5"/><circle cx="503.7" cy="599.1" r="2.75" fill="#ffd8ca"/><circle cx="527.7" cy="591.1" r="2.75" fill="#ffe4db"/><circle cx="491.7" cy="599.1" r="2.75" fill="#eadbff"/><circle cx="523.7" cy="595.1" r="2.75" fill="#ffb39a"/><circle cx="510.2" cy="450.1" r="2.75" fill="#ffece5"/><circle cx="510.2" cy="468.6" r="2.75" fill="#ffaa90"/><circle cx="483.2" cy="478.3" r="2.75" fill="#ffece5"/><circle cx="483.7" cy="486.6" r="2.75" fill="#ffe0d6"/><circle cx="493.4" cy="492.0" r="2.75" fill="#fff7f5"/><circle cx="485.8" cy="508.5" r="2.75" fill="#f2e7ff"/><circle cx="513.6" cy="509.5" r="2.75" fill="#e3d0ff"/><circle cx="499.7" cy="513.6" r="2.75" fill="#faf6ff"/><circle cx="483.4" cy="516.8" r="2.75" fill="#ddc7ff"/><circle cx="492.7" cy="521.2" r="2.75" fill="#e9d9ff"/><circle cx="486.6" cy="521.6" r="2.75" fill="#bd99ff"/><circle cx="487.6" cy="525.6" r="2.75" fill="#ffb299"/><circle cx="491.2" cy="527.0" r="2.75" fill="#ffffff"/><circle cx="495.0" cy="529.4" r="2.75" fill="#f2e7ff"/><circle cx="499.0" cy="530.4" r="2.75" fill="#faf6ff"/><circle cx="509.5" cy="534.3" r="2.75" fill="#f2e7ff"/><circle cx="527.5" cy="523.5" r="2.75" fill="#ffd9cb"/><circle cx="497.5" cy="535.5" r="2.75" fill="#ddc7ff"/><circle cx="499.7" cy="538.4" r="2.75" fill="#e9d9ff"/><circle cx="491.7" cy="541.4" r="2.75" fill="#ffbaa3"/><circle cx="503.4" cy="541.1" r="2.75" fill="#fff7f5"/><circle cx="497.5" cy="542.1" r="2.75" fill="#e9d9ff"/><circle cx="515.8" cy="543.1" r="2.75" fill="#e9d9ff"/><circle cx="525.3" cy="543.1" r="2.75" fill="#ffc6b2"/><circle cx="491.7" cy="541.2" r="2.75" fill="#ffd1c1"/><circle cx="497.5" cy="541.8" r="2.75" fill="#f2e7ff"/><circle cx="502.8" cy="541.2" r="2.75" fill="#ffece5"/><circle cx="505.7" cy="546.4" r="2.75" fill="#ffece5"/><circle cx="489.4" cy="548.2" r="2.75" fill="#ffd9cb"/><circle cx="494.6" cy="547.6" r="2.75" fill="#ffd9cb"/><circle cx="499.3" cy="546.4" r="2.75" fill="#f2e7ff"/><circle cx="515.6" cy="544.1" r="2.75" fill="#e9d9ff"/><circle cx="525.6" cy="544.1" r="2.75" fill="#ffd1c1"/><circle cx="522.1" cy="547.6" r="2.75" fill="#ffaa90"/><circle cx="519.7" cy="551.1" r="2.75" fill="#ffaa90"/><circle cx="516.8" cy="552.8" r="2.75" fill="#ffece5"/><circle cx="508.6" cy="552.3" r="2.75" fill="#ffd1c1"/><circle cx="488.2" cy="551.7" r="2.75" fill="#ffd9cb"/><circle cx="495.2" cy="552.3" r="2.75" fill="#ffd1c1"/><circle cx="485.8" cy="555.8" r="2.75" fill="#f2e7ff"/><circle cx="491.7" cy="555.8" r="2.75" fill="#ffece5"/><circle cx="501.0" cy="554.6" r="2.75" fill="#e3d0ff"/><circle cx="490.5" cy="559.3" r="2.75" fill="#ff9e81"/><circle cx="496.9" cy="557.5" r="2.75" fill="#ffe0d6"/><circle cx="500.4" cy="561.0" r="2.75" fill="#ffc6b2"/><circle cx="494.6" cy="561.6" r="2.75" fill="#ffe0d6"/><circle cx="515.6" cy="556.4" r="2.75" fill="#ffc6b2"/><circle cx="521.5" cy="558.1" r="2.75" fill="#ffe0d6"/><circle cx="530.2" cy="558.1" r="2.75" fill="#ffb299"/><circle cx="480.0" cy="561.0" r="2.75" fill="#e3d0ff"/><circle cx="484.7" cy="563.4" r="2.75" fill="#e9d9ff"/><circle cx="488.2" cy="565.1" r="2.75" fill="#ffffff"/><circle cx="478.3" cy="568.0" r="2.75" fill="#c4a2ff"/><circle cx="474.2" cy="568.0" r="2.75" fill="#ffece5"/><circle cx="494.0" cy="568.0" r="2.75" fill="#ffe0d6"/><circle cx="483.5" cy="570.4" r="2.75" fill="#f2e7ff"/><circle cx="489.4" cy="570.4" r="2.75" fill="#ffffff"/><circle cx="507.5" cy="566.9" r="2.75" fill="#ffaa90"/><circle cx="511.5" cy="567.4" r="2.75" fill="#ffaa90"/><circle cx="514.5" cy="566.9" r="2.75" fill="#ffaa90"/><circle cx="527.3" cy="569.0" r="2.75" fill="#fff7f5"/><circle cx="498.7" cy="572.1" r="2.75" fill="#ffbaa3"/><circle cx="513.3" cy="572.1" r="2.75" fill="#ffaa90"/><circle cx="476.5" cy="573.9" r="2.75" fill="#ddc7ff"/><circle cx="482.3" cy="575.0" r="2.75" fill="#a074ff"/><circle cx="489.9" cy="575.0" r="2.75" fill="#fff7f5"/><circle cx="495.2" cy="577.1" r="2.75" fill="#d4b9ff"/><circle cx="501.0" cy="577.6" r="2.75" fill="#fff7f5"/><circle cx="508.0" cy="574.8" r="2.75" fill="#ffc6b2"/><circle cx="512.7" cy="576.2" r="2.75" fill="#e9d9ff"/><circle cx="518.8" cy="575.0" r="2.75" fill="#ffaa90"/><circle cx="528.5" cy="574.8" r="2.75" fill="#ffd1c1"/><circle cx="534.3" cy="574.8" r="2.75" fill="#ffd9cb"/><circle cx="475.3" cy="578.5" r="2.75" fill="#d4b9ff"/><circle cx="484.7" cy="578.5" r="2.75" fill="#fff7f5"/><circle cx="480.0" cy="582.0" r="2.75" fill="#e3d0ff"/><circle cx="485.8" cy="581.5" r="2.75" fill="#ffc6b2"/><circle cx="492.3" cy="581.5" r="2.75" fill="#ffece5"/><circle cx="496.4" cy="584.4" r="2.75" fill="#fff7f5"/><circle cx="502.8" cy="585.0" r="2.75" fill="#ffffff"/><circle cx="509.8" cy="580.9" r="2.75" fill="#ffc6b2"/><circle cx="515.6" cy="580.9" r="2.75" fill="#ffd9cb"/><circle cx="522.1" cy="579.7" r="2.75" fill="#fff7f5"/><circle cx="522.1" cy="582.6" r="2.75" fill="#ffb299"/><circle cx="532.6" cy="583.4" r="2.75" fill="#e9d9ff"/><circle cx="536.1" cy="582.6" r="2.75" fill="#e3d0ff"/><circle cx="541.7" cy="585.3" r="2.75" fill="#ffe0d6"/><circle cx="476.5" cy="586.7" r="2.75" fill="#f2e7ff"/><circle cx="483.5" cy="585.0" r="2.75" fill="#b38bff"/><circle cx="487.0" cy="587.3" r="2.75" fill="#ffb299"/><circle cx="492.3" cy="590.2" r="2.75" fill="#ffaa90"/><circle cx="497.5" cy="588.5" r="2.75" fill="#ffb299"/><circle cx="501.6" cy="590.2" r="2.75" fill="#ffd1c1"/><circle cx="506.3" cy="590.8" r="2.75" fill="#ffd9cb"/><circle cx="511.5" cy="586.1" r="2.75" fill="#f2e7ff"/><circle cx="516.8" cy="588.5" r="2.75" fill="#ffd9cb"/><circle cx="523.2" cy="590.0" r="2.75" fill="#ffe0d6"/><circle cx="531.4" cy="592.0" r="2.75" fill="#fff7f5"/><circle cx="536.1" cy="589.1" r="2.75" fill="#e3d0ff"/><circle cx="484.7" cy="593.1" r="2.75" fill="#fff7f5"/><circle cx="494.0" cy="593.1" r="2.75" fill="#ffaa90"/><circle cx="499.9" cy="593.1" r="2.75" fill="#ffd9cb"/><circle cx="511.5" cy="591.4" r="2.75" fill="#ffd9cb"/><circle cx="536.6" cy="593.7" r="2.75" fill="#ddc7ff"/><circle cx="542.5" cy="597.2" r="2.75" fill="#e3d0ff"/><circle cx="539.6" cy="599.0" r="2.75" fill="#ddc7ff"/><circle cx="478.8" cy="597.2" r="2.75" fill="#ffc6b2"/><circle cx="488.2" cy="597.8" r="2.75" fill="#ffffff"/><circle cx="498.7" cy="597.8" r="2.75" fill="#ffbaa3"/><circle cx="507.5" cy="597.2" r="2.75" fill="#ffe0d6"/><circle cx="512.1" cy="597.2" r="2.75" fill="#e9d9ff"/><circle cx="520.3" cy="596.6" r="2.75" fill="#ffaa90"/><circle cx="525.6" cy="599.0" r="2.75" fill="#ffc6b2"/><circle cx="532.6" cy="598.4" r="2.75" fill="#ddc7ff"/><circle cx="467.2" cy="576.8" r="2.75" fill="#ffaa90"/><circle cx="470.7" cy="579.0" r="2.75" fill="#a074ff"/><circle cx="472.4" cy="575.0" r="2.75" fill="#ddc7ff"/><circle cx="463.7" cy="582.9" r="2.75" fill="#d4b9ff"/><circle cx="467.6" cy="583.8" r="2.75" fill="#ffffff"/><circle cx="463.7" cy="578.5" r="2.75" fill="#ffece5"/><circle cx="472.4" cy="585.5" r="2.75" fill="#d4b9ff"/><circle cx="465.4" cy="588.2" r="2.75" fill="#ffece5"/><circle cx="469.8" cy="589.0" r="2.75" fill="#ffece5"/><circle cx="471.5" cy="590.8" r="2.75" fill="#ffffff"/><circle cx="465.4" cy="592.6" r="2.75" fill="#c4a2ff"/><circle cx="469.8" cy="596.1" r="2.75" fill="#ffffff"/><circle cx="466.3" cy="598.7" r="2.75" fill="#f2e7ff"/><circle cx="473.3" cy="568.9" r="2.75" fill="#ffece5"/><circle cx="475.9" cy="564.5" r="2.75" fill="#e9d9ff"/><circle cx="477.7" cy="561.9" r="2.75" fill="#e3d0ff"/><circle cx="466.3" cy="600.3" r="2.75" fill="#fff7f5"/><circle cx="468.9" cy="599.8" r="2.75" fill="#e9d9ff"/><circle cx="473.3" cy="601.1" r="2.75" fill="#ddc7ff"/><circle cx="478.5" cy="597.6" r="2.75" fill="#ffc6b2"/><circle cx="483.4" cy="598.9" r="2.75" fill="#ffece5"/><circle cx="469.8" cy="603.8" r="2.75" fill="#e9d9ff"/><circle cx="475.9" cy="605.5" r="2.75" fill="#faf6ff"/><circle cx="482.9" cy="605.5" r="2.75" fill="#ffb299"/><circle cx="489.1" cy="604.6" r="2.75" fill="#ffd9cb"/><circle cx="491.2" cy="603.8" r="2.75" fill="#c4a2ff"/><circle cx="469.8" cy="608.1" r="2.75" fill="#ffb299"/><circle cx="476.8" cy="609.9" r="2.75" fill="#fff7f5"/><circle cx="481.2" cy="609.9" r="2.75" fill="#ffece5"/><circle cx="486.4" cy="608.1" r="2.75" fill="#ffd9cb"/><circle cx="466.3" cy="613.8" r="2.75" fill="#ffece5"/><circle cx="472.4" cy="615.1" r="2.75" fill="#ffbaa3"/><circle cx="482.9" cy="614.7" r="2.75" fill="#bd99ff"/><circle cx="486.4" cy="613.4" r="2.75" fill="#ffece5"/><circle cx="490.8" cy="616.0" r="2.75" fill="#ffd9cb"/><circle cx="466.3" cy="619.5" r="2.75" fill="#ffffff"/><circle cx="471.1" cy="620.8" r="2.75" fill="#a074ff"/><circle cx="475.9" cy="621.3" r="2.75" fill="#ddc7ff"/><circle cx="482.0" cy="619.5" r="2.75" fill="#ffbaa3"/><circle cx="488.2" cy="620.4" r="2.75" fill="#ffbaa3"/><circle cx="463.7" cy="623.0" r="2.75" fill="#ffd1c1"/><circle cx="468.0" cy="626.5" r="2.75" fill="#fff7f5"/><circle cx="472.4" cy="626.5" r="2.75" fill="#ffd1c1"/><circle cx="478.5" cy="623.9" r="2.75" fill="#f2e7ff"/><circle cx="483.8" cy="623.9" r="2.75" fill="#ffbaa3"/><circle cx="489.1" cy="624.8" r="2.75" fill="#ffffff"/><circle cx="465.4" cy="631.8" r="2.75" fill="#ffbaa3"/><circle cx="469.8" cy="630.9" r="2.75" fill="#ffd1c1"/><circle cx="476.8" cy="630.0" r="2.75" fill="#ffd1c1"/><circle cx="482.0" cy="631.8" r="2.75" fill="#ffc6b2"/><circle cx="487.3" cy="632.7" r="2.75" fill="#ffbaa3"/><circle cx="474.2" cy="637.0" r="2.75" fill="#ffd1c1"/><circle cx="478.5" cy="635.3" r="2.75" fill="#ffd9cb"/><circle cx="451.4" cy="630.0" r="2.75" fill="#ffd1c1"/><circle cx="454.5" cy="630.5" r="2.75" fill="#e9d9ff"/><circle cx="457.5" cy="630.5" r="2.75" fill="#ffb299"/><circle cx="453.6" cy="633.5" r="2.75" fill="#ff9273"/><circle cx="458.4" cy="633.5" r="2.75" fill="#ffd9cb"/><circle cx="461.5" cy="636.6" r="2.75" fill="#ffbaa3"/><circle cx="438.7" cy="647.6" r="2.75" fill="#ff9273"/><circle cx="494.8" cy="631.8" r="2.75" fill="#ff3e22"/><circle cx="498.7" cy="623.0" r="2.75" fill="#a074ff"/><circle cx="501.8" cy="616.9" r="2.75" fill="#d4b9ff"/><circle cx="500.0" cy="627.4" r="2.75" fill="#ddc7ff"/><circle cx="495.6" cy="600.3" r="2.75" fill="#f2e7ff"/><circle cx="498.3" cy="598.5" r="2.75" fill="#ffc6b2"/><circle cx="500.0" cy="601.6" r="2.75" fill="#ffc6b2"/><circle cx="502.6" cy="605.5" r="2.75" fill="#ffc6b2"/><circle cx="496.5" cy="606.4" r="2.75" fill="#ffd9cb"/><circle cx="496.5" cy="610.8" r="2.75" fill="#ffd1c1"/><circle cx="503.5" cy="612.1" r="2.75" fill="#ffd1c1"/><circle cx="494.8" cy="614.3" r="2.75" fill="#ffece5"/><circle cx="495.6" cy="618.6" r="2.75" fill="#ffc6b2"/><circle cx="506.1" cy="625.7" r="2.75" fill="#e9d9ff"/><circle cx="510.5" cy="624.8" r="2.75" fill="#ff7352"/><circle cx="515.8" cy="623.9" r="2.75" fill="#f2e7ff"/><circle cx="507.5" cy="598.1" r="2.75" fill="#ffe0d6"/><circle cx="512.3" cy="597.6" r="2.75" fill="#f2e7ff"/><circle cx="516.6" cy="599.8" r="2.75" fill="#ffece5"/><circle cx="520.2" cy="596.8" r="2.75" fill="#ffaa90"/><circle cx="521.0" cy="602.0" r="2.75" fill="#ffe0d6"/><circle cx="525.0" cy="600.3" r="2.75" fill="#ffc6b2"/><circle cx="528.5" cy="599.4" r="2.75" fill="#ffbaa3"/><circle cx="532.4" cy="598.9" r="2.75" fill="#d4b9ff"/><circle cx="533.3" cy="602.9" r="2.75" fill="#ffd1c1"/><circle cx="535.9" cy="595.9" r="2.75" fill="#d4b9ff"/><circle cx="538.5" cy="599.4" r="2.75" fill="#ddc7ff"/><circle cx="542.9" cy="597.2" r="2.75" fill="#ddc7ff"/><circle cx="538.1" cy="603.8" r="2.75" fill="#8a5dff"/><circle cx="545.6" cy="604.5" r="2.75" fill="#c4a2ff"/><circle cx="548.6" cy="609.0" r="2.75" fill="#ffe0d6"/><circle cx="508.3" cy="604.2" r="2.75" fill="#ff9e81"/><circle cx="512.7" cy="603.8" r="2.75" fill="#ffd1c1"/><circle cx="516.6" cy="605.9" r="2.75" fill="#ffb299"/><circle cx="511.8" cy="606.8" r="2.75" fill="#fff7f5"/><circle cx="509.2" cy="608.6" r="2.75" fill="#ddc7ff"/><circle cx="514.0" cy="610.6" r="2.75" fill="#cbabff"/><circle cx="519.3" cy="606.8" r="2.75" fill="#ddc7ff"/><circle cx="518.4" cy="613.4" r="2.75" fill="#bd99ff"/><circle cx="521.9" cy="616.0" r="2.75" fill="#ffbaa3"/><circle cx="524.5" cy="611.2" r="2.75" fill="#e9d9ff"/><circle cx="528.9" cy="606.4" r="2.75" fill="#ffffff"/><circle cx="529.8" cy="608.1" r="2.75" fill="#f2e7ff"/><circle cx="533.3" cy="610.8" r="2.75" fill="#ffece5"/><circle cx="508.8" cy="617.3" r="2.75" fill="#ddc7ff"/><circle cx="514.5" cy="618.2" r="2.75" fill="#ddc7ff"/><circle cx="518.4" cy="618.6" r="2.75" fill="#ffece5"/><circle cx="528.0" cy="615.1" r="2.75" fill="#e9d9ff"/><circle cx="532.4" cy="618.2" r="2.75" fill="#c4a2ff"/><circle cx="535.9" cy="616.5" r="2.75" fill="#ffc6b2"/><circle cx="520.2" cy="623.0" r="2.75" fill="#c4a2ff"/><circle cx="524.5" cy="622.2" r="2.75" fill="#e9d9ff"/><circle cx="528.9" cy="622.2" r="2.75" fill="#e9d9ff"/><circle cx="533.3" cy="624.8" r="2.75" fill="#ffece5"/><circle cx="536.8" cy="623.0" r="2.75" fill="#ffbaa3"/><circle cx="523.7" cy="627.0" r="2.75" fill="#ff9e81"/><circle cx="526.3" cy="628.3" r="2.75" fill="#ffb299"/><circle cx="533.3" cy="629.2" r="2.75" fill="#ffc6b2"/><circle cx="535.9" cy="629.6" r="2.75" fill="#ffd1c1"/><circle cx="536.8" cy="626.5" r="2.75" fill="#ffd1c1"/><circle cx="510.5" cy="634.0" r="2.75" fill="#ffd1c1"/><circle cx="536.8" cy="636.2" r="2.75" fill="#ffbaa3"/><circle cx="534.2" cy="641.0" r="2.75" fill="#d4b9ff"/></g><rect x="433.8" y="436.9" width="120" height="220.39999999999998" fill="none" stroke="#333" stroke-width="1.3"/><rect x="433.8" y="413.5" width="120" height="23.399999999999977" fill="#d9d9d9" stroke="#333" stroke-width="1.3"/><line x1="433.8" y1="436.9" x2="553.8" y2="436.9" stroke="#333" stroke-width="1.8"/><text x="493.80" y="429.60" font-size="12.3" fill="#1a1a1a" text-anchor="middle" textLength="61.91" lengthAdjust="spacingAndGlyphs">1830−1880</text><line x1="454.20" y1="657.3" x2="454.20" y2="661.5999999999999" stroke="#333" stroke-width="1.3"/><text x="454.20" y="673.60" font-size="12.3" fill="#4d4d4d" text-anchor="middle" textLength="13.68" lengthAdjust="spacingAndGlyphs">20</text><line x1="486.20" y1="657.3" x2="486.20" y2="661.5999999999999" stroke="#333" stroke-width="1.3"/><text x="486.20" y="673.60" font-size="12.3" fill="#4d4d4d" text-anchor="middle" textLength="13.68" lengthAdjust="spacingAndGlyphs">24</text><line x1="518.20" y1="657.3" x2="518.20" y2="661.5999999999999" stroke="#333" stroke-width="1.3"/><text x="518.20" y="673.60" font-size="12.3" fill="#4d4d4d" text-anchor="middle" textLength="13.68" lengthAdjust="spacingAndGlyphs">28</text><line x1="550.20" y1="657.3" x2="550.20" y2="661.5999999999999" stroke="#333" stroke-width="1.3"/><text x="550.20" y="673.60" font-size="12.3" fill="#4d4d4d" text-anchor="middle" textLength="13.68" lengthAdjust="spacingAndGlyphs">32</text><defs><clipPath id="cb4"><rect x="561.9" y="436.9" width="120" height="220.39999999999998"/></clipPath></defs><g clip-path="url(#cb4)"><line x1="566.30" y1="436.9" x2="566.30" y2="657.3" stroke="#ebebeb" stroke-width="0.75"/><line x1="598.30" y1="436.9" x2="598.30" y2="657.3" stroke="#ebebeb" stroke-width="0.75"/><line x1="630.30" y1="436.9" x2="630.30" y2="657.3" stroke="#ebebeb" stroke-width="0.75"/><line x1="662.30" y1="436.9" x2="662.30" y2="657.3" stroke="#ebebeb" stroke-width="0.75"/><line x1="561.9" y1="611.88" x2="681.9" y2="611.88" stroke="#ebebeb" stroke-width="0.75"/><line x1="561.9" y1="565.12" x2="681.9" y2="565.12" stroke="#ebebeb" stroke-width="0.75"/><line x1="561.9" y1="518.38" x2="681.9" y2="518.38" stroke="#ebebeb" stroke-width="0.75"/><line x1="561.9" y1="471.62" x2="681.9" y2="471.62" stroke="#ebebeb" stroke-width="0.75"/><line x1="582.30" y1="436.9" x2="582.30" y2="657.3" stroke="#ebebeb" stroke-width="1.45"/><line x1="614.30" y1="436.9" x2="614.30" y2="657.3" stroke="#ebebeb" stroke-width="1.45"/><line x1="646.30" y1="436.9" x2="646.30" y2="657.3" stroke="#ebebeb" stroke-width="1.45"/><line x1="678.30" y1="436.9" x2="678.30" y2="657.3" stroke="#ebebeb" stroke-width="1.45"/><line x1="561.9" y1="635.25" x2="681.9" y2="635.25" stroke="#ebebeb" stroke-width="1.45"/><line x1="561.9" y1="588.50" x2="681.9" y2="588.50" stroke="#ebebeb" stroke-width="1.45"/><line x1="561.9" y1="541.75" x2="681.9" y2="541.75" stroke="#ebebeb" stroke-width="1.45"/><line x1="561.9" y1="495.00" x2="681.9" y2="495.00" stroke="#ebebeb" stroke-width="1.45"/><line x1="561.9" y1="448.25" x2="681.9" y2="448.25" stroke="#ebebeb" stroke-width="1.45"/><polygon points="587.02,465.83 588.30,465.08 589.58,465.27 590.30,463.21 591.42,461.71 593.10,461.15 595.82,461.53 597.50,463.77 600.14,467.32 602.78,471.25 606.30,472.19 608.94,472.93 612.86,470.69 616.78,471.62 621.18,473.87 623.82,469.94 627.34,468.07 628.62,460.22 629.90,454.98 632.78,450.87 636.30,449.18 639.90,449.18 642.22,446.94 645.18,446.57 648.22,449.18 651.82,452.18 655.34,453.30 657.10,456.85 655.98,460.41 654.14,463.40 652.38,465.08 654.70,466.95 652.94,468.07 651.18,471.62 650.54,475.18 651.18,478.73 652.94,481.72 656.46,483.03 658.94,485.28 661.26,488.83 663.10,491.82 661.26,496.68 658.30,501.36 656.46,504.91 655.10,506.22 658.70,513.33 662.30,522.86 663.98,528.10 661.02,533.52 661.66,538.20 660.46,542.87 663.98,547.73 663.50,552.41 667.02,557.08 666.46,558.58 664.22,564.38 668.70,570.36 673.10,576.35 674.86,580.83 673.10,586.63 668.70,592.61 663.90,600.65 659.10,607.20 655.90,612.81 651.90,617.48 647.90,624.03 644.70,625.90 639.90,626.27 635.10,628.14 630.30,629.64 626.30,630.58 622.30,631.51 618.30,634.32 614.30,635.25 610.30,636.18 605.90,638.62 603.10,636.18 600.70,633.38 598.30,631.51 595.10,628.70 593.10,624.03 593.50,618.42 594.30,612.81 594.30,605.33 592.70,599.72 592.30,595.98 590.30,588.50 591.10,582.89 590.78,574.10 594.94,573.54 599.90,571.67 600.30,568.87 601.50,565.12 605.50,562.69 609.50,558.58 613.50,552.41 615.66,551.10 617.50,546.99 619.18,544.37 622.78,542.50 623.66,541.75 624.14,537.82 624.14,534.46 624.14,533.15 622.78,531.47 619.66,530.16 618.78,528.29 615.26,526.98 614.30,525.67 612.94,521.55 611.26,515.76 612.38,506.22 611.26,500.24 610.86,498.93 609.58,495.37 610.22,490.70 610.22,486.58 607.98,483.03 606.30,479.48 602.78,477.80 597.50,475.93 591.42,470.32" fill="#7f7f7f"/><polygon points="617.90,541.19 618.94,539.69 621.10,539.51 622.46,540.63 621.66,542.50 619.26,542.50" fill="#7f7f7f"/><circle cx="628.0" cy="513.6" r="2.75" fill="#ff9273"/><circle cx="625.2" cy="538.1" r="2.75" fill="#ffc6b2"/><circle cx="623.2" cy="552.6" r="2.75" fill="#ffaa90"/><circle cx="636.6" cy="552.3" r="2.75" fill="#ff9273"/><circle cx="644.8" cy="552.8" r="2.75" fill="#ff9273"/><circle cx="648.3" cy="551.1" r="2.75" fill="#ff8969"/><circle cx="658.2" cy="558.1" r="2.75" fill="#ff8969"/><circle cx="611.5" cy="559.3" r="2.75" fill="#ffaa90"/><circle cx="604.5" cy="565.1" r="2.75" fill="#ff7352"/><circle cx="607.4" cy="565.1" r="2.75" fill="#ff6544"/><circle cx="605.7" cy="567.4" r="2.75" fill="#ffaa90"/><circle cx="612.1" cy="568.6" r="2.75" fill="#ffd9cb"/><circle cx="612.7" cy="570.4" r="2.75" fill="#ffc6b2"/><circle cx="616.2" cy="570.6" r="2.75" fill="#ff8160"/><circle cx="603.3" cy="571.5" r="2.75" fill="#ffd9cb"/><circle cx="617.9" cy="575.0" r="2.75" fill="#ffaa90"/><circle cx="626.7" cy="572.1" r="2.75" fill="#ffaa90"/><circle cx="642.5" cy="566.6" r="2.75" fill="#ffaa90"/><circle cx="640.7" cy="576.2" r="2.75" fill="#ffb299"/><circle cx="647.1" cy="575.0" r="2.75" fill="#ffbaa3"/><circle cx="650.1" cy="579.5" r="2.75" fill="#ffb299"/><circle cx="650.1" cy="582.6" r="2.75" fill="#ffffff"/><circle cx="662.3" cy="574.8" r="2.75" fill="#ffe0d6"/><circle cx="663.5" cy="583.0" r="2.75" fill="#ffc6b2"/><circle cx="604.5" cy="576.2" r="2.75" fill="#f2e7ff"/><circle cx="608.0" cy="577.4" r="2.75" fill="#ffd1c1"/><circle cx="605.7" cy="582.6" r="2.75" fill="#ffece5"/><circle cx="612.7" cy="581.5" r="2.75" fill="#ffd9cb"/><circle cx="615.0" cy="587.3" r="2.75" fill="#ffd1c1"/><circle cx="620.9" cy="590.2" r="2.75" fill="#ff8160"/><circle cx="619.7" cy="593.1" r="2.75" fill="#ff5031"/><circle cx="627.3" cy="592.0" r="2.75" fill="#ffaa90"/><circle cx="627.9" cy="593.7" r="2.75" fill="#ff9273"/><circle cx="633.7" cy="590.5" r="2.75" fill="#ffb299"/><circle cx="665.2" cy="593.5" r="2.75" fill="#ff7352"/><circle cx="669.9" cy="596.6" r="2.75" fill="#ff9e81"/><circle cx="666.4" cy="597.8" r="2.75" fill="#ffb299"/><circle cx="645.4" cy="599.0" r="2.75" fill="#ff9273"/><circle cx="656.5" cy="599.0" r="2.75" fill="#ff7352"/><circle cx="594.3" cy="600.3" r="2.75" fill="#f2e7ff"/><circle cx="607.0" cy="602.4" r="2.75" fill="#ff9273"/><circle cx="596.9" cy="607.3" r="2.75" fill="#ff9e81"/><circle cx="598.7" cy="609.9" r="2.75" fill="#ffaa90"/><circle cx="601.3" cy="615.6" r="2.75" fill="#ffc6b2"/><circle cx="596.9" cy="614.7" r="2.75" fill="#f2e7ff"/><circle cx="613.6" cy="613.4" r="2.75" fill="#ff8160"/><circle cx="612.7" cy="620.4" r="2.75" fill="#ff8160"/><circle cx="617.1" cy="619.1" r="2.75" fill="#ff6544"/><circle cx="616.6" cy="623.0" r="2.75" fill="#ffaa90"/><circle cx="603.0" cy="623.0" r="2.75" fill="#ff3e22"/><circle cx="599.1" cy="623.9" r="2.75" fill="#ff9273"/><circle cx="605.7" cy="629.6" r="2.75" fill="#ff9e81"/><circle cx="610.9" cy="628.3" r="2.75" fill="#ff8969"/><circle cx="610.0" cy="632.2" r="2.75" fill="#ff6544"/><circle cx="613.6" cy="632.7" r="2.75" fill="#ff5031"/><circle cx="617.9" cy="632.7" r="2.75" fill="#ffd9cb"/><circle cx="595.2" cy="632.2" r="2.75" fill="#ff9e81"/><circle cx="590.8" cy="627.4" r="2.75" fill="#ffc6b2"/><circle cx="589.0" cy="629.6" r="2.75" fill="#ffd1c1"/><circle cx="581.1" cy="628.3" r="2.75" fill="#ffe0d6"/><circle cx="582.9" cy="630.0" r="2.75" fill="#f2e7ff"/><circle cx="585.5" cy="630.9" r="2.75" fill="#ffd9cb"/><circle cx="587.3" cy="632.7" r="2.75" fill="#ffc6b2"/><circle cx="582.0" cy="633.5" r="2.75" fill="#ff3e22"/><circle cx="579.4" cy="630.9" r="2.75" fill="#ffd9cb"/><circle cx="586.4" cy="635.7" r="2.75" fill="#f2e7ff"/><circle cx="589.9" cy="637.0" r="2.75" fill="#ffece5"/><circle cx="566.7" cy="647.6" r="2.75" fill="#ff8969"/><circle cx="628.0" cy="595.4" r="2.75" fill="#ff8969"/><circle cx="645.1" cy="599.8" r="2.75" fill="#ff9e81"/><circle cx="656.5" cy="599.4" r="2.75" fill="#ff8969"/><circle cx="630.6" cy="605.5" r="2.75" fill="#ffaa90"/><circle cx="644.2" cy="605.9" r="2.75" fill="#ffb299"/><circle cx="664.8" cy="595.9" r="2.75" fill="#ff9273"/><circle cx="670.0" cy="596.8" r="2.75" fill="#ffb299"/><circle cx="666.5" cy="599.4" r="2.75" fill="#ffc6b2"/><circle cx="666.5" cy="604.6" r="2.75" fill="#ff6544"/><circle cx="663.0" cy="606.8" r="2.75" fill="#ffaa90"/><circle cx="673.6" cy="604.2" r="2.75" fill="#ffd9cb"/><circle cx="676.6" cy="609.0" r="2.75" fill="#ffc6b2"/><circle cx="653.0" cy="610.8" r="2.75" fill="#ff6544"/><circle cx="657.3" cy="610.8" r="2.75" fill="#ffd1c1"/><circle cx="661.3" cy="610.8" r="2.75" fill="#ffece5"/><circle cx="622.8" cy="614.3" r="2.75" fill="#ffc6b2"/><circle cx="634.1" cy="615.1" r="2.75" fill="#ff7352"/><circle cx="624.5" cy="618.6" r="2.75" fill="#ffaa90"/><circle cx="632.8" cy="619.1" r="2.75" fill="#ff9e81"/><circle cx="645.5" cy="618.2" r="2.75" fill="#ff9e81"/><circle cx="654.3" cy="615.6" r="2.75" fill="#ffd1c1"/><circle cx="657.8" cy="616.0" r="2.75" fill="#ffd9cb"/><circle cx="663.5" cy="616.0" r="2.75" fill="#ff5b3a"/><circle cx="661.3" cy="618.6" r="2.75" fill="#ffd1c1"/><circle cx="664.8" cy="619.5" r="2.75" fill="#ffd1c1"/><circle cx="652.5" cy="621.3" r="2.75" fill="#ff8160"/><circle cx="657.8" cy="622.2" r="2.75" fill="#ffb299"/><circle cx="663.0" cy="623.0" r="2.75" fill="#ffaa90"/><circle cx="667.4" cy="624.8" r="2.75" fill="#ff9e81"/><circle cx="625.4" cy="623.0" r="2.75" fill="#ff8969"/><circle cx="622.3" cy="627.4" r="2.75" fill="#ff9e81"/><circle cx="628.0" cy="627.8" r="2.75" fill="#ffd1c1"/><circle cx="635.0" cy="626.1" r="2.75" fill="#ffaa90"/><circle cx="638.5" cy="624.3" r="2.75" fill="#ff8969"/><circle cx="644.2" cy="623.9" r="2.75" fill="#ffe0d6"/><circle cx="651.7" cy="627.0" r="2.75" fill="#ff8969"/><circle cx="654.3" cy="628.3" r="2.75" fill="#ffbaa3"/><circle cx="660.4" cy="630.5" r="2.75" fill="#ff9e81"/><circle cx="663.0" cy="629.2" r="2.75" fill="#ffb299"/><circle cx="622.3" cy="631.8" r="2.75" fill="#ff3e22"/><circle cx="638.5" cy="633.5" r="2.75" fill="#ff7352"/><circle cx="639.8" cy="637.9" r="2.75" fill="#ff3e22"/><circle cx="664.8" cy="636.2" r="2.75" fill="#ff8160"/><circle cx="592.0" cy="579.8" r="2.75" fill="#ffc2ad"/></g><rect x="561.9" y="436.9" width="120" height="220.39999999999998" fill="none" stroke="#333" stroke-width="1.3"/><rect x="561.9" y="413.5" width="120" height="23.399999999999977" fill="#d9d9d9" stroke="#333" stroke-width="1.3"/><line x1="561.9" y1="436.9" x2="681.9" y2="436.9" stroke="#333" stroke-width="1.8"/><text x="621.90" y="429.60" font-size="12.3" fill="#1a1a1a" text-anchor="middle" textLength="57.79" lengthAdjust="spacingAndGlyphs">post−1880</text><line x1="582.30" y1="657.3" x2="582.30" y2="661.5999999999999" stroke="#333" stroke-width="1.3"/><text x="582.30" y="673.60" font-size="12.3" fill="#4d4d4d" text-anchor="middle" textLength="13.68" lengthAdjust="spacingAndGlyphs">20</text><line x1="614.30" y1="657.3" x2="614.30" y2="661.5999999999999" stroke="#333" stroke-width="1.3"/><text x="614.30" y="673.60" font-size="12.3" fill="#4d4d4d" text-anchor="middle" textLength="13.68" lengthAdjust="spacingAndGlyphs">24</text><line x1="646.30" y1="657.3" x2="646.30" y2="661.5999999999999" stroke="#333" stroke-width="1.3"/><text x="646.30" y="673.60" font-size="12.3" fill="#4d4d4d" text-anchor="middle" textLength="13.68" lengthAdjust="spacingAndGlyphs">28</text><line x1="678.30" y1="657.3" x2="678.30" y2="661.5999999999999" stroke="#333" stroke-width="1.3"/><text x="678.30" y="673.60" font-size="12.3" fill="#4d4d4d" text-anchor="middle" textLength="13.68" lengthAdjust="spacingAndGlyphs">32</text><line x1="45.2" y1="635.25" x2="49.5" y2="635.25" stroke="#333" stroke-width="1.3"/><text x="42.40" y="639.65" font-size="12.3" fill="#4d4d4d" text-anchor="end" textLength="23.94" lengthAdjust="spacingAndGlyphs">60.0</text><line x1="45.2" y1="588.50" x2="49.5" y2="588.50" stroke="#333" stroke-width="1.3"/><text x="42.40" y="592.90" font-size="12.3" fill="#4d4d4d" text-anchor="end" textLength="23.94" lengthAdjust="spacingAndGlyphs">62.5</text><line x1="45.2" y1="541.75" x2="49.5" y2="541.75" stroke="#333" stroke-width="1.3"/><text x="42.40" y="546.15" font-size="12.3" fill="#4d4d4d" text-anchor="end" textLength="23.94" lengthAdjust="spacingAndGlyphs">65.0</text><line x1="45.2" y1="495.00" x2="49.5" y2="495.00" stroke="#333" stroke-width="1.3"/><text x="42.40" y="499.40" font-size="12.3" fill="#4d4d4d" text-anchor="end" textLength="23.94" lengthAdjust="spacingAndGlyphs">67.5</text><line x1="45.2" y1="448.25" x2="49.5" y2="448.25" stroke="#333" stroke-width="1.3"/><text x="42.40" y="452.65" font-size="12.3" fill="#4d4d4d" text-anchor="end" textLength="23.94" lengthAdjust="spacingAndGlyphs">70.0</text><text x="1" y="14" font-size="19.4" font-weight="bold" fill="#000" textLength="16.89" lengthAdjust="spacingAndGlyphs">a)</text><text x="1.6" y="412.1" font-size="19.4" font-weight="bold" fill="#000" textLength="17.74" lengthAdjust="spacingAndGlyphs">b)</text><text x="367.9" y="291.8" font-size="16.5" fill="#000" text-anchor="middle">Longitude</text><text x="365.8" y="690.7" font-size="15" fill="#000" text-anchor="middle">Longitude</text><text transform="translate(13.1,146.1) rotate(-90)" font-size="16.5" fill="#000" text-anchor="middle">Latitude</text><text transform="translate(11.3,547.15) rotate(-90)" font-size="15" fill="#000" text-anchor="middle">Latitude</text><text x="171.5" y="348.6" font-size="16.5" fill="#000">Proportion with hereditary patronym</text><defs><linearGradient id="ga" x1="0" x2="1" y1="0" y2="0"><stop offset="0.000" stop-color="#0000ff"/><stop offset="0.025" stop-color="#381bff"/><stop offset="0.050" stop-color="#502bff"/><stop offset="0.075" stop-color="#6239ff"/><stop offset="0.100" stop-color="#7145ff"/><stop offset="0.125" stop-color="#7e52ff"/><stop offset="0.150" stop-color="#8a5dff"/><stop offset="0.175" stop-color="#9569ff"/><stop offset="0.200" stop-color="#a074ff"/><stop offset="0.225" stop-color="#aa80ff"/><stop offset="0.250" stop-color="#b38bff"/><stop offset="0.275" stop-color="#bc97ff"/><stop offset="0.300" stop-color="#c4a2ff"/><stop offset="0.325" stop-color="#ccadff"/><stop offset="0.350" stop-color="#d4b9ff"/><stop offset="0.375" stop-color="#dcc4ff"/><stop offset="0.400" stop-color="#e3d0ff"/><stop offset="0.425" stop-color="#ebdcff"/><stop offset="0.450" stop-color="#f2e7ff"/><stop offset="0.475" stop-color="#f8f3ff"/><stop offset="0.500" stop-color="#ffffff"/><stop offset="0.525" stop-color="#fff5f2"/><stop offset="0.550" stop-color="#ffece5"/><stop offset="0.575" stop-color="#ffe2d8"/><stop offset="0.600" stop-color="#ffd9cb"/><stop offset="0.625" stop-color="#ffcfbf"/><stop offset="0.650" stop-color="#ffc6b2"/><stop offset="0.675" stop-color="#ffbca6"/><stop offset="0.700" stop-color="#ffb299"/><stop offset="0.725" stop-color="#ffa88d"/><stop offset="0.750" stop-color="#ff9e81"/><stop offset="0.775" stop-color="#ff9475"/><stop offset="0.800" stop-color="#ff8969"/><stop offset="0.825" stop-color="#ff7e5e"/><stop offset="0.850" stop-color="#ff7352"/><stop offset="0.875" stop-color="#ff6846"/><stop offset="0.900" stop-color="#ff5b3a"/><stop offset="0.925" stop-color="#ff4d2e"/><stop offset="0.950" stop-color="#ff3e22"/><stop offset="0.975" stop-color="#ff2913"/><stop offset="1.000" stop-color="#ff0000"/></linearGradient></defs><rect x="444.3" y="319.8" width="119.40000000000003" height="24.80000000000001" fill="url(#ga)"/><text x="444.30" y="362.20" font-size="14.2" fill="#000" text-anchor="middle" textLength="26.28" lengthAdjust="spacingAndGlyphs">0.00</text><line x1="474.15" y1="319.8" x2="474.15" y2="324.76" stroke="#fff" stroke-width="1"/><line x1="474.15" y1="339.64" x2="474.15" y2="344.6" stroke="#fff" stroke-width="1"/><text x="474.15" y="362.20" font-size="14.2" fill="#000" text-anchor="middle" textLength="26.28" lengthAdjust="spacingAndGlyphs">0.25</text><line x1="504.00" y1="319.8" x2="504.00" y2="324.76" stroke="#fff" stroke-width="1"/><line x1="504.00" y1="339.64" x2="504.00" y2="344.6" stroke="#fff" stroke-width="1"/><text x="504.00" y="362.20" font-size="14.2" fill="#000" text-anchor="middle" textLength="26.28" lengthAdjust="spacingAndGlyphs">0.50</text><line x1="533.85" y1="319.8" x2="533.85" y2="324.76" stroke="#fff" stroke-width="1"/><line x1="533.85" y1="339.64" x2="533.85" y2="344.6" stroke="#fff" stroke-width="1"/><text x="533.85" y="362.20" font-size="14.2" fill="#000" text-anchor="middle" textLength="26.28" lengthAdjust="spacingAndGlyphs">0.75</text><text x="563.70" y="362.20" font-size="14.2" fill="#000" text-anchor="middle" textLength="26.28" lengthAdjust="spacingAndGlyphs">1.00</text><text x="231.7" y="743.9" font-size="15" fill="#000">Prefix−name entropy</text><defs><linearGradient id="gb" x1="0" x2="1" y1="0" y2="0"><stop offset="0.000" stop-color="#7a4eff"/><stop offset="0.025" stop-color="#8558ff"/><stop offset="0.050" stop-color="#8f63ff"/><stop offset="0.075" stop-color="#996dff"/><stop offset="0.100" stop-color="#a277ff"/><stop offset="0.125" stop-color="#ab81ff"/><stop offset="0.150" stop-color="#b38bff"/><stop offset="0.175" stop-color="#bb95ff"/><stop offset="0.200" stop-color="#c29fff"/><stop offset="0.225" stop-color="#caa9ff"/><stop offset="0.250" stop-color="#d1b3ff"/><stop offset="0.275" stop-color="#d7beff"/><stop offset="0.300" stop-color="#dec8ff"/><stop offset="0.325" stop-color="#e5d2ff"/><stop offset="0.350" stop-color="#ebdcff"/><stop offset="0.375" stop-color="#f1e7ff"/><stop offset="0.400" stop-color="#f7f1ff"/><stop offset="0.425" stop-color="#fdfbff"/><stop offset="0.450" stop-color="#fff9f7"/><stop offset="0.475" stop-color="#fff1ec"/><stop offset="0.500" stop-color="#ffe9e0"/><stop offset="0.525" stop-color="#ffe0d5"/><stop offset="0.550" stop-color="#ffd8ca"/><stop offset="0.575" stop-color="#ffcfbf"/><stop offset="0.600" stop-color="#ffc7b4"/><stop offset="0.625" stop-color="#ffbea9"/><stop offset="0.650" stop-color="#ffb59e"/><stop offset="0.675" stop-color="#ffad93"/><stop offset="0.700" stop-color="#ffa488"/><stop offset="0.725" stop-color="#ff9b7e"/><stop offset="0.750" stop-color="#ff9273"/><stop offset="0.775" stop-color="#ff8969"/><stop offset="0.800" stop-color="#ff7f5e"/><stop offset="0.825" stop-color="#ff7554"/><stop offset="0.850" stop-color="#ff6b4a"/><stop offset="0.875" stop-color="#ff603f"/><stop offset="0.900" stop-color="#ff5535"/><stop offset="0.925" stop-color="#ff482a"/><stop offset="0.950" stop-color="#ff391e"/><stop offset="0.975" stop-color="#ff2711"/><stop offset="1.000" stop-color="#ff0000"/></linearGradient></defs><rect x="379.22200000000004" y="717.2" width="120.47399999999999" height="24.5" fill="url(#gb)"/><line x1="393.10" y1="717.2" x2="393.10" y2="722.10" stroke="#fff" stroke-width="1"/><line x1="393.10" y1="736.80" x2="393.10" y2="741.7" stroke="#fff" stroke-width="1"/><text x="393.10" y="757.80" font-size="13.2" fill="#000" text-anchor="middle" textLength="18.07" lengthAdjust="spacingAndGlyphs">3.5</text><line x1="420.10" y1="717.2" x2="420.10" y2="722.10" stroke="#fff" stroke-width="1"/><line x1="420.10" y1="736.80" x2="420.10" y2="741.7" stroke="#fff" stroke-width="1"/><text x="420.10" y="757.80" font-size="13.2" fill="#000" text-anchor="middle" textLength="18.07" lengthAdjust="spacingAndGlyphs">4.0</text><line x1="447.10" y1="717.2" x2="447.10" y2="722.10" stroke="#fff" stroke-width="1"/><line x1="447.10" y1="736.80" x2="447.10" y2="741.7" stroke="#fff" stroke-width="1"/><text x="447.10" y="757.80" font-size="13.2" fill="#000" text-anchor="middle" textLength="18.07" lengthAdjust="spacingAndGlyphs">4.5</text><line x1="474.10" y1="717.2" x2="474.10" y2="722.10" stroke="#fff" stroke-width="1"/><line x1="474.10" y1="736.80" x2="474.10" y2="741.7" stroke="#fff" stroke-width="1"/><text x="474.10" y="757.80" font-size="13.2" fill="#000" text-anchor="middle" textLength="18.07" lengthAdjust="spacingAndGlyphs">5.0</text></svg>
</div></body></html>
